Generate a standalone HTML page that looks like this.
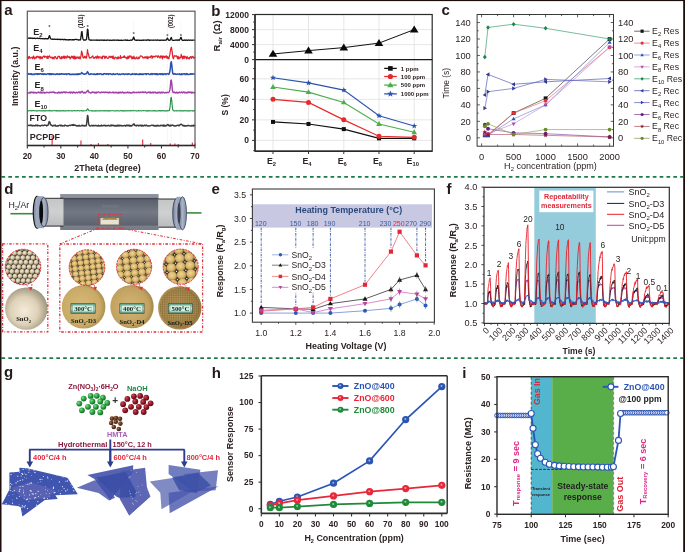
<!DOCTYPE html>
<html><head><meta charset="utf-8"><style>
html,body{margin:0;padding:0;background:#fff;}
svg{display:block;}
text{-webkit-font-smoothing:antialiased;}
</style></head><body>
<svg style="will-change:transform" width="685" height="552" viewBox="0 0 685 552" font-family="Liberation Sans, sans-serif">
<rect x="0" y="0" width="685" height="552" fill="#ffffff"/>
<line x1="49.44" y1="22" x2="49.44" y2="145.5" stroke="#f0d0da" stroke-width="0.5" stroke-dasharray="1.2,1.6"/>
<line x1="81.63" y1="22" x2="81.63" y2="145.5" stroke="#f0d0da" stroke-width="0.5" stroke-dasharray="1.2,1.6"/>
<line x1="87.67" y1="22" x2="87.67" y2="145.5" stroke="#f0d0da" stroke-width="0.5" stroke-dasharray="1.2,1.6"/>
<line x1="133.62" y1="22" x2="133.62" y2="145.5" stroke="#f0d0da" stroke-width="0.5" stroke-dasharray="1.2,1.6"/>
<line x1="167.5" y1="22" x2="167.5" y2="145.5" stroke="#f0d0da" stroke-width="0.5" stroke-dasharray="1.2,1.6"/>
<line x1="171.19" y1="22" x2="171.19" y2="145.5" stroke="#f0d0da" stroke-width="0.5" stroke-dasharray="1.2,1.6"/>
<line x1="180.91" y1="22" x2="180.91" y2="145.5" stroke="#f0d0da" stroke-width="0.5" stroke-dasharray="1.2,1.6"/>
<polyline points="27.3,38.07 27.79,38.22 28.29,38.14 28.78,38.26 29.27,38.27 29.77,37.99 30.26,37.97 30.75,38.39 31.25,38.11 31.74,38.1 32.23,38.49 32.73,38.24 33.22,38.43 33.71,38.26 34.21,38.35 34.7,38.12 35.19,38.38 35.69,38.51 36.18,38.35 36.67,38.47 37.16,38.45 37.66,38.16 38.15,38.53 38.64,38.46 39.14,38.33 39.63,38.22 40.12,38.65 40.62,38.48 41.11,38.62 41.6,38.72 42.1,38.66 42.59,38.79 43.08,38.54 43.58,38.77 44.07,38.61 44.56,38.88 45.06,38.88 45.55,38.51 46.04,38.55 46.54,38.62 47.03,39.02 47.52,38.77 48.02,38.82 48.51,38.08 49,36.55 49.5,35.57 49.99,36.98 50.48,38.56 50.98,38.98 51.47,39.21 51.96,39.13 52.45,39.27 52.95,39.26 53.44,39.36 53.93,39.22 54.43,38.99 54.92,39.37 55.41,39.44 55.91,39.44 56.4,39.29 56.89,39.39 57.39,39.16 57.88,39.49 58.37,39.39 58.87,39.27 59.36,39.18 59.85,39.6 60.35,39.69 60.84,39.26 61.33,39.64 61.83,39.46 62.32,39.35 62.81,39.45 63.31,39.7 63.8,39.77 64.29,39.38 64.79,39.68 65.28,39.42 65.77,39.77 66.27,39.6 66.76,39.89 67.25,39.96 67.75,39.74 68.24,40 68.73,39.67 69.22,39.57 69.72,39.85 70.21,39.58 70.7,39.67 71.2,39.79 71.69,39.9 72.18,39.68 72.68,39.61 73.17,39.98 73.66,39.64 74.16,39.87 74.65,39.73 75.14,39.36 75.64,39.34 76.13,39.38 76.62,39.51 77.12,39.6 77.61,39.72 78.1,39.87 78.6,40.12 79.09,39.97 79.58,39.97 80.08,40.09 80.57,39.32 81.06,36.47 81.56,31.8 82.05,31.58 82.54,36.62 83.04,39.25 83.53,40 84.02,40.12 84.52,39.85 85.01,40.15 85.5,40.17 86,39.82 86.49,39.26 86.98,35.1 87.47,29.04 87.97,29.83 88.46,36.41 88.95,39.67 89.45,39.86 89.94,39.92 90.43,40.23 90.93,40.38 91.42,40.02 91.91,40.13 92.41,40.2 92.9,40.07 93.39,40.09 93.89,40.07 94.38,40.1 94.87,40.21 95.37,40.07 95.86,40.11 96.35,40.31 96.85,39.94 97.34,40.21 97.83,40.29 98.33,40.08 98.82,40.04 99.31,40.33 99.81,40.05 100.3,40.03 100.79,40.15 101.29,40.28 101.78,39.99 102.27,40.1 102.76,40.1 103.26,40.35 103.75,40.16 104.24,40.37 104.74,40.02 105.23,40.11 105.72,40.27 106.22,40.38 106.71,40.17 107.2,40.06 107.7,40 108.19,40.21 108.68,40.04 109.18,40.35 109.67,40.36 110.16,40.04 110.66,40.09 111.15,40.35 111.64,40.27 112.14,40.35 112.63,40.12 113.12,40.01 113.62,40.09 114.11,40.34 114.6,40.08 115.1,40.12 115.59,40.16 116.08,40.16 116.58,40.15 117.07,40.41 117.56,40.03 118.06,39.95 118.55,40.42 119.04,40.39 119.53,40.44 120.03,40.17 120.52,40.42 121.01,40.41 121.51,40.06 122,40.32 122.49,40.37 122.99,40.28 123.48,40.21 123.97,40.09 124.47,40.12 124.96,40.06 125.45,39.98 125.95,40.24 126.44,40.09 126.93,40.35 127.43,39.97 127.92,40.4 128.41,40.3 128.91,40.41 129.4,40.4 129.89,40.4 130.39,40.24 130.88,39.96 131.37,40.32 131.87,40.02 132.36,39.93 132.85,39.2 133.35,37.43 133.84,37.22 134.33,39.15 134.83,40.03 135.32,40.1 135.81,40.08 136.31,40.38 136.8,40.19 137.29,40.34 137.78,40.13 138.28,40.05 138.77,40.22 139.26,40.36 139.76,40.04 140.25,40.35 140.74,40.41 141.24,40.35 141.73,40.36 142.22,39.95 142.72,40.26 143.21,40.38 143.7,39.97 144.2,40.09 144.69,40.08 145.18,40.21 145.68,40.16 146.17,40.19 146.66,40.34 147.16,39.95 147.65,39.98 148.14,40.01 148.64,40.01 149.13,39.98 149.62,40.44 150.12,40.38 150.61,39.99 151.1,40.2 151.6,40.11 152.09,40.11 152.58,40.13 153.08,40.27 153.57,40.24 154.06,40.13 154.55,40.05 155.05,40.11 155.54,40.01 156.03,40.23 156.53,40.31 157.02,40.14 157.51,39.99 158.01,40.04 158.5,40.14 158.99,40.25 159.49,40.34 159.98,40.14 160.47,40.35 160.97,40.26 161.46,40.17 161.95,40.14 162.45,40.2 162.94,40.3 163.43,40.16 163.93,40.3 164.42,40.18 164.91,40.07 165.41,40.22 165.9,40.29 166.39,39.84 166.89,39.2 167.38,38.03 167.87,38.78 168.37,40.01 168.86,40.1 169.35,40.4 169.84,40.3 170.34,39.56 170.83,38.22 171.32,37.52 171.82,39.28 172.31,40.12 172.8,40.39 173.3,40.35 173.79,40.28 174.28,40.32 174.78,40.23 175.27,40 175.76,40.24 176.26,39.95 176.75,40.02 177.24,40.34 177.74,39.97 178.23,40 178.72,40 179.22,40.38 179.71,39.83 180.2,38.77 180.7,37.62 181.19,37.4 181.68,39.36 182.18,40.13 182.67,40.36 183.16,40.43 183.66,40.24 184.15,40.35 184.64,39.97 185.14,40.33 185.63,40.21 186.12,40.31 186.61,40 187.11,40.32 187.6,40.42 188.09,39.98 188.59,40.11 189.08,40.23 189.57,40.36 190.07,40.07 190.56,40.04 191.05,40.07 191.55,40.26 192.04,40.33 192.53,40.15 193.03,40.13 193.52,40.15 194.01,40.13 194.51,40.16 195,39.99" stroke="#151515" stroke-width="1.3" fill="none" stroke-linejoin="round"/>
<polyline points="27.3,57.4 27.79,59.01 28.29,57.1 28.78,58.24 29.27,56.25 29.77,58.05 30.26,58.27 30.75,57.99 31.25,57.46 31.74,57.34 32.23,57.89 32.73,58.75 33.22,56.21 33.71,56.03 34.21,58.24 34.7,58.82 35.19,57.46 35.69,57.21 36.18,58.14 36.67,56.33 37.16,56.61 37.66,56.38 38.15,57.69 38.64,56.77 39.14,56.49 39.63,58.05 40.12,58.94 40.62,56.71 41.11,58.1 41.6,57.1 42.1,58.6 42.59,57.69 43.08,56.61 43.58,56.44 44.07,55.78 44.56,57.33 45.06,57 45.55,56.29 46.04,56.92 46.54,56.78 47.03,58.27 47.52,55.99 48.02,58.58 48.51,56.4 49,56.39 49.5,55.79 49.99,57.27 50.48,57.68 50.98,57.19 51.47,57.19 51.96,58.11 52.45,58.6 52.95,57.06 53.44,58.19 53.93,58.96 54.43,57.29 54.92,56.48 55.41,56.5 55.91,58.14 56.4,58 56.89,58.96 57.39,58.6 57.88,56.52 58.37,56.34 58.87,56.58 59.36,56.34 59.85,58.1 60.35,58.62 60.84,58.76 61.33,56.57 61.83,58.64 62.32,56.77 62.81,57.14 63.31,58.18 63.8,55.99 64.29,56.01 64.79,58.54 65.28,56.69 65.77,56.91 66.27,57.67 66.76,58 67.25,55.72 67.75,56.84 68.24,57.18 68.73,57.35 69.22,56.41 69.72,57.69 70.21,58.95 70.7,57.03 71.2,57.55 71.69,56.11 72.18,56.63 72.68,57.96 73.17,56.08 73.66,58.72 74.16,58.79 74.65,56.03 75.14,58.9 75.64,56.97 76.13,58.33 76.62,58.27 77.12,56.7 77.61,58 78.1,57.92 78.6,58.44 79.09,56.6 79.58,58.26 80.08,58.95 80.57,57.65 81.06,55.51 81.56,51.17 82.05,52.46 82.54,54.88 83.04,57.8 83.53,57.98 84.02,57.63 84.52,56.32 85.01,57.9 85.5,57.84 86,56.27 86.49,58.19 86.98,55.01 87.47,49.6 87.97,52.91 88.46,53.95 88.95,56.49 89.45,58.13 89.94,57.73 90.43,57.59 90.93,57.9 91.42,57.26 91.91,56.76 92.41,56.3 92.9,55.93 93.39,58.13 93.89,58.27 94.38,57.55 94.87,58.21 95.37,56.92 95.86,56.6 96.35,57 96.85,58.67 97.34,55.84 97.83,57.42 98.33,56.54 98.82,58.31 99.31,56.9 99.81,56.83 100.3,57.07 100.79,57.54 101.29,58.32 101.78,56.9 102.27,58.58 102.76,56.08 103.26,56.62 103.75,56.04 104.24,56.08 104.74,58.35 105.23,58.17 105.72,56.33 106.22,56.34 106.71,57.12 107.2,58.23 107.7,58.47 108.19,58.25 108.68,57.71 109.18,56.2 109.67,57.05 110.16,56.36 110.66,57.49 111.15,57.63 111.64,56.39 112.14,56.55 112.63,58.36 113.12,55.8 113.62,58.43 114.11,58.73 114.6,58.93 115.1,57 115.59,57.58 116.08,57.68 116.58,57.85 117.07,59.02 117.56,58.03 118.06,56.72 118.55,58.62 119.04,57.35 119.53,57.74 120.03,58.17 120.52,55.71 121.01,58.32 121.51,57.95 122,57.37 122.49,57.48 122.99,57.27 123.48,56.36 123.97,57.5 124.47,55.83 124.96,57.4 125.45,57.9 125.95,57.21 126.44,57.62 126.93,58.96 127.43,58.73 127.92,56.16 128.41,58.39 128.91,57.82 129.4,55.87 129.89,56.92 130.39,56.49 130.88,55.96 131.37,57.53 131.87,58.86 132.36,56.8 132.85,58.66 133.35,58.06 133.84,56.16 134.33,58.62 134.83,57.74 135.32,58.85 135.81,58.13 136.31,58.22 136.8,56.87 137.29,58.44 137.78,58.87 138.28,58.63 138.77,57.19 139.26,58.27 139.76,57.35 140.25,56.07 140.74,55.85 141.24,55.97 141.73,56.38 142.22,56.25 142.72,57.39 143.21,58.08 143.7,57.53 144.2,57.14 144.69,57.91 145.18,56.74 145.68,57.28 146.17,58.27 146.66,57.06 147.16,56.31 147.65,58.76 148.14,58.15 148.64,56.95 149.13,56.96 149.62,57.5 150.12,57.73 150.61,56.46 151.1,55.71 151.6,56.41 152.09,58.36 152.58,56.19 153.08,57.26 153.57,56.36 154.06,56.41 154.55,56.28 155.05,57.07 155.54,56.27 156.03,55.79 156.53,56.07 157.02,56.27 157.51,57.37 158.01,55.9 158.5,55.78 158.99,57.22 159.49,57.09 159.98,58.09 160.47,55.87 160.97,57.07 161.46,57.05 161.95,55.79 162.45,58.98 162.94,56.44 163.43,56.02 163.93,57.31 164.42,56.26 164.91,57.82 165.41,56.88 165.9,56.12 166.39,55.88 166.89,58.17 167.38,56.64 167.87,58.38 168.37,57.28 168.86,58.82 169.35,56.33 169.84,54.69 170.34,51.2 170.83,48.76 171.32,47.04 171.82,49.45 172.31,52.86 172.8,57.19 173.3,58.86 173.79,57.7 174.28,55.71 174.78,55.8 175.27,56.01 175.76,56.28 176.26,55.82 176.75,55.88 177.24,57.92 177.74,58.76 178.23,56.38 178.72,59 179.22,57.23 179.71,58.07 180.2,57.91 180.7,57.46 181.19,54.43 181.68,55.9 182.18,57.45 182.67,58.85 183.16,55.99 183.66,56.7 184.15,58.59 184.64,56.09 185.14,57.03 185.63,56.84 186.12,58.01 186.61,58.86 187.11,56.29 187.6,58.22 188.09,58.2 188.59,58.54 189.08,57.58 189.57,58.84 190.07,56.93 190.56,57.11 191.05,56.48 191.55,58.35 192.04,57.33 192.53,56.62 193.03,56.28 193.52,58.15 194.01,57.76 194.51,58.12 195,57.02" stroke="#e0202a" stroke-width="1.2" fill="none" stroke-linejoin="round"/>
<polyline points="27.3,74.09 27.79,73.75 28.29,74.31 28.78,73.62 29.27,74.07 29.77,74.36 30.26,74.28 30.75,73.7 31.25,73.84 31.74,74.44 32.23,74.24 32.73,74.48 33.22,74.47 33.71,74.05 34.21,74.5 34.7,74.33 35.19,73.93 35.69,73.97 36.18,73.67 36.67,74 37.16,74.56 37.66,73.7 38.15,74.17 38.64,73.71 39.14,73.68 39.63,74.25 40.12,73.84 40.62,73.65 41.11,73.75 41.6,74.24 42.1,74.19 42.59,73.61 43.08,73.83 43.58,74.57 44.07,73.82 44.56,74.16 45.06,74.02 45.55,74.38 46.04,74.2 46.54,74.39 47.03,74.14 47.52,73.79 48.02,73.78 48.51,73.68 49,74.43 49.5,73.71 49.99,73.62 50.48,74.57 50.98,73.8 51.47,74.49 51.96,73.69 52.45,74.07 52.95,73.82 53.44,74.43 53.93,74.22 54.43,74.24 54.92,74.36 55.41,74.47 55.91,73.95 56.4,74.2 56.89,74.05 57.39,73.71 57.88,74.44 58.37,74.19 58.87,74.41 59.36,73.81 59.85,74.14 60.35,74.06 60.84,74.33 61.33,73.68 61.83,73.95 62.32,74.08 62.81,73.67 63.31,74.15 63.8,74.34 64.29,74.02 64.79,74.25 65.28,74.21 65.77,73.81 66.27,73.95 66.76,74.6 67.25,73.94 67.75,74.03 68.24,73.68 68.73,73.82 69.22,73.77 69.72,74.53 70.21,74.33 70.7,74.47 71.2,74.59 71.69,74.21 72.18,74.53 72.68,74.14 73.17,74.02 73.66,74.55 74.16,74.5 74.65,74.55 75.14,74.08 75.64,74.37 76.13,74.01 76.62,74.6 77.12,74.52 77.61,73.89 78.1,74.53 78.6,73.78 79.09,73.7 79.58,74.32 80.08,73.88 80.57,73.97 81.06,73.64 81.56,72.45 82.05,73.15 82.54,73.28 83.04,73.88 83.53,73.93 84.02,74.34 84.52,74.35 85.01,73.89 85.5,73.7 86,73.86 86.49,73.71 86.98,72.56 87.47,71.67 87.97,72.42 88.46,73.39 88.95,74.36 89.45,74.55 89.94,74.47 90.43,73.97 90.93,73.76 91.42,73.91 91.91,74.06 92.41,74.13 92.9,74.14 93.39,73.96 93.89,74.45 94.38,73.89 94.87,74.06 95.37,74.49 95.86,74.41 96.35,73.9 96.85,73.84 97.34,74.41 97.83,73.61 98.33,73.73 98.82,74.13 99.31,74.14 99.81,73.77 100.3,73.65 100.79,73.8 101.29,74.37 101.78,74.07 102.27,74.58 102.76,74.39 103.26,74.58 103.75,73.64 104.24,73.79 104.74,73.61 105.23,74.03 105.72,73.94 106.22,73.65 106.71,74.15 107.2,73.69 107.7,73.91 108.19,73.85 108.68,74.4 109.18,74.02 109.67,73.86 110.16,73.64 110.66,74.03 111.15,74.23 111.64,74.28 112.14,74.51 112.63,74.41 113.12,73.85 113.62,73.74 114.11,74.36 114.6,74.39 115.1,74.11 115.59,74.43 116.08,74.15 116.58,73.88 117.07,73.77 117.56,73.62 118.06,74.24 118.55,74.5 119.04,74.51 119.53,74.07 120.03,74.27 120.52,74.53 121.01,74.41 121.51,74.2 122,74.01 122.49,74.12 122.99,73.77 123.48,73.78 123.97,74.28 124.47,74.59 124.96,74.15 125.45,74.01 125.95,73.95 126.44,74.05 126.93,74.4 127.43,74.05 127.92,74.56 128.41,73.76 128.91,73.91 129.4,74.12 129.89,74.01 130.39,74.45 130.88,74.43 131.37,74.53 131.87,74.21 132.36,73.63 132.85,74.17 133.35,74.15 133.84,74.09 134.33,73.88 134.83,74.31 135.32,74.51 135.81,73.7 136.31,74.27 136.8,73.97 137.29,74.11 137.78,74.5 138.28,74.56 138.77,74.24 139.26,73.8 139.76,74.52 140.25,73.78 140.74,73.98 141.24,74.43 141.73,73.92 142.22,73.87 142.72,74.55 143.21,74.54 143.7,73.92 144.2,73.99 144.69,73.88 145.18,73.73 145.68,73.85 146.17,74.58 146.66,73.68 147.16,73.83 147.65,73.8 148.14,73.68 148.64,74.13 149.13,74.34 149.62,74.44 150.12,74.23 150.61,74.42 151.1,73.61 151.6,73.88 152.09,74.56 152.58,73.67 153.08,73.87 153.57,74.08 154.06,73.87 154.55,74.15 155.05,73.65 155.54,73.84 156.03,74.56 156.53,73.74 157.02,74.51 157.51,73.78 158.01,74.59 158.5,74.27 158.99,74.25 159.49,73.74 159.98,73.65 160.47,74.36 160.97,73.78 161.46,73.79 161.95,74.42 162.45,74.47 162.94,73.65 163.43,74.56 163.93,74.13 164.42,73.98 164.91,73.71 165.41,73.99 165.9,74.59 166.39,73.88 166.89,73.73 167.38,73.75 167.87,73.73 168.37,73.95 168.86,74.45 169.35,73.21 169.84,71.59 170.34,68.15 170.83,63.12 171.32,61.82 171.82,65.08 172.31,70.23 172.8,73.57 173.3,73.93 173.79,74.29 174.28,73.91 174.78,73.62 175.27,73.95 175.76,74.35 176.26,74.38 176.75,74.17 177.24,74.06 177.74,74.14 178.23,74.04 178.72,74.13 179.22,74.43 179.71,73.8 180.2,74.19 180.7,74.53 181.19,74.45 181.68,73.78 182.18,74.56 182.67,74.44 183.16,73.77 183.66,73.87 184.15,73.8 184.64,73.65 185.14,74.58 185.63,74.01 186.12,74.47 186.61,73.71 187.11,73.61 187.6,74.47 188.09,74.39 188.59,74.59 189.08,74.29 189.57,74.13 190.07,74.37 190.56,73.69 191.05,74.14 191.55,74.04 192.04,73.75 192.53,74.2 193.03,73.92 193.52,74.11 194.01,73.97 194.51,73.92 195,73.96" stroke="#2a50b0" stroke-width="1.5" fill="none" stroke-linejoin="round"/>
<polyline points="27.3,92.62 27.79,93.08 28.29,93.02 28.78,92.93 29.27,92.9 29.77,92.24 30.26,93.07 30.75,92.22 31.25,92.05 31.74,92.5 32.23,92.78 32.73,92.31 33.22,92.67 33.71,92.24 34.21,93.06 34.7,92.44 35.19,92.47 35.69,92.54 36.18,92.95 36.67,93.08 37.16,92.53 37.66,92.43 38.15,92.64 38.64,91.98 39.14,92.41 39.63,92.92 40.12,92.83 40.62,91.97 41.11,92.93 41.6,92.36 42.1,93.08 42.59,92.34 43.08,92.16 43.58,92.56 44.07,92.96 44.56,92.42 45.06,92.94 45.55,92.75 46.04,92.33 46.54,92.26 47.03,92.51 47.52,92.38 48.02,92.35 48.51,92.68 49,92.95 49.5,92.6 49.99,92.08 50.48,92.16 50.98,92.35 51.47,92.64 51.96,92.07 52.45,92 52.95,92.28 53.44,92.24 53.93,91.94 54.43,92.55 54.92,93.01 55.41,92.54 55.91,92.78 56.4,92.89 56.89,92.91 57.39,93 57.88,92.43 58.37,92.72 58.87,92.04 59.36,92.96 59.85,92.35 60.35,92.47 60.84,92.97 61.33,92.24 61.83,92.13 62.32,92.89 62.81,92.62 63.31,92 63.8,91.93 64.29,92.32 64.79,91.91 65.28,92.9 65.77,92.12 66.27,92.23 66.76,92.37 67.25,92.51 67.75,92.42 68.24,92.65 68.73,92.69 69.22,92.42 69.72,92.02 70.21,93.07 70.7,92.73 71.2,92 71.69,92.43 72.18,92.8 72.68,93.09 73.17,91.98 73.66,91.91 74.16,92.48 74.65,92.41 75.14,92.97 75.64,92.89 76.13,92.3 76.62,92.4 77.12,92.6 77.61,92.96 78.1,92.14 78.6,92.37 79.09,92.01 79.58,92.67 80.08,91.92 80.57,92.93 81.06,92.16 81.56,91.85 82.05,91.27 82.54,91.81 83.04,92.37 83.53,92.92 84.02,92.55 84.52,92.24 85.01,93.08 85.5,92.69 86,92.5 86.49,91.87 86.98,91.24 87.47,91.09 87.97,90.29 88.46,91.71 88.95,92.45 89.45,92.3 89.94,92.82 90.43,92.99 90.93,92.93 91.42,92.79 91.91,92.14 92.41,91.97 92.9,92.42 93.39,92.27 93.89,92.13 94.38,92.95 94.87,92.16 95.37,92.89 95.86,93.03 96.35,92.04 96.85,93 97.34,92.38 97.83,92.15 98.33,92.12 98.82,91.95 99.31,92.5 99.81,92.36 100.3,92.92 100.79,92.9 101.29,91.97 101.78,92.38 102.27,92.37 102.76,92.11 103.26,92.2 103.75,92.22 104.24,92.73 104.74,92.31 105.23,92.03 105.72,92.16 106.22,92.43 106.71,92.58 107.2,92.19 107.7,92.74 108.19,92.16 108.68,92.7 109.18,92.63 109.67,92.11 110.16,92.8 110.66,92.37 111.15,92.55 111.64,92.62 112.14,92.65 112.63,92.43 113.12,91.97 113.62,92.84 114.11,92.93 114.6,92.49 115.1,92.59 115.59,92.22 116.08,92.98 116.58,92.72 117.07,92.17 117.56,92.88 118.06,93.08 118.55,92.32 119.04,93.09 119.53,92.48 120.03,92.11 120.52,92.76 121.01,92.31 121.51,92.78 122,92.6 122.49,92.03 122.99,92.53 123.48,92.92 123.97,92.47 124.47,92.55 124.96,92.94 125.45,92.44 125.95,92.49 126.44,92.6 126.93,92.89 127.43,92.14 127.92,92.01 128.41,92.81 128.91,92.56 129.4,92.26 129.89,92.97 130.39,92.96 130.88,92.55 131.37,93.09 131.87,92.9 132.36,92.8 132.85,92.25 133.35,91.91 133.84,92.71 134.33,92.78 134.83,92.32 135.32,92.47 135.81,92.58 136.31,92.2 136.8,92.74 137.29,92.58 137.78,92.36 138.28,92.03 138.77,92.56 139.26,92.28 139.76,92.77 140.25,92.11 140.74,92.37 141.24,92.14 141.73,92.39 142.22,92.59 142.72,92.03 143.21,91.97 143.7,92.48 144.2,92.14 144.69,92.51 145.18,92.1 145.68,92.02 146.17,92.55 146.66,93.01 147.16,92.94 147.65,92.52 148.14,92.38 148.64,91.98 149.13,92.23 149.62,92.28 150.12,93.03 150.61,92.04 151.1,93.04 151.6,92.47 152.09,92.42 152.58,92.21 153.08,93.06 153.57,92.12 154.06,92.59 154.55,92.51 155.05,92.14 155.54,92.17 156.03,93.08 156.53,92.85 157.02,92.78 157.51,92.98 158.01,92.02 158.5,92.74 158.99,92.8 159.49,92.17 159.98,92.45 160.47,93.07 160.97,92.29 161.46,92.81 161.95,92.1 162.45,92.7 162.94,92.22 163.43,92.51 163.93,92.35 164.42,92.94 164.91,92.79 165.41,92.5 165.9,92.72 166.39,92.41 166.89,92.87 167.38,92.21 167.87,92.55 168.37,92.6 168.86,92.3 169.35,91.49 169.84,89.91 170.34,86.28 170.83,80.68 171.32,80.05 171.82,83.74 172.31,89.32 172.8,91.94 173.3,92.61 173.79,92.33 174.28,91.95 174.78,92.57 175.27,92.79 175.76,93.01 176.26,92.14 176.75,92.09 177.24,93.08 177.74,92.79 178.23,92.48 178.72,92.79 179.22,92.08 179.71,92.55 180.2,92.7 180.7,92.62 181.19,92.09 181.68,92.06 182.18,92.65 182.67,92.96 183.16,92.07 183.66,91.91 184.15,92 184.64,92.84 185.14,92.37 185.63,92.45 186.12,93.09 186.61,92.63 187.11,92.22 187.6,92.74 188.09,91.9 188.59,92.24 189.08,92.74 189.57,92.1 190.07,91.94 190.56,92.52 191.05,92.29 191.55,93.07 192.04,92.02 192.53,92.86 193.03,92.37 193.52,92.87 194.01,92.43 194.51,92.7 195,92.29" stroke="#a040a8" stroke-width="1.4" fill="none" stroke-linejoin="round"/>
<polyline points="27.3,110.69 27.79,110.78 28.29,110.92 28.78,110.74 29.27,110.69 29.77,110.77 30.26,110.64 30.75,110.73 31.25,110.83 31.74,110.82 32.23,110.84 32.73,110.72 33.22,110.61 33.71,110.61 34.21,110.74 34.7,110.68 35.19,110.83 35.69,110.71 36.18,110.9 36.67,110.84 37.16,110.86 37.66,110.89 38.15,110.81 38.64,110.77 39.14,110.72 39.63,110.63 40.12,110.92 40.62,110.8 41.11,110.64 41.6,110.97 42.1,110.83 42.59,110.85 43.08,110.78 43.58,110.65 44.07,111 44.56,110.67 45.06,110.75 45.55,111 46.04,110.65 46.54,110.8 47.03,110.79 47.52,110.7 48.02,110.97 48.51,110.77 49,110.6 49.5,110.79 49.99,110.6 50.48,110.88 50.98,110.95 51.47,110.96 51.96,110.62 52.45,110.87 52.95,110.72 53.44,110.79 53.93,110.72 54.43,110.72 54.92,110.65 55.41,110.85 55.91,110.64 56.4,110.99 56.89,110.62 57.39,110.99 57.88,110.68 58.37,110.63 58.87,110.9 59.36,110.81 59.85,110.91 60.35,110.8 60.84,110.85 61.33,110.63 61.83,110.87 62.32,110.8 62.81,110.98 63.31,110.6 63.8,110.63 64.29,110.87 64.79,110.97 65.28,110.77 65.77,110.88 66.27,110.82 66.76,110.76 67.25,110.79 67.75,110.84 68.24,110.61 68.73,110.72 69.22,110.9 69.72,110.7 70.21,110.79 70.7,110.7 71.2,110.74 71.69,110.86 72.18,110.9 72.68,110.98 73.17,110.79 73.66,110.68 74.16,110.73 74.65,110.62 75.14,110.7 75.64,110.83 76.13,110.84 76.62,110.7 77.12,110.67 77.61,110.64 78.1,110.67 78.6,110.8 79.09,110.7 79.58,110.95 80.08,110.83 80.57,110.74 81.06,110.77 81.56,110.62 82.05,110.89 82.54,110.9 83.04,110.75 83.53,110.89 84.02,110.71 84.52,110.69 85.01,110.69 85.5,110.68 86,110.81 86.49,110.58 86.98,109.88 87.47,108.75 87.97,109.14 88.46,109.97 88.95,110.56 89.45,110.78 89.94,110.77 90.43,110.68 90.93,110.76 91.42,110.86 91.91,110.89 92.41,110.97 92.9,110.68 93.39,110.96 93.89,110.92 94.38,110.89 94.87,110.99 95.37,110.66 95.86,110.91 96.35,110.96 96.85,110.65 97.34,110.84 97.83,110.98 98.33,110.72 98.82,110.94 99.31,110.96 99.81,110.77 100.3,110.66 100.79,110.69 101.29,110.93 101.78,110.77 102.27,110.73 102.76,110.78 103.26,110.97 103.75,110.7 104.24,110.61 104.74,110.98 105.23,110.73 105.72,110.75 106.22,110.99 106.71,110.71 107.2,110.63 107.7,110.96 108.19,110.7 108.68,110.69 109.18,110.98 109.67,110.69 110.16,110.96 110.66,110.73 111.15,110.72 111.64,110.69 112.14,110.82 112.63,110.82 113.12,110.76 113.62,110.8 114.11,110.72 114.6,110.94 115.1,110.97 115.59,110.9 116.08,110.93 116.58,110.63 117.07,110.7 117.56,110.68 118.06,110.66 118.55,110.99 119.04,110.96 119.53,110.97 120.03,110.82 120.52,110.65 121.01,110.77 121.51,110.62 122,110.96 122.49,110.71 122.99,110.72 123.48,110.98 123.97,110.68 124.47,110.97 124.96,110.72 125.45,110.87 125.95,110.64 126.44,110.96 126.93,110.76 127.43,110.74 127.92,110.86 128.41,110.84 128.91,110.7 129.4,110.65 129.89,110.83 130.39,110.61 130.88,110.95 131.37,110.74 131.87,110.67 132.36,110.73 132.85,110.65 133.35,110.73 133.84,110.82 134.33,110.76 134.83,110.73 135.32,110.72 135.81,110.79 136.31,110.91 136.8,110.78 137.29,110.91 137.78,110.79 138.28,110.65 138.77,110.67 139.26,110.94 139.76,110.79 140.25,110.75 140.74,110.81 141.24,110.94 141.73,110.75 142.22,110.74 142.72,110.75 143.21,110.6 143.7,110.82 144.2,110.79 144.69,110.8 145.18,110.78 145.68,110.79 146.17,110.89 146.66,110.67 147.16,110.99 147.65,110.65 148.14,110.95 148.64,110.67 149.13,110.92 149.62,110.7 150.12,110.63 150.61,110.82 151.1,110.94 151.6,110.94 152.09,110.95 152.58,110.99 153.08,110.62 153.57,110.75 154.06,110.64 154.55,110.9 155.05,110.78 155.54,110.9 156.03,110.92 156.53,111 157.02,110.87 157.51,110.95 158.01,110.82 158.5,110.63 158.99,110.96 159.49,110.64 159.98,110.63 160.47,110.93 160.97,110.71 161.46,110.86 161.95,110.61 162.45,110.68 162.94,110.89 163.43,110.62 163.93,110.8 164.42,110.97 164.91,110.69 165.41,110.88 165.9,110.9 166.39,110.85 166.89,110.91 167.38,110.88 167.87,110.61 168.37,110.67 168.86,110.75 169.35,110.48 169.84,108.32 170.34,103.96 170.83,98.29 171.32,97.2 171.82,101.33 172.31,106.79 172.8,109.81 173.3,110.48 173.79,110.87 174.28,110.92 174.78,110.94 175.27,110.71 175.76,110.69 176.26,110.67 176.75,110.96 177.24,110.78 177.74,110.76 178.23,110.81 178.72,110.88 179.22,110.73 179.71,110.73 180.2,110.91 180.7,110.91 181.19,110.72 181.68,110.63 182.18,110.97 182.67,110.89 183.16,110.84 183.66,110.76 184.15,110.98 184.64,110.77 185.14,110.69 185.63,110.64 186.12,110.74 186.61,110.84 187.11,110.75 187.6,110.98 188.09,110.86 188.59,110.78 189.08,110.86 189.57,110.84 190.07,110.85 190.56,110.8 191.05,110.81 191.55,110.8 192.04,110.93 192.53,110.68 193.03,110.91 193.52,110.72 194.01,110.94 194.51,110.63 195,110.79" stroke="#1e9040" stroke-width="1.1" fill="none" stroke-linejoin="round"/>
<polyline points="27.3,125.54 27.79,125.83 28.29,125.27 28.78,125.34 29.27,125.2 29.77,125.67 30.26,125.68 30.75,125.05 31.25,125.25 31.74,125.27 32.23,126.1 32.73,125.55 33.22,125.67 33.71,125.37 34.21,125.78 34.7,125.94 35.19,125.79 35.69,125.05 36.18,125.53 36.67,125.59 37.16,125.1 37.66,125.92 38.15,125.4 38.64,125.37 39.14,125.74 39.63,125.69 40.12,125.6 40.62,126 41.11,125.62 41.6,125.43 42.1,125.12 42.59,125.66 43.08,125.45 43.58,125.64 44.07,125.43 44.56,125.06 45.06,125.09 45.55,125.22 46.04,125.15 46.54,125.99 47.03,125.68 47.52,125.2 48.02,125.29 48.51,124.04 49,121.8 49.5,121.89 49.99,122.34 50.48,124.79 50.98,124.82 51.47,125.3 51.96,125.32 52.45,126 52.95,125.95 53.44,125.69 53.93,125.21 54.43,125.52 54.92,125.82 55.41,125.11 55.91,126.06 56.4,125.98 56.89,126.07 57.39,125.82 57.88,125.73 58.37,126.12 58.87,125.34 59.36,125.39 59.85,125.19 60.35,125.25 60.84,125.93 61.33,125.15 61.83,125.87 62.32,125.49 62.81,126.02 63.31,125.89 63.8,125.8 64.29,125.98 64.79,125.09 65.28,125.34 65.77,125.45 66.27,125.51 66.76,125.76 67.25,125.98 67.75,125.8 68.24,125.98 68.73,125.68 69.22,125.26 69.72,125.37 70.21,125.57 70.7,125.58 71.2,125.03 71.69,124.97 72.18,125.23 72.68,124.8 73.17,125.54 73.66,124.6 74.16,125.36 74.65,125.24 75.14,124.99 75.64,125.46 76.13,125.41 76.62,125.99 77.12,125.94 77.61,125.64 78.1,125.98 78.6,126 79.09,125.22 79.58,125.95 80.08,125.96 80.57,126.14 81.06,125.88 81.56,125.48 82.05,125.28 82.54,125.77 83.04,125.28 83.53,125.88 84.02,125.68 84.52,125.96 85.01,125.44 85.5,125.38 86,125.98 86.49,124.94 86.98,120.88 87.47,115.43 87.97,116.16 88.46,122.25 88.95,125.08 89.45,125.33 89.94,126.13 90.43,126.02 90.93,125.88 91.42,125.36 91.91,125.26 92.41,125.85 92.9,125.95 93.39,125.77 93.89,125.28 94.38,125.84 94.87,125.63 95.37,125.46 95.86,125.7 96.35,125.54 96.85,125.76 97.34,125.88 97.83,126.13 98.33,125.17 98.82,125.68 99.31,126.09 99.81,125.77 100.3,125.69 100.79,125.99 101.29,125.08 101.78,125.92 102.27,125.74 102.76,125.69 103.26,125.39 103.75,125.73 104.24,125.19 104.74,125.63 105.23,125.33 105.72,126.07 106.22,125.94 106.71,125.57 107.2,125.88 107.7,125.47 108.19,125.63 108.68,125.23 109.18,125.99 109.67,125.89 110.16,125.89 110.66,125.14 111.15,125.95 111.64,125.06 112.14,125.67 112.63,125.59 113.12,125.12 113.62,125.51 114.11,126.03 114.6,125.74 115.1,125.4 115.59,125.95 116.08,125.44 116.58,126.04 117.07,125.49 117.56,125.14 118.06,126.12 118.55,125.13 119.04,125.33 119.53,125.9 120.03,125.18 120.52,125.65 121.01,125.99 121.51,125.7 122,125.43 122.49,125.88 122.99,125.96 123.48,125.69 123.97,125.74 124.47,125.4 124.96,125.5 125.45,126.14 125.95,126.12 126.44,125.05 126.93,125.27 127.43,125.3 127.92,125.92 128.41,125.27 128.91,125.24 129.4,125.89 129.89,125.24 130.39,126.13 130.88,125.55 131.37,126.03 131.87,125.88 132.36,124.97 132.85,125.08 133.35,124.12 133.84,123.86 134.33,124.19 134.83,125.46 135.32,125.58 135.81,125.37 136.31,125.96 136.8,125.27 137.29,125.54 137.78,125.15 138.28,125.44 138.77,126.02 139.26,125.6 139.76,125.22 140.25,125.31 140.74,125.76 141.24,125.36 141.73,126.03 142.22,125.12 142.72,126.01 143.21,125.73 143.7,125.95 144.2,125.44 144.69,125.13 145.18,125.24 145.68,125.74 146.17,125.08 146.66,125.17 147.16,125.91 147.65,126.02 148.14,125.99 148.64,125.97 149.13,125.66 149.62,126.01 150.12,125.82 150.61,125.66 151.1,125.52 151.6,125.08 152.09,125.15 152.58,125.32 153.08,125.56 153.57,125.18 154.06,126.12 154.55,125.68 155.05,125.86 155.54,126.03 156.03,125.3 156.53,126.02 157.02,126.1 157.51,125.34 158.01,125.19 158.5,125.93 158.99,126.03 159.49,125.93 159.98,125.5 160.47,125.71 160.97,125.18 161.46,125.31 161.95,125.51 162.45,125.87 162.94,125.15 163.43,126.07 163.93,125.08 164.42,126.12 164.91,125.31 165.41,125.94 165.9,125.87 166.39,125.8 166.89,124.88 167.38,124.83 167.87,124.5 168.37,125.49 168.86,125.01 169.35,125.99 169.84,125.7 170.34,125.12 170.83,126.09 171.32,125.4 171.82,125.12 172.31,125.33 172.8,125.08 173.3,125.36 173.79,125.83 174.28,126.14 174.78,125.74 175.27,125.99 175.76,125.95 176.26,125.84 176.75,125.47 177.24,125.33 177.74,125.22 178.23,125.65 178.72,125.26 179.22,125.77 179.71,125.02 180.2,124.72 180.7,124.12 181.19,124.26 181.68,124.33 182.18,125 182.67,125.73 183.16,125.27 183.66,125.79 184.15,126.11 184.64,125.48 185.14,126.11 185.63,125.73 186.12,126.09 186.61,125.63 187.11,125.88 187.6,125.8 188.09,125.26 188.59,125.62 189.08,125.69 189.57,125.56 190.07,125.78 190.56,126.05 191.05,125.92 191.55,125.94 192.04,125.21 192.53,125.82 193.03,125.74 193.52,126.08 194.01,125.05 194.51,125.24 195,126.12" stroke="#3a3a3a" stroke-width="1.4" fill="none" stroke-linejoin="round"/>
<line x1="52.12" y1="145.5" x2="52.12" y2="136" stroke="#e8283a" stroke-width="1.1" />
<line x1="80.96" y1="145.5" x2="80.96" y2="140.5" stroke="#e8283a" stroke-width="1.1" />
<line x1="91.03" y1="145.5" x2="91.03" y2="144" stroke="#e8283a" stroke-width="1.1" />
<line x1="98.4" y1="145.5" x2="98.4" y2="143" stroke="#e8283a" stroke-width="1.1" />
<line x1="107.8" y1="145.5" x2="107.8" y2="144" stroke="#e8283a" stroke-width="1.1" />
<line x1="142.68" y1="145.5" x2="142.68" y2="139.5" stroke="#e8283a" stroke-width="1.1" />
<line x1="150.73" y1="145.5" x2="150.73" y2="143" stroke="#e8283a" stroke-width="1.1" />
<line x1="170.18" y1="145.5" x2="170.18" y2="143.5" stroke="#e8283a" stroke-width="1.1" />
<line x1="174.88" y1="145.5" x2="174.88" y2="143.5" stroke="#e8283a" stroke-width="1.1" />
<line x1="178.23" y1="145.5" x2="178.23" y2="144" stroke="#e8283a" stroke-width="1.1" />
<line x1="192.32" y1="145.5" x2="192.32" y2="142.5" stroke="#e8283a" stroke-width="1.1" />
<line x1="195" y1="145.5" x2="195" y2="143.5" stroke="#e8283a" stroke-width="1.1" />
<text x="49.44" y="28.5" font-size="6" font-weight="bold" fill="#555" text-anchor="middle" font-family="Liberation Sans" >*</text>
<text x="87.67" y="28.5" font-size="6" font-weight="bold" fill="#555" text-anchor="middle" font-family="Liberation Sans" >*</text>
<text x="133.62" y="35.8" font-size="6" font-weight="bold" fill="#555" text-anchor="middle" font-family="Liberation Sans" >*</text>
<text x="167.5" y="37.8" font-size="6" font-weight="bold" fill="#555" text-anchor="middle" font-family="Liberation Sans" >*</text>
<text x="180.91" y="38.4" font-size="6" font-weight="bold" fill="#555" text-anchor="middle" font-family="Liberation Sans" >*</text>
<text x="0" y="0" font-size="6.4" font-weight="bold" fill="#2e2323" text-anchor="middle" dominant-baseline="central" font-family="Liberation Sans" transform="translate(80,21.3) rotate(-90)" textLength="13.6" lengthAdjust="spacingAndGlyphs">(101)</text>
<text x="0" y="0" font-size="6.4" font-weight="bold" fill="#2e2323" text-anchor="middle" dominant-baseline="central" font-family="Liberation Sans" transform="translate(170.89,21.3) rotate(-90)" textLength="13.6" lengthAdjust="spacingAndGlyphs">(002)</text>
<rect x="27.3" y="11.2" width="167.7" height="134.3" fill="none" stroke="#5a5a5a" stroke-width="1.2" />
<line x1="27.3" y1="145.5" x2="195" y2="145.5" stroke="#2a2a2a" stroke-width="1.3" />
<line x1="27.3" y1="145.5" x2="27.3" y2="148.5" stroke="#333" stroke-width="1.1" />
<line x1="44.07" y1="145.5" x2="44.07" y2="147.5" stroke="#333" stroke-width="1.1" />
<line x1="60.84" y1="145.5" x2="60.84" y2="148.5" stroke="#333" stroke-width="1.1" />
<line x1="77.61" y1="145.5" x2="77.61" y2="147.5" stroke="#333" stroke-width="1.1" />
<line x1="94.38" y1="145.5" x2="94.38" y2="148.5" stroke="#333" stroke-width="1.1" />
<line x1="111.15" y1="145.5" x2="111.15" y2="147.5" stroke="#333" stroke-width="1.1" />
<line x1="127.92" y1="145.5" x2="127.92" y2="148.5" stroke="#333" stroke-width="1.1" />
<line x1="144.69" y1="145.5" x2="144.69" y2="147.5" stroke="#333" stroke-width="1.1" />
<line x1="161.46" y1="145.5" x2="161.46" y2="148.5" stroke="#333" stroke-width="1.1" />
<line x1="178.23" y1="145.5" x2="178.23" y2="147.5" stroke="#333" stroke-width="1.1" />
<line x1="195" y1="145.5" x2="195" y2="148.5" stroke="#333" stroke-width="1.1" />
<text x="27.3" y="159.3" font-size="8.4" font-weight="bold" fill="#2e2323" text-anchor="middle" font-family="Liberation Sans" >20</text>
<text x="60.84" y="159.3" font-size="8.4" font-weight="bold" fill="#2e2323" text-anchor="middle" font-family="Liberation Sans" >30</text>
<text x="94.38" y="159.3" font-size="8.4" font-weight="bold" fill="#2e2323" text-anchor="middle" font-family="Liberation Sans" >40</text>
<text x="127.92" y="159.3" font-size="8.4" font-weight="bold" fill="#2e2323" text-anchor="middle" font-family="Liberation Sans" >50</text>
<text x="161.46" y="159.3" font-size="8.4" font-weight="bold" fill="#2e2323" text-anchor="middle" font-family="Liberation Sans" >60</text>
<text x="195" y="159.3" font-size="8.4" font-weight="bold" fill="#2e2323" text-anchor="middle" font-family="Liberation Sans" >70</text>
<text x="107.5" y="171" font-size="8.8" font-weight="bold" fill="#2e2323" text-anchor="middle" font-family="Liberation Sans"  textLength="66.5" lengthAdjust="spacingAndGlyphs">2Theta (degree)</text>
<text x="0" y="0" font-size="8.8" font-weight="bold" fill="#2e2323" text-anchor="middle" dominant-baseline="central" font-family="Liberation Sans" transform="translate(15.3,76.4) rotate(-90)" textLength="59.4" lengthAdjust="spacingAndGlyphs">Intensity (a.u.)</text>
<text x="33.2" y="34.8" font-size="9" font-weight="bold" fill="#2e2323" font-family="Liberation Sans">E<tspan dy="2.2" font-size="6">2</tspan></text>
<text x="33.2" y="50.6" font-size="9" font-weight="bold" fill="#2e2323" font-family="Liberation Sans">E<tspan dy="2.2" font-size="6">4</tspan></text>
<text x="34.5" y="70.0" font-size="9" font-weight="bold" fill="#2e2323" font-family="Liberation Sans">E<tspan dy="2.2" font-size="6">6</tspan></text>
<text x="34.5" y="88.3" font-size="9" font-weight="bold" fill="#2e2323" font-family="Liberation Sans">E<tspan dy="2.2" font-size="6">8</tspan></text>
<text x="34.5" y="106.7" font-size="9" font-weight="bold" fill="#2e2323" font-family="Liberation Sans">E<tspan dy="2.2" font-size="6">10</tspan></text>
<text x="29.6" y="120.9" font-size="9.3" font-weight="bold" fill="#2e2323" text-anchor="start" font-family="Liberation Sans"  textLength="17.4" lengthAdjust="spacingAndGlyphs">FTO</text>
<text x="29.7" y="139.9" font-size="9.3" font-weight="bold" fill="#2e2323" text-anchor="start" font-family="Liberation Sans"  textLength="30.4" lengthAdjust="spacingAndGlyphs">PCPDF</text>
<text x="4.3" y="14.9" font-size="15" font-weight="bold" fill="#231a1a" text-anchor="start" font-family="Liberation Sans" >a</text>
<line x1="273" y1="14.5" x2="273" y2="151.2" stroke="#e0e0e0" stroke-width="0.8" />
<line x1="308.5" y1="14.5" x2="308.5" y2="151.2" stroke="#e0e0e0" stroke-width="0.8" />
<line x1="343.8" y1="14.5" x2="343.8" y2="151.2" stroke="#e0e0e0" stroke-width="0.8" />
<line x1="379" y1="14.5" x2="379" y2="151.2" stroke="#e0e0e0" stroke-width="0.8" />
<line x1="414.2" y1="14.5" x2="414.2" y2="151.2" stroke="#e0e0e0" stroke-width="0.8" />
<line x1="255" y1="44.6" x2="432.2" y2="44.6" stroke="#e0e0e0" stroke-width="0.8" />
<line x1="255" y1="29.6" x2="432.2" y2="29.6" stroke="#e0e0e0" stroke-width="0.8" />
<line x1="255" y1="140.4" x2="432.2" y2="140.4" stroke="#e0e0e0" stroke-width="0.8" />
<line x1="255" y1="119.87" x2="432.2" y2="119.87" stroke="#e0e0e0" stroke-width="0.8" />
<line x1="255" y1="99.33" x2="432.2" y2="99.33" stroke="#e0e0e0" stroke-width="0.8" />
<line x1="255" y1="78.8" x2="432.2" y2="78.8" stroke="#e0e0e0" stroke-width="0.8" />
<polyline points="273,53.98 308.5,50.6 343.8,47.6 379,43.1 414.2,29.6" stroke="#111" stroke-width="1" fill="none" />
<polygon points="273,49.77 268.7,56.77 277.3,56.77" stroke="none" stroke-width="1" fill="#0a0a0a" />
<polygon points="308.5,46.4 304.2,53.4 312.8,53.4" stroke="none" stroke-width="1" fill="#0a0a0a" />
<polygon points="343.8,43.4 339.5,50.4 348.1,50.4" stroke="none" stroke-width="1" fill="#0a0a0a" />
<polygon points="379,38.9 374.7,45.9 383.3,45.9" stroke="none" stroke-width="1" fill="#0a0a0a" />
<polygon points="414.2,25.4 409.9,32.4 418.5,32.4" stroke="none" stroke-width="1" fill="#0a0a0a" />
<polyline points="273,121.92 308.5,123.97 343.8,129.11 379,138.35 414.2,138.35" stroke="#101010" stroke-width="1.15" fill="none" />
<polyline points="273,99.33 308.5,102.41 343.8,119.87 379,136.29 414.2,137.32" stroke="#e52a2a" stroke-width="1.15" fill="none" />
<polyline points="273,87.01 308.5,92.15 343.8,102.41 379,123.97 414.2,132.19" stroke="#4cae4c" stroke-width="1.15" fill="none" />
<polyline points="273,77.77 308.5,82.9 343.8,90.09 379,115.76 414.2,126.03" stroke="#2b54b0" stroke-width="1.15" fill="none" />
<rect x="271" y="119.92" width="4" height="4" fill="#101010" stroke="none" stroke-width="1" />
<rect x="306.5" y="121.97" width="4" height="4" fill="#101010" stroke="none" stroke-width="1" />
<rect x="341.8" y="127.11" width="4" height="4" fill="#101010" stroke="none" stroke-width="1" />
<rect x="377" y="136.35" width="4" height="4" fill="#101010" stroke="none" stroke-width="1" />
<rect x="412.2" y="136.35" width="4" height="4" fill="#101010" stroke="none" stroke-width="1" />
<circle cx="273" cy="99.33" r="2.5" fill="#e52a2a" stroke="none" stroke-width="1" />
<circle cx="308.5" cy="102.41" r="2.5" fill="#e52a2a" stroke="none" stroke-width="1" />
<circle cx="343.8" cy="119.87" r="2.5" fill="#e52a2a" stroke="none" stroke-width="1" />
<circle cx="379" cy="136.29" r="2.5" fill="#e52a2a" stroke="none" stroke-width="1" />
<circle cx="414.2" cy="137.32" r="2.5" fill="#e52a2a" stroke="none" stroke-width="1" />
<polygon points="273,84.02 270.14,88.96 275.86,88.96" stroke="none" stroke-width="1" fill="#4cae4c" />
<polygon points="308.5,89.16 305.64,94.1 311.36,94.1" stroke="none" stroke-width="1" fill="#4cae4c" />
<polygon points="343.8,99.42 340.94,104.36 346.66,104.36" stroke="none" stroke-width="1" fill="#4cae4c" />
<polygon points="379,120.98 376.14,125.92 381.86,125.92" stroke="none" stroke-width="1" fill="#4cae4c" />
<polygon points="414.2,129.2 411.34,134.14 417.06,134.14" stroke="none" stroke-width="1" fill="#4cae4c" />
<polygon points="273,74.65 273.78,76.7 275.97,76.81 274.26,78.18 274.83,80.3 273,79.09 271.17,80.3 271.74,78.18 270.03,76.81 272.22,76.7" stroke="none" stroke-width="1" fill="#2b54b0" />
<polygon points="308.5,79.78 309.28,81.84 311.47,81.94 309.76,83.31 310.33,85.43 308.5,84.22 306.67,85.43 307.24,83.31 305.53,81.94 307.72,81.84" stroke="none" stroke-width="1" fill="#2b54b0" />
<polygon points="343.8,86.97 344.58,89.02 346.77,89.13 345.06,90.5 345.63,92.62 343.8,91.41 341.97,92.62 342.54,90.5 340.83,89.13 343.02,89.02" stroke="none" stroke-width="1" fill="#2b54b0" />
<polygon points="379,112.64 379.78,114.69 381.97,114.8 380.26,116.17 380.83,118.28 379,117.08 377.17,118.28 377.74,116.17 376.03,114.8 378.22,114.69" stroke="none" stroke-width="1" fill="#2b54b0" />
<polygon points="414.2,122.91 414.98,124.96 417.17,125.06 415.46,126.43 416.03,128.55 414.2,127.35 412.37,128.55 412.94,126.43 411.23,125.06 413.42,124.96" stroke="none" stroke-width="1" fill="#2b54b0" />
<rect x="255" y="14.5" width="177.2" height="136.7" fill="none" stroke="#2a2a2a" stroke-width="1.2" />
<line x1="255" y1="59.6" x2="432.2" y2="59.6" stroke="#1a1a1a" stroke-width="1.3" />
<line x1="255" y1="151.2" x2="432.2" y2="151.2" stroke="#2a2a2a" stroke-width="1.4" />
<line x1="255" y1="14.5" x2="255" y2="151.2" stroke="#2a2a2a" stroke-width="1.4" />
<line x1="252" y1="59.6" x2="255" y2="59.6" stroke="#333" stroke-width="1" />
<text x="249" y="62.6" font-size="8.5" font-weight="bold" fill="#2e2323" text-anchor="end" font-family="Liberation Sans" >0</text>
<line x1="252" y1="44.6" x2="255" y2="44.6" stroke="#333" stroke-width="1" />
<text x="249" y="47.6" font-size="8.5" font-weight="bold" fill="#2e2323" text-anchor="end" font-family="Liberation Sans" >4000</text>
<line x1="252" y1="29.6" x2="255" y2="29.6" stroke="#333" stroke-width="1" />
<text x="249" y="32.6" font-size="8.5" font-weight="bold" fill="#2e2323" text-anchor="end" font-family="Liberation Sans" >8000</text>
<line x1="252" y1="14.6" x2="255" y2="14.6" stroke="#333" stroke-width="1" />
<text x="249" y="17.6" font-size="8.5" font-weight="bold" fill="#2e2323" text-anchor="end" font-family="Liberation Sans" >12000</text>
<line x1="253.2" y1="52.1" x2="255" y2="52.1" stroke="#333" stroke-width="1" />
<line x1="253.2" y1="37.1" x2="255" y2="37.1" stroke="#333" stroke-width="1" />
<line x1="253.2" y1="22.1" x2="255" y2="22.1" stroke="#333" stroke-width="1" />
<line x1="252" y1="140.4" x2="255" y2="140.4" stroke="#333" stroke-width="1" />
<text x="249" y="143.4" font-size="8.5" font-weight="bold" fill="#2e2323" text-anchor="end" font-family="Liberation Sans" >0</text>
<line x1="252" y1="119.87" x2="255" y2="119.87" stroke="#333" stroke-width="1" />
<text x="249" y="122.87" font-size="8.5" font-weight="bold" fill="#2e2323" text-anchor="end" font-family="Liberation Sans" >20</text>
<line x1="252" y1="99.33" x2="255" y2="99.33" stroke="#333" stroke-width="1" />
<text x="249" y="102.33" font-size="8.5" font-weight="bold" fill="#2e2323" text-anchor="end" font-family="Liberation Sans" >40</text>
<line x1="252" y1="78.8" x2="255" y2="78.8" stroke="#333" stroke-width="1" />
<text x="249" y="81.8" font-size="8.5" font-weight="bold" fill="#2e2323" text-anchor="end" font-family="Liberation Sans" >60</text>
<line x1="253.2" y1="150.67" x2="255" y2="150.67" stroke="#333" stroke-width="1" />
<line x1="253.2" y1="130.13" x2="255" y2="130.13" stroke="#333" stroke-width="1" />
<line x1="253.2" y1="109.6" x2="255" y2="109.6" stroke="#333" stroke-width="1" />
<line x1="253.2" y1="89.07" x2="255" y2="89.07" stroke="#333" stroke-width="1" />
<line x1="253.2" y1="68.53" x2="255" y2="68.53" stroke="#333" stroke-width="1" />
<line x1="273" y1="151.2" x2="273" y2="154" stroke="#333" stroke-width="1" />
<text x="271.5" y="164.0" font-size="8.8" font-weight="bold" fill="#2e2323" text-anchor="middle" font-family="Liberation Sans">E<tspan dy="2.3" font-size="5.8">2</tspan></text>
<line x1="308.5" y1="151.2" x2="308.5" y2="154" stroke="#333" stroke-width="1" />
<text x="307" y="164.0" font-size="8.8" font-weight="bold" fill="#2e2323" text-anchor="middle" font-family="Liberation Sans">E<tspan dy="2.3" font-size="5.8">4</tspan></text>
<line x1="343.8" y1="151.2" x2="343.8" y2="154" stroke="#333" stroke-width="1" />
<text x="342.3" y="164.0" font-size="8.8" font-weight="bold" fill="#2e2323" text-anchor="middle" font-family="Liberation Sans">E<tspan dy="2.3" font-size="5.8">6</tspan></text>
<line x1="379" y1="151.2" x2="379" y2="154" stroke="#333" stroke-width="1" />
<text x="377.5" y="164.0" font-size="8.8" font-weight="bold" fill="#2e2323" text-anchor="middle" font-family="Liberation Sans">E<tspan dy="2.3" font-size="5.8">8</tspan></text>
<line x1="414.2" y1="151.2" x2="414.2" y2="154" stroke="#333" stroke-width="1" />
<text x="412.7" y="164.0" font-size="8.8" font-weight="bold" fill="#2e2323" text-anchor="middle" font-family="Liberation Sans">E<tspan dy="2.3" font-size="5.8">10</tspan></text>
<text x="0" y="0" font-size="8.4" font-weight="bold" fill="#2e2323" text-anchor="middle" font-family="Liberation Sans" transform="translate(220.3,35.9) rotate(-90)" textLength="31" lengthAdjust="spacingAndGlyphs">R<tspan dy="2" font-size="5.5">air</tspan><tspan dy="-2"> (Ω)</tspan></text>
<text x="0" y="0" font-size="8.6" font-weight="bold" fill="#2e2323" text-anchor="middle" dominant-baseline="central" font-family="Liberation Sans" transform="translate(224.8,104.9) rotate(-90)" textLength="21.2" lengthAdjust="spacingAndGlyphs">S (%)</text>
<line x1="384.2" y1="68.4" x2="396.8" y2="68.4" stroke="#101010" stroke-width="1.3" />
<rect x="388.1" y="66.1" width="4.6" height="4.6" fill="#101010" stroke="none" stroke-width="1" />
<text x="400.8" y="70.5" font-size="6.0" font-weight="bold" fill="#2e2323" text-anchor="start" font-family="Liberation Sans" >1 ppm</text>
<line x1="384.2" y1="76.5" x2="396.8" y2="76.5" stroke="#e52a2a" stroke-width="1.3" />
<circle cx="390.4" cy="76.5" r="2.6" fill="#e52a2a" stroke="none" stroke-width="1" />
<text x="400.8" y="78.6" font-size="6.0" font-weight="bold" fill="#2e2323" text-anchor="start" font-family="Liberation Sans" >100 ppm</text>
<line x1="384.2" y1="85.1" x2="396.8" y2="85.1" stroke="#4cae4c" stroke-width="1.3" />
<polygon points="390.4,81.88 387.32,87.2 393.48,87.2" stroke="none" stroke-width="1" fill="#4cae4c" />
<text x="400.8" y="87.2" font-size="6.0" font-weight="bold" fill="#2e2323" text-anchor="start" font-family="Liberation Sans" >500 ppm</text>
<line x1="384.2" y1="93.9" x2="396.8" y2="93.9" stroke="#2b54b0" stroke-width="1.3" />
<polygon points="390.4,90.52 391.24,92.74 393.61,92.86 391.76,94.34 392.39,96.63 390.4,95.33 388.41,96.63 389.04,94.34 387.19,92.86 389.56,92.74" stroke="none" stroke-width="1" fill="#2b54b0" />
<text x="400.8" y="96" font-size="6.0" font-weight="bold" fill="#2e2323" text-anchor="start" font-family="Liberation Sans" >1000 ppm</text>
<text x="211.3" y="16" font-size="15" font-weight="bold" fill="#231a1a" text-anchor="start" font-family="Liberation Sans" >b</text>
<polyline points="484.8,135.33 488,135.33 513.6,113.1 545.6,98.28 609.6,39" stroke="#444" stroke-width="0.7" fill="none" />
<polyline points="484.8,134.51 488,134.51 513.6,113.1 545.6,100.75 609.6,47.24" stroke="#e87070" stroke-width="0.7" fill="none" />
<polyline points="484.8,135.33 488,135.33 513.6,118.86 545.6,104.87 609.6,42.3" stroke="#7090d8" stroke-width="0.7" fill="none" />
<polyline points="484.8,133.68 488,133.68 513.6,123.8 545.6,104.87 609.6,47.24" stroke="#d090d0" stroke-width="0.7" fill="none" />
<polyline points="484.8,57.12 488,27.48 513.6,24.18 545.6,28.3 609.6,39" stroke="#40a070" stroke-width="0.7" fill="none" />
<polyline points="484.8,94.99 488,74.41 513.6,84.29 545.6,81.82 609.6,78.52" stroke="#5060b0" stroke-width="0.7" fill="none" />
<polyline points="484.8,108.16 488,91.7 513.6,88.4 545.6,79.35 609.6,81.82" stroke="#6868c0" stroke-width="0.7" fill="none" />
<polyline points="484.8,124.63 488,128.74 513.6,132.86 545.6,133.68 609.6,136.98" stroke="#9050a0" stroke-width="0.7" fill="none" />
<polyline points="484.8,132.04 488,134.51 513.6,134.51 545.6,135.33 609.6,136.98" stroke="#b06070" stroke-width="0.7" fill="none" />
<polyline points="484.8,126.27 488,123.8 513.6,134.51 545.6,129.57 609.6,129.57" stroke="#90a860" stroke-width="0.7" fill="none" />
<rect x="482.9" y="133.43" width="3.8" height="3.8" fill="#151515" stroke="none" stroke-width="1" />
<rect x="486.1" y="133.43" width="3.8" height="3.8" fill="#151515" stroke="none" stroke-width="1" />
<rect x="511.7" y="111.2" width="3.8" height="3.8" fill="#151515" stroke="none" stroke-width="1" />
<rect x="543.7" y="96.38" width="3.8" height="3.8" fill="#151515" stroke="none" stroke-width="1" />
<rect x="607.7" y="37.1" width="3.8" height="3.8" fill="#151515" stroke="none" stroke-width="1" />
<circle cx="484.8" cy="134.51" r="1.9" fill="#e8303a" stroke="none" stroke-width="1" />
<circle cx="488" cy="134.51" r="1.9" fill="#e8303a" stroke="none" stroke-width="1" />
<circle cx="513.6" cy="113.1" r="1.9" fill="#e8303a" stroke="none" stroke-width="1" />
<circle cx="545.6" cy="100.75" r="1.9" fill="#e8303a" stroke="none" stroke-width="1" />
<circle cx="609.6" cy="47.24" r="1.9" fill="#e8303a" stroke="none" stroke-width="1" />
<polygon points="484.8,133.15 482.71,136.76 486.89,136.76" stroke="none" stroke-width="1" fill="#2a55c0" />
<polygon points="488,133.15 485.91,136.76 490.09,136.76" stroke="none" stroke-width="1" fill="#2a55c0" />
<polygon points="513.6,116.68 511.51,120.29 515.69,120.29" stroke="none" stroke-width="1" fill="#2a55c0" />
<polygon points="545.6,102.68 543.51,106.29 547.69,106.29" stroke="none" stroke-width="1" fill="#2a55c0" />
<polygon points="609.6,40.11 607.51,43.72 611.69,43.72" stroke="none" stroke-width="1" fill="#2a55c0" />
<polygon points="484.8,135.87 482.71,132.26 486.89,132.26" stroke="none" stroke-width="1" fill="#b050b0" />
<polygon points="488,135.87 485.91,132.26 490.09,132.26" stroke="none" stroke-width="1" fill="#b050b0" />
<polygon points="513.6,125.99 511.51,122.38 515.69,122.38" stroke="none" stroke-width="1" fill="#b050b0" />
<polygon points="545.6,107.05 543.51,103.44 547.69,103.44" stroke="none" stroke-width="1" fill="#b050b0" />
<polygon points="609.6,49.42 607.51,45.81 611.69,45.81" stroke="none" stroke-width="1" fill="#b050b0" />
<polygon points="484.8,54.84 486.7,57.12 484.8,59.4 482.9,57.12" stroke="none" stroke-width="1" fill="#17884a" />
<polygon points="488,25.2 489.9,27.48 488,29.76 486.1,27.48" stroke="none" stroke-width="1" fill="#17884a" />
<polygon points="513.6,21.9 515.5,24.18 513.6,26.46 511.7,24.18" stroke="none" stroke-width="1" fill="#17884a" />
<polygon points="545.6,26.02 547.5,28.3 545.6,30.58 543.7,28.3" stroke="none" stroke-width="1" fill="#17884a" />
<polygon points="609.6,36.72 611.5,39 609.6,41.28 607.7,39" stroke="none" stroke-width="1" fill="#17884a" />
<polygon points="482.62,94.99 486.23,92.9 486.23,97.08" stroke="none" stroke-width="1" fill="#2a3a90" />
<polygon points="485.81,74.41 489.43,72.32 489.43,76.5" stroke="none" stroke-width="1" fill="#2a3a90" />
<polygon points="511.42,84.29 515.02,82.2 515.02,86.38" stroke="none" stroke-width="1" fill="#2a3a90" />
<polygon points="543.42,81.82 547.02,79.73 547.02,83.91" stroke="none" stroke-width="1" fill="#2a3a90" />
<polygon points="607.42,78.52 611.02,76.43 611.02,80.61" stroke="none" stroke-width="1" fill="#2a3a90" />
<polygon points="486.99,108.16 483.38,106.07 483.38,110.25" stroke="none" stroke-width="1" fill="#3a3aa0" />
<polygon points="490.19,91.7 486.57,89.61 486.57,93.79" stroke="none" stroke-width="1" fill="#3a3aa0" />
<polygon points="515.78,88.4 512.18,86.31 512.18,90.49" stroke="none" stroke-width="1" fill="#3a3aa0" />
<polygon points="547.78,79.35 544.18,77.26 544.18,81.44" stroke="none" stroke-width="1" fill="#3a3aa0" />
<polygon points="611.78,81.82 608.18,79.73 608.18,83.91" stroke="none" stroke-width="1" fill="#3a3aa0" />
<circle cx="484.8" cy="124.63" r="1.9" fill="#6a1a80" stroke="none" stroke-width="1" />
<circle cx="488" cy="128.74" r="1.9" fill="#6a1a80" stroke="none" stroke-width="1" />
<circle cx="513.6" cy="132.86" r="1.9" fill="#6a1a80" stroke="none" stroke-width="1" />
<circle cx="545.6" cy="133.68" r="1.9" fill="#6a1a80" stroke="none" stroke-width="1" />
<circle cx="609.6" cy="136.98" r="1.9" fill="#6a1a80" stroke="none" stroke-width="1" />
<polygon points="484.8,129.57 485.41,131.19 487.15,131.27 485.79,132.36 486.25,134.04 484.8,133.08 483.35,134.04 483.81,132.36 482.45,131.27 484.19,131.19" stroke="none" stroke-width="1" fill="#8a1a2a" />
<polygon points="488,132.04 488.61,133.66 490.35,133.74 488.99,134.83 489.45,136.51 488,135.55 486.55,136.51 487.01,134.83 485.65,133.74 487.39,133.66" stroke="none" stroke-width="1" fill="#8a1a2a" />
<polygon points="513.6,132.04 514.21,133.66 515.95,133.74 514.59,134.83 515.05,136.51 513.6,135.55 512.15,136.51 512.61,134.83 511.25,133.74 512.99,133.66" stroke="none" stroke-width="1" fill="#8a1a2a" />
<polygon points="545.6,132.86 546.21,134.48 547.95,134.57 546.59,135.65 547.05,137.33 545.6,136.38 544.15,137.33 544.61,135.65 543.25,134.57 544.99,134.48" stroke="none" stroke-width="1" fill="#8a1a2a" />
<polygon points="609.6,134.51 610.21,136.13 611.95,136.21 610.59,137.3 611.05,138.97 609.6,138.02 608.15,138.97 608.61,137.3 607.25,136.21 608.99,136.13" stroke="none" stroke-width="1" fill="#8a1a2a" />
<circle cx="484.8" cy="126.27" r="1.9" fill="#6a8a2a" stroke="none" stroke-width="1" />
<circle cx="488" cy="123.8" r="1.9" fill="#6a8a2a" stroke="none" stroke-width="1" />
<circle cx="513.6" cy="134.51" r="1.9" fill="#6a8a2a" stroke="none" stroke-width="1" />
<circle cx="545.6" cy="129.57" r="1.9" fill="#6a8a2a" stroke="none" stroke-width="1" />
<circle cx="609.6" cy="129.57" r="1.9" fill="#6a8a2a" stroke="none" stroke-width="1" />
<rect x="477.1" y="14.5" width="136.4" height="131.7" fill="none" stroke="#3a3a3a" stroke-width="1" />
<line x1="481.6" y1="146.2" x2="481.6" y2="143.4" stroke="#333" stroke-width="0.8" />
<line x1="481.6" y1="14.5" x2="481.6" y2="17.3" stroke="#333" stroke-width="0.8" />
<line x1="497.6" y1="146.2" x2="497.6" y2="144.6" stroke="#333" stroke-width="0.8" />
<line x1="497.6" y1="14.5" x2="497.6" y2="16.1" stroke="#333" stroke-width="0.8" />
<line x1="513.6" y1="146.2" x2="513.6" y2="143.4" stroke="#333" stroke-width="0.8" />
<line x1="513.6" y1="14.5" x2="513.6" y2="17.3" stroke="#333" stroke-width="0.8" />
<line x1="529.6" y1="146.2" x2="529.6" y2="144.6" stroke="#333" stroke-width="0.8" />
<line x1="529.6" y1="14.5" x2="529.6" y2="16.1" stroke="#333" stroke-width="0.8" />
<line x1="545.6" y1="146.2" x2="545.6" y2="143.4" stroke="#333" stroke-width="0.8" />
<line x1="545.6" y1="14.5" x2="545.6" y2="17.3" stroke="#333" stroke-width="0.8" />
<line x1="561.6" y1="146.2" x2="561.6" y2="144.6" stroke="#333" stroke-width="0.8" />
<line x1="561.6" y1="14.5" x2="561.6" y2="16.1" stroke="#333" stroke-width="0.8" />
<line x1="577.6" y1="146.2" x2="577.6" y2="143.4" stroke="#333" stroke-width="0.8" />
<line x1="577.6" y1="14.5" x2="577.6" y2="17.3" stroke="#333" stroke-width="0.8" />
<line x1="593.6" y1="146.2" x2="593.6" y2="144.6" stroke="#333" stroke-width="0.8" />
<line x1="593.6" y1="14.5" x2="593.6" y2="16.1" stroke="#333" stroke-width="0.8" />
<line x1="609.6" y1="146.2" x2="609.6" y2="143.4" stroke="#333" stroke-width="0.8" />
<line x1="609.6" y1="14.5" x2="609.6" y2="17.3" stroke="#333" stroke-width="0.8" />
<text x="481.6" y="159.9" font-size="9.3" font-weight="normal" fill="#2e2323" text-anchor="middle" font-family="Liberation Sans" >0</text>
<text x="513.6" y="159.9" font-size="9.3" font-weight="normal" fill="#2e2323" text-anchor="middle" font-family="Liberation Sans" >500</text>
<text x="545.6" y="159.9" font-size="9.3" font-weight="normal" fill="#2e2323" text-anchor="middle" font-family="Liberation Sans" >1000</text>
<text x="577.6" y="159.9" font-size="9.3" font-weight="normal" fill="#2e2323" text-anchor="middle" font-family="Liberation Sans" >1500</text>
<text x="609.6" y="159.9" font-size="9.3" font-weight="normal" fill="#2e2323" text-anchor="middle" font-family="Liberation Sans" >2000</text>
<line x1="477.1" y1="137.8" x2="479.9" y2="137.8" stroke="#333" stroke-width="0.8" />
<line x1="613.5" y1="137.8" x2="610.7" y2="137.8" stroke="#333" stroke-width="0.8" />
<line x1="477.1" y1="129.57" x2="478.7" y2="129.57" stroke="#333" stroke-width="0.8" />
<line x1="613.5" y1="129.57" x2="611.9" y2="129.57" stroke="#333" stroke-width="0.8" />
<line x1="477.1" y1="121.33" x2="479.9" y2="121.33" stroke="#333" stroke-width="0.8" />
<line x1="613.5" y1="121.33" x2="610.7" y2="121.33" stroke="#333" stroke-width="0.8" />
<line x1="477.1" y1="113.1" x2="478.7" y2="113.1" stroke="#333" stroke-width="0.8" />
<line x1="613.5" y1="113.1" x2="611.9" y2="113.1" stroke="#333" stroke-width="0.8" />
<line x1="477.1" y1="104.87" x2="479.9" y2="104.87" stroke="#333" stroke-width="0.8" />
<line x1="613.5" y1="104.87" x2="610.7" y2="104.87" stroke="#333" stroke-width="0.8" />
<line x1="477.1" y1="96.64" x2="478.7" y2="96.64" stroke="#333" stroke-width="0.8" />
<line x1="613.5" y1="96.64" x2="611.9" y2="96.64" stroke="#333" stroke-width="0.8" />
<line x1="477.1" y1="88.4" x2="479.9" y2="88.4" stroke="#333" stroke-width="0.8" />
<line x1="613.5" y1="88.4" x2="610.7" y2="88.4" stroke="#333" stroke-width="0.8" />
<line x1="477.1" y1="80.17" x2="478.7" y2="80.17" stroke="#333" stroke-width="0.8" />
<line x1="613.5" y1="80.17" x2="611.9" y2="80.17" stroke="#333" stroke-width="0.8" />
<line x1="477.1" y1="71.94" x2="479.9" y2="71.94" stroke="#333" stroke-width="0.8" />
<line x1="613.5" y1="71.94" x2="610.7" y2="71.94" stroke="#333" stroke-width="0.8" />
<line x1="477.1" y1="63.7" x2="478.7" y2="63.7" stroke="#333" stroke-width="0.8" />
<line x1="613.5" y1="63.7" x2="611.9" y2="63.7" stroke="#333" stroke-width="0.8" />
<line x1="477.1" y1="55.47" x2="479.9" y2="55.47" stroke="#333" stroke-width="0.8" />
<line x1="613.5" y1="55.47" x2="610.7" y2="55.47" stroke="#333" stroke-width="0.8" />
<line x1="477.1" y1="47.24" x2="478.7" y2="47.24" stroke="#333" stroke-width="0.8" />
<line x1="613.5" y1="47.24" x2="611.9" y2="47.24" stroke="#333" stroke-width="0.8" />
<line x1="477.1" y1="39" x2="479.9" y2="39" stroke="#333" stroke-width="0.8" />
<line x1="613.5" y1="39" x2="610.7" y2="39" stroke="#333" stroke-width="0.8" />
<line x1="477.1" y1="30.77" x2="478.7" y2="30.77" stroke="#333" stroke-width="0.8" />
<line x1="613.5" y1="30.77" x2="611.9" y2="30.77" stroke="#333" stroke-width="0.8" />
<line x1="477.1" y1="22.54" x2="479.9" y2="22.54" stroke="#333" stroke-width="0.8" />
<line x1="613.5" y1="22.54" x2="610.7" y2="22.54" stroke="#333" stroke-width="0.8" />
<text x="470.8" y="141.1" font-size="9.3" font-weight="normal" fill="#2e2323" text-anchor="end" font-family="Liberation Sans" >0</text>
<text x="618" y="141.1" font-size="9.3" font-weight="normal" fill="#2e2323" text-anchor="start" font-family="Liberation Sans" >0</text>
<text x="470.8" y="124.63" font-size="9.3" font-weight="normal" fill="#2e2323" text-anchor="end" font-family="Liberation Sans" >20</text>
<text x="618" y="124.63" font-size="9.3" font-weight="normal" fill="#2e2323" text-anchor="start" font-family="Liberation Sans" >20</text>
<text x="470.8" y="108.17" font-size="9.3" font-weight="normal" fill="#2e2323" text-anchor="end" font-family="Liberation Sans" >40</text>
<text x="618" y="108.17" font-size="9.3" font-weight="normal" fill="#2e2323" text-anchor="start" font-family="Liberation Sans" >40</text>
<text x="470.8" y="91.7" font-size="9.3" font-weight="normal" fill="#2e2323" text-anchor="end" font-family="Liberation Sans" >60</text>
<text x="618" y="91.7" font-size="9.3" font-weight="normal" fill="#2e2323" text-anchor="start" font-family="Liberation Sans" >60</text>
<text x="470.8" y="75.24" font-size="9.3" font-weight="normal" fill="#2e2323" text-anchor="end" font-family="Liberation Sans" >80</text>
<text x="618" y="75.24" font-size="9.3" font-weight="normal" fill="#2e2323" text-anchor="start" font-family="Liberation Sans" >80</text>
<text x="470.8" y="58.77" font-size="9.3" font-weight="normal" fill="#2e2323" text-anchor="end" font-family="Liberation Sans" >100</text>
<text x="618" y="58.77" font-size="9.3" font-weight="normal" fill="#2e2323" text-anchor="start" font-family="Liberation Sans" >100</text>
<text x="470.8" y="42.3" font-size="9.3" font-weight="normal" fill="#2e2323" text-anchor="end" font-family="Liberation Sans" >120</text>
<text x="618" y="42.3" font-size="9.3" font-weight="normal" fill="#2e2323" text-anchor="start" font-family="Liberation Sans" >120</text>
<text x="470.8" y="25.84" font-size="9.3" font-weight="normal" fill="#2e2323" text-anchor="end" font-family="Liberation Sans" >140</text>
<text x="618" y="25.84" font-size="9.3" font-weight="normal" fill="#2e2323" text-anchor="start" font-family="Liberation Sans" >140</text>
<text x="550.5" y="169.4" textLength="92.8" lengthAdjust="spacingAndGlyphs" font-size="8.6" fill="#2e2323" text-anchor="middle" font-family="Liberation Sans">H<tspan dy="2" font-size="5.6">2</tspan><tspan dy="-2"> concentration (ppm)</tspan></text>
<text x="0" y="0" font-size="9.2" font-weight="normal" fill="#2e2323" text-anchor="middle" dominant-baseline="central" font-family="Liberation Sans" transform="translate(446.4,83.2) rotate(-90)" textLength="30.6" lengthAdjust="spacingAndGlyphs">Time (s)</text>
<line x1="634.2" y1="31.2" x2="649.6" y2="31.2" stroke="#444" stroke-width="0.8" />
<rect x="640.5" y="29.6" width="3.2" height="3.2" fill="#151515" stroke="none" stroke-width="1" />
<text x="652.1" y="34.2" font-size="8.7" fill="#2e2323" font-family="Liberation Sans">E<tspan dy="2.2" font-size="5.8">2</tspan><tspan dy="-2.2"> Res</tspan></text>
<line x1="634.2" y1="43.1" x2="649.6" y2="43.1" stroke="#e87070" stroke-width="0.8" />
<circle cx="642.1" cy="43.1" r="1.6" fill="#e8303a" stroke="none" stroke-width="1" />
<text x="652.1" y="46.1" font-size="8.7" fill="#2e2323" font-family="Liberation Sans">E<tspan dy="2.2" font-size="5.8">4</tspan><tspan dy="-2.2"> Res</tspan></text>
<line x1="634.2" y1="55" x2="649.6" y2="55" stroke="#7090d8" stroke-width="0.8" />
<polygon points="642.1,53.16 640.34,56.2 643.86,56.2" stroke="none" stroke-width="1" fill="#2a55c0" />
<text x="652.1" y="58" font-size="8.7" fill="#2e2323" font-family="Liberation Sans">E<tspan dy="2.2" font-size="5.8">6</tspan><tspan dy="-2.2"> Res</tspan></text>
<line x1="634.2" y1="66.9" x2="649.6" y2="66.9" stroke="#d090d0" stroke-width="0.8" />
<polygon points="642.1,68.74 640.34,65.7 643.86,65.7" stroke="none" stroke-width="1" fill="#b050b0" />
<text x="652.1" y="69.9" font-size="8.7" fill="#2e2323" font-family="Liberation Sans">E<tspan dy="2.2" font-size="5.8">8</tspan><tspan dy="-2.2"> Res</tspan></text>
<line x1="634.2" y1="78.8" x2="649.6" y2="78.8" stroke="#40a070" stroke-width="0.8" />
<polygon points="642.1,76.88 643.7,78.8 642.1,80.72 640.5,78.8" stroke="none" stroke-width="1" fill="#17884a" />
<text x="652.1" y="81.8" font-size="8.7" fill="#2e2323" font-family="Liberation Sans">E<tspan dy="2.2" font-size="5.8">10</tspan><tspan dy="-2.2"> Res</tspan></text>
<line x1="634.2" y1="90.7" x2="649.6" y2="90.7" stroke="#5060b0" stroke-width="0.8" />
<polygon points="640.26,90.7 643.3,88.94 643.3,92.46" stroke="none" stroke-width="1" fill="#2a3a90" />
<text x="652.1" y="93.7" font-size="8.7" fill="#2e2323" font-family="Liberation Sans">E<tspan dy="2.2" font-size="5.8">2</tspan><tspan dy="-2.2"> Rec</tspan></text>
<line x1="634.2" y1="102.6" x2="649.6" y2="102.6" stroke="#6868c0" stroke-width="0.8" />
<polygon points="643.94,102.6 640.9,100.84 640.9,104.36" stroke="none" stroke-width="1" fill="#3a3aa0" />
<text x="652.1" y="105.6" font-size="8.7" fill="#2e2323" font-family="Liberation Sans">E<tspan dy="2.2" font-size="5.8">4</tspan><tspan dy="-2.2"> Rec</tspan></text>
<line x1="634.2" y1="114.5" x2="649.6" y2="114.5" stroke="#9050a0" stroke-width="0.8" />
<circle cx="642.1" cy="114.5" r="1.6" fill="#6a1a80" stroke="none" stroke-width="1" />
<text x="652.1" y="117.5" font-size="8.7" fill="#2e2323" font-family="Liberation Sans">E<tspan dy="2.2" font-size="5.8">6</tspan><tspan dy="-2.2"> Rec</tspan></text>
<line x1="634.2" y1="126.4" x2="649.6" y2="126.4" stroke="#b06070" stroke-width="0.8" />
<polygon points="642.1,124.32 642.62,125.69 644.08,125.76 642.94,126.67 643.32,128.08 642.1,127.28 640.88,128.08 641.26,126.67 640.12,125.76 641.58,125.69" stroke="none" stroke-width="1" fill="#8a1a2a" />
<text x="652.1" y="129.4" font-size="8.7" fill="#2e2323" font-family="Liberation Sans">E<tspan dy="2.2" font-size="5.8">8</tspan><tspan dy="-2.2"> Rec</tspan></text>
<line x1="634.2" y1="138.3" x2="649.6" y2="138.3" stroke="#90a860" stroke-width="0.8" />
<circle cx="642.1" cy="138.3" r="1.6" fill="#6a8a2a" stroke="none" stroke-width="1" />
<text x="652.1" y="141.3" font-size="8.7" fill="#2e2323" font-family="Liberation Sans">E<tspan dy="2.2" font-size="5.8">10</tspan><tspan dy="-2.2"> Rec</tspan></text>
<text x="441.5" y="14.9" font-size="15" font-weight="bold" fill="#231a1a" text-anchor="start" font-family="Liberation Sans" >c</text>
<defs>
<linearGradient id="tubeBody" x1="0" y1="0" x2="0" y2="1">
<stop offset="0" stop-color="#9096a2"/><stop offset="0.1" stop-color="#868c98"/><stop offset="0.115" stop-color="#40444e"/>
<stop offset="0.17" stop-color="#5c616c"/><stop offset="0.5" stop-color="#737985"/><stop offset="0.86" stop-color="#5e636e"/><stop offset="0.9" stop-color="#7a808a"/><stop offset="1" stop-color="#767c87"/></linearGradient>
<linearGradient id="inner" x1="0" y1="0" x2="0" y2="1"><stop offset="0" stop-color="#c3c5c6"/><stop offset="0.5" stop-color="#cfd1d1"/><stop offset="1" stop-color="#b9bbbc"/></linearGradient>
<linearGradient id="flange" x1="0" y1="0" x2="1" y2="0"><stop offset="0" stop-color="#6f7b93"/><stop offset="0.5" stop-color="#aab4c8"/><stop offset="1" stop-color="#7d889e"/></linearGradient>
<radialGradient id="sp0" cx="0.4" cy="0.35" r="0.62"><stop offset="0" stop-color="#f2e8d2"/><stop offset="0.55" stop-color="#d6c8a6"/><stop offset="1" stop-color="#7a705a"/></radialGradient>
<radialGradient id="sp1" cx="0.45" cy="0.4" r="0.6"><stop offset="0" stop-color="#f2d690"/><stop offset="0.65" stop-color="#d4b26c"/><stop offset="1" stop-color="#8a6e36"/></radialGradient>
<radialGradient id="big0" cx="0.45" cy="0.55" r="0.6"><stop offset="0" stop-color="#f4ead8"/><stop offset="0.55" stop-color="#ddd2b8"/><stop offset="1" stop-color="#958b74"/></radialGradient>
<radialGradient id="big1" cx="0.45" cy="0.5" r="0.62"><stop offset="0" stop-color="#d8bc7c"/><stop offset="0.7" stop-color="#c9aa66"/><stop offset="1" stop-color="#9a7e46"/></radialGradient>
<radialGradient id="big2" cx="0.45" cy="0.5" r="0.62"><stop offset="0" stop-color="#d3b676"/><stop offset="0.7" stop-color="#c2a260"/><stop offset="1" stop-color="#927640"/></radialGradient>
<radialGradient id="big3" cx="0.45" cy="0.5" r="0.62"><stop offset="0" stop-color="#c8a868"/><stop offset="0.7" stop-color="#b09050"/><stop offset="1" stop-color="#82683a"/></radialGradient>
<linearGradient id="lab" x1="0" y1="0" x2="0" y2="1"><stop offset="0" stop-color="#5f9e84"/><stop offset="0.5" stop-color="#bfe4d2"/><stop offset="1" stop-color="#5a8e76"/></linearGradient>
<pattern id="grid5" x="0" y="0" width="1.8" height="1.8" patternUnits="userSpaceOnUse"><rect x="0" y="0" width="1.8" height="0.55" fill="#5a4420" fill-opacity="0.45"/><rect x="0" y="0" width="0.55" height="1.8" fill="#5a4420" fill-opacity="0.45"/></pattern>
</defs>
<line x1="10.4" y1="213.7" x2="34" y2="213.7" stroke="#3d8a3d" stroke-width="1.6" />
<line x1="185" y1="212.9" x2="201.5" y2="212.9" stroke="#3d8a3d" stroke-width="1.6" />
<rect x="60.2" y="194" width="98.4" height="36" fill="url(#tubeBody)" stroke="none" stroke-width="1" />
<rect x="102" y="204.8" width="16.5" height="3" fill="#747a86" stroke="none" stroke-width="1" fill-opacity="0.6"/>
<rect x="42" y="198.3" width="21.5" height="27.8" fill="url(#inner)" stroke="none" stroke-width="1" />
<line x1="42" y1="198.3" x2="63.5" y2="198.3" stroke="#1a1a1a" stroke-width="0.9" />
<line x1="42" y1="226.1" x2="63.5" y2="226.1" stroke="#1a1a1a" stroke-width="0.9" />
<rect x="158.4" y="199" width="17.5" height="28.2" fill="url(#inner)" stroke="none" stroke-width="1" />
<line x1="158.4" y1="199" x2="176" y2="199" stroke="#1a1a1a" stroke-width="0.9" />
<line x1="158.4" y1="227.2" x2="176" y2="227.2" stroke="#1a1a1a" stroke-width="0.9" />
<ellipse cx="37.2" cy="212.2" rx="4.0" ry="16.0" fill="url(#flange)" stroke="#111" stroke-width="1.1"/>
<rect x="37.2" y="196.2" width="6.6" height="32" fill="#9aa5bb"/>
<ellipse cx="43.8" cy="212.2" rx="4.3" ry="14.6" fill="url(#flange)" stroke="#333a48" stroke-width="0.8"/>
<ellipse cx="41.3" cy="212.2" rx="1.8" ry="11.5" fill="#0a0a0a"/>
<ellipse cx="176.5" cy="213.3" rx="3.8" ry="14.8" fill="url(#flange)" stroke="#333a48" stroke-width="0.8"/>
<rect x="176.5" y="196.8" width="6" height="33" fill="#9aa5bb"/>
<ellipse cx="182.5" cy="213.3" rx="4.0" ry="16.5" fill="url(#flange)" stroke="#4a5264" stroke-width="0.9"/>
<ellipse cx="179.0" cy="213.3" rx="1.6" ry="10.5" fill="#3a4050"/>
<rect x="100.3" y="218" width="18.7" height="6.8" fill="#e8e2d2" stroke="#8a8070" stroke-width="0.4" />
<polygon points="101.5,219.8 104,218.2 107,217 110,218.4 113,216.9 116,218 118,219.8" stroke="none" stroke-width="1" fill="#a8803a" />
<rect x="98" y="214.5" width="23.3" height="13.8" fill="none" stroke="#e0303a" stroke-width="0.9" stroke-dasharray="2.2,1.3,0.6,1.3"/>
<rect x="2.6" y="243.9" width="45.2" height="88" fill="none" stroke="#e0303a" stroke-width="1.3" stroke-dasharray="2.6,1.6,0.8,1.6"/>
<rect x="59.8" y="244" width="142.8" height="88" fill="none" stroke="#e0303a" stroke-width="1.3" stroke-dasharray="2.6,1.6,0.8,1.6"/>
<line x1="98" y1="228.3" x2="59.8" y2="244" stroke="#e0303a" stroke-width="1.1" stroke-dasharray="2.6,1.6,0.8,1.6"/>
<line x1="121.3" y1="228.3" x2="202.6" y2="244" stroke="#e0303a" stroke-width="1.1" stroke-dasharray="2.6,1.6,0.8,1.6"/>
<circle cx="26.3" cy="308.6" r="21.2" fill="url(#big0)"/>
<circle cx="83.6" cy="306.8" r="21.8" fill="url(#big1)"/>
<circle cx="132.0" cy="306.6" r="21.7" fill="url(#big2)"/>
<circle cx="179.8" cy="307.9" r="21.7" fill="url(#big3)"/>
<circle cx="179.8" cy="307.9" r="20" fill="url(#grid5)"/>
<clipPath id="cpa0"><circle cx="23" cy="267" r="17.8"/></clipPath>
<g clip-path="url(#cpa0)">
<circle cx="23" cy="267" r="17.8" fill="#262420" stroke="none" stroke-width="1" />
<circle cx="-15.28" cy="239.46" r="2.55" fill="url(#sp0)"/>
<circle cx="-12.73" cy="241.75" r="0.36" fill="#ffffff"/>
<circle cx="-10.18" cy="239.46" r="2.55" fill="url(#sp0)"/>
<circle cx="-7.63" cy="241.75" r="0.36" fill="#ffffff"/>
<circle cx="-5.08" cy="239.46" r="2.55" fill="url(#sp0)"/>
<circle cx="-2.53" cy="241.75" r="0.36" fill="#ffffff"/>
<circle cx="0.02" cy="239.46" r="2.55" fill="url(#sp0)"/>
<circle cx="2.57" cy="241.75" r="0.36" fill="#ffffff"/>
<circle cx="5.12" cy="239.46" r="2.55" fill="url(#sp0)"/>
<circle cx="7.67" cy="241.75" r="0.36" fill="#ffffff"/>
<circle cx="10.22" cy="239.46" r="2.55" fill="url(#sp0)"/>
<circle cx="12.77" cy="241.75" r="0.36" fill="#ffffff"/>
<circle cx="15.32" cy="239.46" r="2.55" fill="url(#sp0)"/>
<circle cx="17.87" cy="241.75" r="0.36" fill="#ffffff"/>
<circle cx="20.42" cy="239.46" r="2.55" fill="url(#sp0)"/>
<circle cx="22.97" cy="241.75" r="0.36" fill="#ffffff"/>
<circle cx="25.52" cy="239.46" r="2.55" fill="url(#sp0)"/>
<circle cx="28.07" cy="241.75" r="0.36" fill="#ffffff"/>
<circle cx="30.62" cy="239.46" r="2.55" fill="url(#sp0)"/>
<circle cx="33.17" cy="241.75" r="0.36" fill="#ffffff"/>
<circle cx="35.72" cy="239.46" r="2.55" fill="url(#sp0)"/>
<circle cx="38.27" cy="241.75" r="0.36" fill="#ffffff"/>
<circle cx="40.82" cy="239.46" r="2.55" fill="url(#sp0)"/>
<circle cx="43.37" cy="241.75" r="0.36" fill="#ffffff"/>
<circle cx="45.92" cy="239.46" r="2.55" fill="url(#sp0)"/>
<circle cx="48.47" cy="241.75" r="0.36" fill="#ffffff"/>
<circle cx="51.02" cy="239.46" r="2.55" fill="url(#sp0)"/>
<circle cx="53.57" cy="241.75" r="0.36" fill="#ffffff"/>
<circle cx="56.12" cy="239.46" r="2.55" fill="url(#sp0)"/>
<circle cx="58.67" cy="241.75" r="0.36" fill="#ffffff"/>
<circle cx="-12.13" cy="244.05" r="2.55" fill="url(#sp0)"/>
<circle cx="-9.58" cy="246.34" r="0.36" fill="#ffffff"/>
<circle cx="-7.03" cy="244.05" r="2.55" fill="url(#sp0)"/>
<circle cx="-4.48" cy="246.34" r="0.36" fill="#ffffff"/>
<circle cx="-1.93" cy="244.05" r="2.55" fill="url(#sp0)"/>
<circle cx="0.62" cy="246.34" r="0.36" fill="#ffffff"/>
<circle cx="3.17" cy="244.05" r="2.55" fill="url(#sp0)"/>
<circle cx="5.72" cy="246.34" r="0.36" fill="#ffffff"/>
<circle cx="8.27" cy="244.05" r="2.55" fill="url(#sp0)"/>
<circle cx="10.82" cy="246.34" r="0.36" fill="#ffffff"/>
<circle cx="13.37" cy="244.05" r="2.55" fill="url(#sp0)"/>
<circle cx="15.92" cy="246.34" r="0.36" fill="#ffffff"/>
<circle cx="18.47" cy="244.05" r="2.55" fill="url(#sp0)"/>
<circle cx="21.02" cy="246.34" r="0.36" fill="#ffffff"/>
<circle cx="23.57" cy="244.05" r="2.55" fill="url(#sp0)"/>
<circle cx="26.12" cy="246.34" r="0.36" fill="#ffffff"/>
<circle cx="28.67" cy="244.05" r="2.55" fill="url(#sp0)"/>
<circle cx="31.22" cy="246.34" r="0.36" fill="#ffffff"/>
<circle cx="33.77" cy="244.05" r="2.55" fill="url(#sp0)"/>
<circle cx="36.32" cy="246.34" r="0.36" fill="#ffffff"/>
<circle cx="38.87" cy="244.05" r="2.55" fill="url(#sp0)"/>
<circle cx="41.42" cy="246.34" r="0.36" fill="#ffffff"/>
<circle cx="43.97" cy="244.05" r="2.55" fill="url(#sp0)"/>
<circle cx="46.52" cy="246.34" r="0.36" fill="#ffffff"/>
<circle cx="49.07" cy="244.05" r="2.55" fill="url(#sp0)"/>
<circle cx="51.62" cy="246.34" r="0.36" fill="#ffffff"/>
<circle cx="54.17" cy="244.05" r="2.55" fill="url(#sp0)"/>
<circle cx="56.72" cy="246.34" r="0.36" fill="#ffffff"/>
<circle cx="59.27" cy="244.05" r="2.55" fill="url(#sp0)"/>
<circle cx="61.82" cy="246.34" r="0.36" fill="#ffffff"/>
<circle cx="-14.08" cy="248.64" r="2.55" fill="url(#sp0)"/>
<circle cx="-11.53" cy="250.93" r="0.36" fill="#ffffff"/>
<circle cx="-8.98" cy="248.64" r="2.55" fill="url(#sp0)"/>
<circle cx="-6.43" cy="250.93" r="0.36" fill="#ffffff"/>
<circle cx="-3.88" cy="248.64" r="2.55" fill="url(#sp0)"/>
<circle cx="-1.33" cy="250.93" r="0.36" fill="#ffffff"/>
<circle cx="1.22" cy="248.64" r="2.55" fill="url(#sp0)"/>
<circle cx="3.77" cy="250.93" r="0.36" fill="#ffffff"/>
<circle cx="6.32" cy="248.64" r="2.55" fill="url(#sp0)"/>
<circle cx="8.87" cy="250.93" r="0.36" fill="#ffffff"/>
<circle cx="11.42" cy="248.64" r="2.55" fill="url(#sp0)"/>
<circle cx="13.97" cy="250.93" r="0.36" fill="#ffffff"/>
<circle cx="16.52" cy="248.64" r="2.55" fill="url(#sp0)"/>
<circle cx="19.07" cy="250.93" r="0.36" fill="#ffffff"/>
<circle cx="21.62" cy="248.64" r="2.55" fill="url(#sp0)"/>
<circle cx="24.17" cy="250.93" r="0.36" fill="#ffffff"/>
<circle cx="26.72" cy="248.64" r="2.55" fill="url(#sp0)"/>
<circle cx="29.27" cy="250.93" r="0.36" fill="#ffffff"/>
<circle cx="31.82" cy="248.64" r="2.55" fill="url(#sp0)"/>
<circle cx="34.37" cy="250.93" r="0.36" fill="#ffffff"/>
<circle cx="36.92" cy="248.64" r="2.55" fill="url(#sp0)"/>
<circle cx="39.47" cy="250.93" r="0.36" fill="#ffffff"/>
<circle cx="42.02" cy="248.64" r="2.55" fill="url(#sp0)"/>
<circle cx="44.57" cy="250.93" r="0.36" fill="#ffffff"/>
<circle cx="47.12" cy="248.64" r="2.55" fill="url(#sp0)"/>
<circle cx="49.67" cy="250.93" r="0.36" fill="#ffffff"/>
<circle cx="52.22" cy="248.64" r="2.55" fill="url(#sp0)"/>
<circle cx="54.77" cy="250.93" r="0.36" fill="#ffffff"/>
<circle cx="57.32" cy="248.64" r="2.55" fill="url(#sp0)"/>
<circle cx="59.87" cy="250.93" r="0.36" fill="#ffffff"/>
<circle cx="-10.93" cy="253.23" r="2.55" fill="url(#sp0)"/>
<circle cx="-8.38" cy="255.52" r="0.36" fill="#ffffff"/>
<circle cx="-5.83" cy="253.23" r="2.55" fill="url(#sp0)"/>
<circle cx="-3.28" cy="255.52" r="0.36" fill="#ffffff"/>
<circle cx="-0.73" cy="253.23" r="2.55" fill="url(#sp0)"/>
<circle cx="1.82" cy="255.52" r="0.36" fill="#ffffff"/>
<circle cx="4.37" cy="253.23" r="2.55" fill="url(#sp0)"/>
<circle cx="6.92" cy="255.52" r="0.36" fill="#ffffff"/>
<circle cx="9.47" cy="253.23" r="2.55" fill="url(#sp0)"/>
<circle cx="12.02" cy="255.52" r="0.36" fill="#ffffff"/>
<circle cx="14.57" cy="253.23" r="2.55" fill="url(#sp0)"/>
<circle cx="17.12" cy="255.52" r="0.36" fill="#ffffff"/>
<circle cx="19.67" cy="253.23" r="2.55" fill="url(#sp0)"/>
<circle cx="22.22" cy="255.52" r="0.36" fill="#ffffff"/>
<circle cx="24.77" cy="253.23" r="2.55" fill="url(#sp0)"/>
<circle cx="27.32" cy="255.52" r="0.36" fill="#ffffff"/>
<circle cx="29.87" cy="253.23" r="2.55" fill="url(#sp0)"/>
<circle cx="32.42" cy="255.52" r="0.36" fill="#ffffff"/>
<circle cx="34.97" cy="253.23" r="2.55" fill="url(#sp0)"/>
<circle cx="37.52" cy="255.52" r="0.36" fill="#ffffff"/>
<circle cx="40.07" cy="253.23" r="2.55" fill="url(#sp0)"/>
<circle cx="42.62" cy="255.52" r="0.36" fill="#ffffff"/>
<circle cx="45.17" cy="253.23" r="2.55" fill="url(#sp0)"/>
<circle cx="47.72" cy="255.52" r="0.36" fill="#ffffff"/>
<circle cx="50.27" cy="253.23" r="2.55" fill="url(#sp0)"/>
<circle cx="52.82" cy="255.52" r="0.36" fill="#ffffff"/>
<circle cx="55.37" cy="253.23" r="2.55" fill="url(#sp0)"/>
<circle cx="57.92" cy="255.52" r="0.36" fill="#ffffff"/>
<circle cx="60.47" cy="253.23" r="2.55" fill="url(#sp0)"/>
<circle cx="63.02" cy="255.52" r="0.36" fill="#ffffff"/>
<circle cx="-12.88" cy="257.82" r="2.55" fill="url(#sp0)"/>
<circle cx="-10.33" cy="260.12" r="0.36" fill="#ffffff"/>
<circle cx="-7.78" cy="257.82" r="2.55" fill="url(#sp0)"/>
<circle cx="-5.23" cy="260.12" r="0.36" fill="#ffffff"/>
<circle cx="-2.68" cy="257.82" r="2.55" fill="url(#sp0)"/>
<circle cx="-0.13" cy="260.12" r="0.36" fill="#ffffff"/>
<circle cx="2.42" cy="257.82" r="2.55" fill="url(#sp0)"/>
<circle cx="4.97" cy="260.12" r="0.36" fill="#ffffff"/>
<circle cx="7.52" cy="257.82" r="2.55" fill="url(#sp0)"/>
<circle cx="10.07" cy="260.12" r="0.36" fill="#ffffff"/>
<circle cx="12.62" cy="257.82" r="2.55" fill="url(#sp0)"/>
<circle cx="15.17" cy="260.12" r="0.36" fill="#ffffff"/>
<circle cx="17.72" cy="257.82" r="2.55" fill="url(#sp0)"/>
<circle cx="20.27" cy="260.12" r="0.36" fill="#ffffff"/>
<circle cx="22.82" cy="257.82" r="2.55" fill="url(#sp0)"/>
<circle cx="25.37" cy="260.12" r="0.36" fill="#ffffff"/>
<circle cx="27.92" cy="257.82" r="2.55" fill="url(#sp0)"/>
<circle cx="30.47" cy="260.12" r="0.36" fill="#ffffff"/>
<circle cx="33.02" cy="257.82" r="2.55" fill="url(#sp0)"/>
<circle cx="35.57" cy="260.12" r="0.36" fill="#ffffff"/>
<circle cx="38.12" cy="257.82" r="2.55" fill="url(#sp0)"/>
<circle cx="40.67" cy="260.12" r="0.36" fill="#ffffff"/>
<circle cx="43.22" cy="257.82" r="2.55" fill="url(#sp0)"/>
<circle cx="45.77" cy="260.12" r="0.36" fill="#ffffff"/>
<circle cx="48.32" cy="257.82" r="2.55" fill="url(#sp0)"/>
<circle cx="50.87" cy="260.12" r="0.36" fill="#ffffff"/>
<circle cx="53.42" cy="257.82" r="2.55" fill="url(#sp0)"/>
<circle cx="55.97" cy="260.12" r="0.36" fill="#ffffff"/>
<circle cx="58.52" cy="257.82" r="2.55" fill="url(#sp0)"/>
<circle cx="61.07" cy="260.12" r="0.36" fill="#ffffff"/>
<circle cx="-9.73" cy="262.41" r="2.55" fill="url(#sp0)"/>
<circle cx="-7.18" cy="264.71" r="0.36" fill="#ffffff"/>
<circle cx="-4.63" cy="262.41" r="2.55" fill="url(#sp0)"/>
<circle cx="-2.08" cy="264.71" r="0.36" fill="#ffffff"/>
<circle cx="0.47" cy="262.41" r="2.55" fill="url(#sp0)"/>
<circle cx="3.02" cy="264.71" r="0.36" fill="#ffffff"/>
<circle cx="5.57" cy="262.41" r="2.55" fill="url(#sp0)"/>
<circle cx="8.12" cy="264.71" r="0.36" fill="#ffffff"/>
<circle cx="10.67" cy="262.41" r="2.55" fill="url(#sp0)"/>
<circle cx="13.22" cy="264.71" r="0.36" fill="#ffffff"/>
<circle cx="15.77" cy="262.41" r="2.55" fill="url(#sp0)"/>
<circle cx="18.32" cy="264.71" r="0.36" fill="#ffffff"/>
<circle cx="20.87" cy="262.41" r="2.55" fill="url(#sp0)"/>
<circle cx="23.42" cy="264.71" r="0.36" fill="#ffffff"/>
<circle cx="25.97" cy="262.41" r="2.55" fill="url(#sp0)"/>
<circle cx="28.52" cy="264.71" r="0.36" fill="#ffffff"/>
<circle cx="31.07" cy="262.41" r="2.55" fill="url(#sp0)"/>
<circle cx="33.62" cy="264.71" r="0.36" fill="#ffffff"/>
<circle cx="36.17" cy="262.41" r="2.55" fill="url(#sp0)"/>
<circle cx="38.72" cy="264.71" r="0.36" fill="#ffffff"/>
<circle cx="41.27" cy="262.41" r="2.55" fill="url(#sp0)"/>
<circle cx="43.82" cy="264.71" r="0.36" fill="#ffffff"/>
<circle cx="46.37" cy="262.41" r="2.55" fill="url(#sp0)"/>
<circle cx="48.92" cy="264.71" r="0.36" fill="#ffffff"/>
<circle cx="51.47" cy="262.41" r="2.55" fill="url(#sp0)"/>
<circle cx="54.02" cy="264.71" r="0.36" fill="#ffffff"/>
<circle cx="56.57" cy="262.41" r="2.55" fill="url(#sp0)"/>
<circle cx="59.12" cy="264.71" r="0.36" fill="#ffffff"/>
<circle cx="61.67" cy="262.41" r="2.55" fill="url(#sp0)"/>
<circle cx="64.22" cy="264.71" r="0.36" fill="#ffffff"/>
<circle cx="-11.68" cy="267" r="2.55" fill="url(#sp0)"/>
<circle cx="-9.13" cy="269.3" r="0.36" fill="#ffffff"/>
<circle cx="-6.58" cy="267" r="2.55" fill="url(#sp0)"/>
<circle cx="-4.03" cy="269.3" r="0.36" fill="#ffffff"/>
<circle cx="-1.48" cy="267" r="2.55" fill="url(#sp0)"/>
<circle cx="1.07" cy="269.3" r="0.36" fill="#ffffff"/>
<circle cx="3.62" cy="267" r="2.55" fill="url(#sp0)"/>
<circle cx="6.17" cy="269.3" r="0.36" fill="#ffffff"/>
<circle cx="8.72" cy="267" r="2.55" fill="url(#sp0)"/>
<circle cx="11.27" cy="269.3" r="0.36" fill="#ffffff"/>
<circle cx="13.82" cy="267" r="2.55" fill="url(#sp0)"/>
<circle cx="16.37" cy="269.3" r="0.36" fill="#ffffff"/>
<circle cx="18.92" cy="267" r="2.55" fill="url(#sp0)"/>
<circle cx="21.47" cy="269.3" r="0.36" fill="#ffffff"/>
<circle cx="24.02" cy="267" r="2.55" fill="url(#sp0)"/>
<circle cx="26.57" cy="269.3" r="0.36" fill="#ffffff"/>
<circle cx="29.12" cy="267" r="2.55" fill="url(#sp0)"/>
<circle cx="31.67" cy="269.3" r="0.36" fill="#ffffff"/>
<circle cx="34.22" cy="267" r="2.55" fill="url(#sp0)"/>
<circle cx="36.77" cy="269.3" r="0.36" fill="#ffffff"/>
<circle cx="39.32" cy="267" r="2.55" fill="url(#sp0)"/>
<circle cx="41.87" cy="269.3" r="0.36" fill="#ffffff"/>
<circle cx="44.42" cy="267" r="2.55" fill="url(#sp0)"/>
<circle cx="46.97" cy="269.3" r="0.36" fill="#ffffff"/>
<circle cx="49.52" cy="267" r="2.55" fill="url(#sp0)"/>
<circle cx="52.07" cy="269.3" r="0.36" fill="#ffffff"/>
<circle cx="54.62" cy="267" r="2.55" fill="url(#sp0)"/>
<circle cx="57.17" cy="269.3" r="0.36" fill="#ffffff"/>
<circle cx="59.72" cy="267" r="2.55" fill="url(#sp0)"/>
<circle cx="62.27" cy="269.3" r="0.36" fill="#ffffff"/>
<circle cx="-8.53" cy="271.59" r="2.55" fill="url(#sp0)"/>
<circle cx="-5.98" cy="273.88" r="0.36" fill="#ffffff"/>
<circle cx="-3.43" cy="271.59" r="2.55" fill="url(#sp0)"/>
<circle cx="-0.88" cy="273.88" r="0.36" fill="#ffffff"/>
<circle cx="1.67" cy="271.59" r="2.55" fill="url(#sp0)"/>
<circle cx="4.22" cy="273.88" r="0.36" fill="#ffffff"/>
<circle cx="6.77" cy="271.59" r="2.55" fill="url(#sp0)"/>
<circle cx="9.32" cy="273.88" r="0.36" fill="#ffffff"/>
<circle cx="11.87" cy="271.59" r="2.55" fill="url(#sp0)"/>
<circle cx="14.42" cy="273.88" r="0.36" fill="#ffffff"/>
<circle cx="16.97" cy="271.59" r="2.55" fill="url(#sp0)"/>
<circle cx="19.52" cy="273.88" r="0.36" fill="#ffffff"/>
<circle cx="22.07" cy="271.59" r="2.55" fill="url(#sp0)"/>
<circle cx="24.62" cy="273.88" r="0.36" fill="#ffffff"/>
<circle cx="27.17" cy="271.59" r="2.55" fill="url(#sp0)"/>
<circle cx="29.72" cy="273.88" r="0.36" fill="#ffffff"/>
<circle cx="32.27" cy="271.59" r="2.55" fill="url(#sp0)"/>
<circle cx="34.82" cy="273.88" r="0.36" fill="#ffffff"/>
<circle cx="37.37" cy="271.59" r="2.55" fill="url(#sp0)"/>
<circle cx="39.92" cy="273.88" r="0.36" fill="#ffffff"/>
<circle cx="42.47" cy="271.59" r="2.55" fill="url(#sp0)"/>
<circle cx="45.02" cy="273.88" r="0.36" fill="#ffffff"/>
<circle cx="47.57" cy="271.59" r="2.55" fill="url(#sp0)"/>
<circle cx="50.12" cy="273.88" r="0.36" fill="#ffffff"/>
<circle cx="52.67" cy="271.59" r="2.55" fill="url(#sp0)"/>
<circle cx="55.22" cy="273.88" r="0.36" fill="#ffffff"/>
<circle cx="57.77" cy="271.59" r="2.55" fill="url(#sp0)"/>
<circle cx="60.32" cy="273.88" r="0.36" fill="#ffffff"/>
<circle cx="62.87" cy="271.59" r="2.55" fill="url(#sp0)"/>
<circle cx="65.42" cy="273.88" r="0.36" fill="#ffffff"/>
<circle cx="-10.48" cy="276.18" r="2.55" fill="url(#sp0)"/>
<circle cx="-7.93" cy="278.48" r="0.36" fill="#ffffff"/>
<circle cx="-5.38" cy="276.18" r="2.55" fill="url(#sp0)"/>
<circle cx="-2.83" cy="278.48" r="0.36" fill="#ffffff"/>
<circle cx="-0.28" cy="276.18" r="2.55" fill="url(#sp0)"/>
<circle cx="2.27" cy="278.48" r="0.36" fill="#ffffff"/>
<circle cx="4.82" cy="276.18" r="2.55" fill="url(#sp0)"/>
<circle cx="7.37" cy="278.48" r="0.36" fill="#ffffff"/>
<circle cx="9.92" cy="276.18" r="2.55" fill="url(#sp0)"/>
<circle cx="12.47" cy="278.48" r="0.36" fill="#ffffff"/>
<circle cx="15.02" cy="276.18" r="2.55" fill="url(#sp0)"/>
<circle cx="17.57" cy="278.48" r="0.36" fill="#ffffff"/>
<circle cx="20.12" cy="276.18" r="2.55" fill="url(#sp0)"/>
<circle cx="22.67" cy="278.48" r="0.36" fill="#ffffff"/>
<circle cx="25.22" cy="276.18" r="2.55" fill="url(#sp0)"/>
<circle cx="27.77" cy="278.48" r="0.36" fill="#ffffff"/>
<circle cx="30.32" cy="276.18" r="2.55" fill="url(#sp0)"/>
<circle cx="32.87" cy="278.48" r="0.36" fill="#ffffff"/>
<circle cx="35.42" cy="276.18" r="2.55" fill="url(#sp0)"/>
<circle cx="37.97" cy="278.48" r="0.36" fill="#ffffff"/>
<circle cx="40.52" cy="276.18" r="2.55" fill="url(#sp0)"/>
<circle cx="43.07" cy="278.48" r="0.36" fill="#ffffff"/>
<circle cx="45.62" cy="276.18" r="2.55" fill="url(#sp0)"/>
<circle cx="48.17" cy="278.48" r="0.36" fill="#ffffff"/>
<circle cx="50.72" cy="276.18" r="2.55" fill="url(#sp0)"/>
<circle cx="53.27" cy="278.48" r="0.36" fill="#ffffff"/>
<circle cx="55.82" cy="276.18" r="2.55" fill="url(#sp0)"/>
<circle cx="58.37" cy="278.48" r="0.36" fill="#ffffff"/>
<circle cx="60.92" cy="276.18" r="2.55" fill="url(#sp0)"/>
<circle cx="63.47" cy="278.48" r="0.36" fill="#ffffff"/>
<circle cx="-7.33" cy="280.77" r="2.55" fill="url(#sp0)"/>
<circle cx="-4.78" cy="283.06" r="0.36" fill="#ffffff"/>
<circle cx="-2.23" cy="280.77" r="2.55" fill="url(#sp0)"/>
<circle cx="0.32" cy="283.06" r="0.36" fill="#ffffff"/>
<circle cx="2.87" cy="280.77" r="2.55" fill="url(#sp0)"/>
<circle cx="5.42" cy="283.06" r="0.36" fill="#ffffff"/>
<circle cx="7.97" cy="280.77" r="2.55" fill="url(#sp0)"/>
<circle cx="10.52" cy="283.06" r="0.36" fill="#ffffff"/>
<circle cx="13.07" cy="280.77" r="2.55" fill="url(#sp0)"/>
<circle cx="15.62" cy="283.06" r="0.36" fill="#ffffff"/>
<circle cx="18.17" cy="280.77" r="2.55" fill="url(#sp0)"/>
<circle cx="20.72" cy="283.06" r="0.36" fill="#ffffff"/>
<circle cx="23.27" cy="280.77" r="2.55" fill="url(#sp0)"/>
<circle cx="25.82" cy="283.06" r="0.36" fill="#ffffff"/>
<circle cx="28.37" cy="280.77" r="2.55" fill="url(#sp0)"/>
<circle cx="30.92" cy="283.06" r="0.36" fill="#ffffff"/>
<circle cx="33.47" cy="280.77" r="2.55" fill="url(#sp0)"/>
<circle cx="36.02" cy="283.06" r="0.36" fill="#ffffff"/>
<circle cx="38.57" cy="280.77" r="2.55" fill="url(#sp0)"/>
<circle cx="41.12" cy="283.06" r="0.36" fill="#ffffff"/>
<circle cx="43.67" cy="280.77" r="2.55" fill="url(#sp0)"/>
<circle cx="46.22" cy="283.06" r="0.36" fill="#ffffff"/>
<circle cx="48.77" cy="280.77" r="2.55" fill="url(#sp0)"/>
<circle cx="51.32" cy="283.06" r="0.36" fill="#ffffff"/>
<circle cx="53.87" cy="280.77" r="2.55" fill="url(#sp0)"/>
<circle cx="56.42" cy="283.06" r="0.36" fill="#ffffff"/>
<circle cx="58.97" cy="280.77" r="2.55" fill="url(#sp0)"/>
<circle cx="61.52" cy="283.06" r="0.36" fill="#ffffff"/>
<circle cx="64.07" cy="280.77" r="2.55" fill="url(#sp0)"/>
<circle cx="66.62" cy="283.06" r="0.36" fill="#ffffff"/>
<circle cx="-9.28" cy="285.36" r="2.55" fill="url(#sp0)"/>
<circle cx="-6.73" cy="287.66" r="0.36" fill="#ffffff"/>
<circle cx="-4.18" cy="285.36" r="2.55" fill="url(#sp0)"/>
<circle cx="-1.63" cy="287.66" r="0.36" fill="#ffffff"/>
<circle cx="0.92" cy="285.36" r="2.55" fill="url(#sp0)"/>
<circle cx="3.47" cy="287.66" r="0.36" fill="#ffffff"/>
<circle cx="6.02" cy="285.36" r="2.55" fill="url(#sp0)"/>
<circle cx="8.57" cy="287.66" r="0.36" fill="#ffffff"/>
<circle cx="11.12" cy="285.36" r="2.55" fill="url(#sp0)"/>
<circle cx="13.67" cy="287.66" r="0.36" fill="#ffffff"/>
<circle cx="16.22" cy="285.36" r="2.55" fill="url(#sp0)"/>
<circle cx="18.77" cy="287.66" r="0.36" fill="#ffffff"/>
<circle cx="21.32" cy="285.36" r="2.55" fill="url(#sp0)"/>
<circle cx="23.87" cy="287.66" r="0.36" fill="#ffffff"/>
<circle cx="26.42" cy="285.36" r="2.55" fill="url(#sp0)"/>
<circle cx="28.97" cy="287.66" r="0.36" fill="#ffffff"/>
<circle cx="31.52" cy="285.36" r="2.55" fill="url(#sp0)"/>
<circle cx="34.07" cy="287.66" r="0.36" fill="#ffffff"/>
<circle cx="36.62" cy="285.36" r="2.55" fill="url(#sp0)"/>
<circle cx="39.17" cy="287.66" r="0.36" fill="#ffffff"/>
<circle cx="41.72" cy="285.36" r="2.55" fill="url(#sp0)"/>
<circle cx="44.27" cy="287.66" r="0.36" fill="#ffffff"/>
<circle cx="46.82" cy="285.36" r="2.55" fill="url(#sp0)"/>
<circle cx="49.37" cy="287.66" r="0.36" fill="#ffffff"/>
<circle cx="51.92" cy="285.36" r="2.55" fill="url(#sp0)"/>
<circle cx="54.47" cy="287.66" r="0.36" fill="#ffffff"/>
<circle cx="57.02" cy="285.36" r="2.55" fill="url(#sp0)"/>
<circle cx="59.57" cy="287.66" r="0.36" fill="#ffffff"/>
<circle cx="62.12" cy="285.36" r="2.55" fill="url(#sp0)"/>
<circle cx="64.67" cy="287.66" r="0.36" fill="#ffffff"/>
<circle cx="-6.13" cy="289.95" r="2.55" fill="url(#sp0)"/>
<circle cx="-3.58" cy="292.25" r="0.36" fill="#ffffff"/>
<circle cx="-1.03" cy="289.95" r="2.55" fill="url(#sp0)"/>
<circle cx="1.52" cy="292.25" r="0.36" fill="#ffffff"/>
<circle cx="4.07" cy="289.95" r="2.55" fill="url(#sp0)"/>
<circle cx="6.62" cy="292.25" r="0.36" fill="#ffffff"/>
<circle cx="9.17" cy="289.95" r="2.55" fill="url(#sp0)"/>
<circle cx="11.72" cy="292.25" r="0.36" fill="#ffffff"/>
<circle cx="14.27" cy="289.95" r="2.55" fill="url(#sp0)"/>
<circle cx="16.82" cy="292.25" r="0.36" fill="#ffffff"/>
<circle cx="19.37" cy="289.95" r="2.55" fill="url(#sp0)"/>
<circle cx="21.92" cy="292.25" r="0.36" fill="#ffffff"/>
<circle cx="24.47" cy="289.95" r="2.55" fill="url(#sp0)"/>
<circle cx="27.02" cy="292.25" r="0.36" fill="#ffffff"/>
<circle cx="29.57" cy="289.95" r="2.55" fill="url(#sp0)"/>
<circle cx="32.12" cy="292.25" r="0.36" fill="#ffffff"/>
<circle cx="34.67" cy="289.95" r="2.55" fill="url(#sp0)"/>
<circle cx="37.22" cy="292.25" r="0.36" fill="#ffffff"/>
<circle cx="39.77" cy="289.95" r="2.55" fill="url(#sp0)"/>
<circle cx="42.32" cy="292.25" r="0.36" fill="#ffffff"/>
<circle cx="44.87" cy="289.95" r="2.55" fill="url(#sp0)"/>
<circle cx="47.42" cy="292.25" r="0.36" fill="#ffffff"/>
<circle cx="49.97" cy="289.95" r="2.55" fill="url(#sp0)"/>
<circle cx="52.52" cy="292.25" r="0.36" fill="#ffffff"/>
<circle cx="55.07" cy="289.95" r="2.55" fill="url(#sp0)"/>
<circle cx="57.62" cy="292.25" r="0.36" fill="#ffffff"/>
<circle cx="60.17" cy="289.95" r="2.55" fill="url(#sp0)"/>
<circle cx="62.72" cy="292.25" r="0.36" fill="#ffffff"/>
<circle cx="65.27" cy="289.95" r="2.55" fill="url(#sp0)"/>
<circle cx="67.82" cy="292.25" r="0.36" fill="#ffffff"/>
<circle cx="-8.08" cy="294.54" r="2.55" fill="url(#sp0)"/>
<circle cx="-5.53" cy="296.84" r="0.36" fill="#ffffff"/>
<circle cx="-2.98" cy="294.54" r="2.55" fill="url(#sp0)"/>
<circle cx="-0.43" cy="296.84" r="0.36" fill="#ffffff"/>
<circle cx="2.12" cy="294.54" r="2.55" fill="url(#sp0)"/>
<circle cx="4.67" cy="296.84" r="0.36" fill="#ffffff"/>
<circle cx="7.22" cy="294.54" r="2.55" fill="url(#sp0)"/>
<circle cx="9.77" cy="296.84" r="0.36" fill="#ffffff"/>
<circle cx="12.32" cy="294.54" r="2.55" fill="url(#sp0)"/>
<circle cx="14.87" cy="296.84" r="0.36" fill="#ffffff"/>
<circle cx="17.42" cy="294.54" r="2.55" fill="url(#sp0)"/>
<circle cx="19.97" cy="296.84" r="0.36" fill="#ffffff"/>
<circle cx="22.52" cy="294.54" r="2.55" fill="url(#sp0)"/>
<circle cx="25.07" cy="296.84" r="0.36" fill="#ffffff"/>
<circle cx="27.62" cy="294.54" r="2.55" fill="url(#sp0)"/>
<circle cx="30.17" cy="296.84" r="0.36" fill="#ffffff"/>
<circle cx="32.72" cy="294.54" r="2.55" fill="url(#sp0)"/>
<circle cx="35.27" cy="296.84" r="0.36" fill="#ffffff"/>
<circle cx="37.82" cy="294.54" r="2.55" fill="url(#sp0)"/>
<circle cx="40.37" cy="296.84" r="0.36" fill="#ffffff"/>
<circle cx="42.92" cy="294.54" r="2.55" fill="url(#sp0)"/>
<circle cx="45.47" cy="296.84" r="0.36" fill="#ffffff"/>
<circle cx="48.02" cy="294.54" r="2.55" fill="url(#sp0)"/>
<circle cx="50.57" cy="296.84" r="0.36" fill="#ffffff"/>
<circle cx="53.12" cy="294.54" r="2.55" fill="url(#sp0)"/>
<circle cx="55.67" cy="296.84" r="0.36" fill="#ffffff"/>
<circle cx="58.22" cy="294.54" r="2.55" fill="url(#sp0)"/>
<circle cx="60.77" cy="296.84" r="0.36" fill="#ffffff"/>
<circle cx="63.32" cy="294.54" r="2.55" fill="url(#sp0)"/>
<circle cx="65.87" cy="296.84" r="0.36" fill="#ffffff"/>
</g>
<circle cx="23" cy="267" r="17.8" fill="none" stroke="#e0303a" stroke-width="0.9" stroke-dasharray="2,1"/>
<clipPath id="cpa1"><circle cx="87" cy="267.6" r="17.9"/></clipPath>
<g clip-path="url(#cpa1)">
<circle cx="87" cy="267.6" r="17.9" fill="#3a3020" stroke="none" stroke-width="1" />
<ellipse cx="47.47" cy="235.5" rx="3.05" ry="2.9" fill="url(#sp1)"/>
<ellipse cx="53.37" cy="234.8" rx="3.05" ry="2.9" fill="url(#sp1)"/>
<ellipse cx="59.27" cy="234.09" rx="3.05" ry="2.9" fill="url(#sp1)"/>
<ellipse cx="65.17" cy="233.38" rx="3.05" ry="2.9" fill="url(#sp1)"/>
<ellipse cx="71.07" cy="232.67" rx="3.05" ry="2.9" fill="url(#sp1)"/>
<ellipse cx="76.97" cy="231.96" rx="3.05" ry="2.9" fill="url(#sp1)"/>
<ellipse cx="82.87" cy="231.26" rx="3.05" ry="2.9" fill="url(#sp1)"/>
<ellipse cx="88.77" cy="230.55" rx="3.05" ry="2.9" fill="url(#sp1)"/>
<ellipse cx="94.67" cy="229.84" rx="3.05" ry="2.9" fill="url(#sp1)"/>
<ellipse cx="100.57" cy="229.13" rx="3.05" ry="2.9" fill="url(#sp1)"/>
<ellipse cx="106.47" cy="228.42" rx="3.05" ry="2.9" fill="url(#sp1)"/>
<ellipse cx="112.37" cy="227.72" rx="3.05" ry="2.9" fill="url(#sp1)"/>
<ellipse cx="118.27" cy="227.01" rx="3.05" ry="2.9" fill="url(#sp1)"/>
<ellipse cx="48.06" cy="240.7" rx="3.05" ry="2.9" fill="url(#sp1)"/>
<ellipse cx="53.96" cy="239.99" rx="3.05" ry="2.9" fill="url(#sp1)"/>
<ellipse cx="59.86" cy="239.28" rx="3.05" ry="2.9" fill="url(#sp1)"/>
<ellipse cx="65.76" cy="238.57" rx="3.05" ry="2.9" fill="url(#sp1)"/>
<ellipse cx="71.66" cy="237.86" rx="3.05" ry="2.9" fill="url(#sp1)"/>
<ellipse cx="77.56" cy="237.16" rx="3.05" ry="2.9" fill="url(#sp1)"/>
<ellipse cx="83.46" cy="236.45" rx="3.05" ry="2.9" fill="url(#sp1)"/>
<ellipse cx="89.36" cy="235.74" rx="3.05" ry="2.9" fill="url(#sp1)"/>
<ellipse cx="95.26" cy="235.03" rx="3.05" ry="2.9" fill="url(#sp1)"/>
<ellipse cx="101.16" cy="234.32" rx="3.05" ry="2.9" fill="url(#sp1)"/>
<ellipse cx="107.06" cy="233.62" rx="3.05" ry="2.9" fill="url(#sp1)"/>
<ellipse cx="112.96" cy="232.91" rx="3.05" ry="2.9" fill="url(#sp1)"/>
<ellipse cx="118.86" cy="232.2" rx="3.05" ry="2.9" fill="url(#sp1)"/>
<ellipse cx="48.65" cy="245.89" rx="3.05" ry="2.9" fill="url(#sp1)"/>
<ellipse cx="54.55" cy="245.18" rx="3.05" ry="2.9" fill="url(#sp1)"/>
<ellipse cx="60.45" cy="244.47" rx="3.05" ry="2.9" fill="url(#sp1)"/>
<ellipse cx="66.35" cy="243.76" rx="3.05" ry="2.9" fill="url(#sp1)"/>
<ellipse cx="72.25" cy="243.06" rx="3.05" ry="2.9" fill="url(#sp1)"/>
<ellipse cx="78.15" cy="242.35" rx="3.05" ry="2.9" fill="url(#sp1)"/>
<ellipse cx="84.05" cy="241.64" rx="3.05" ry="2.9" fill="url(#sp1)"/>
<ellipse cx="89.95" cy="240.93" rx="3.05" ry="2.9" fill="url(#sp1)"/>
<ellipse cx="95.85" cy="240.22" rx="3.05" ry="2.9" fill="url(#sp1)"/>
<ellipse cx="101.75" cy="239.52" rx="3.05" ry="2.9" fill="url(#sp1)"/>
<ellipse cx="107.65" cy="238.81" rx="3.05" ry="2.9" fill="url(#sp1)"/>
<ellipse cx="113.55" cy="238.1" rx="3.05" ry="2.9" fill="url(#sp1)"/>
<ellipse cx="119.45" cy="237.39" rx="3.05" ry="2.9" fill="url(#sp1)"/>
<ellipse cx="49.24" cy="251.08" rx="3.05" ry="2.9" fill="url(#sp1)"/>
<ellipse cx="55.14" cy="250.37" rx="3.05" ry="2.9" fill="url(#sp1)"/>
<ellipse cx="61.04" cy="249.66" rx="3.05" ry="2.9" fill="url(#sp1)"/>
<ellipse cx="66.94" cy="248.96" rx="3.05" ry="2.9" fill="url(#sp1)"/>
<ellipse cx="72.84" cy="248.25" rx="3.05" ry="2.9" fill="url(#sp1)"/>
<ellipse cx="78.74" cy="247.54" rx="3.05" ry="2.9" fill="url(#sp1)"/>
<ellipse cx="84.64" cy="246.83" rx="3.05" ry="2.9" fill="url(#sp1)"/>
<ellipse cx="90.54" cy="246.12" rx="3.05" ry="2.9" fill="url(#sp1)"/>
<ellipse cx="96.44" cy="245.42" rx="3.05" ry="2.9" fill="url(#sp1)"/>
<ellipse cx="102.34" cy="244.71" rx="3.05" ry="2.9" fill="url(#sp1)"/>
<ellipse cx="108.24" cy="244" rx="3.05" ry="2.9" fill="url(#sp1)"/>
<ellipse cx="114.14" cy="243.29" rx="3.05" ry="2.9" fill="url(#sp1)"/>
<ellipse cx="120.04" cy="242.58" rx="3.05" ry="2.9" fill="url(#sp1)"/>
<ellipse cx="49.83" cy="256.27" rx="3.05" ry="2.9" fill="url(#sp1)"/>
<ellipse cx="55.73" cy="255.56" rx="3.05" ry="2.9" fill="url(#sp1)"/>
<ellipse cx="61.63" cy="254.86" rx="3.05" ry="2.9" fill="url(#sp1)"/>
<ellipse cx="67.53" cy="254.15" rx="3.05" ry="2.9" fill="url(#sp1)"/>
<ellipse cx="73.43" cy="253.44" rx="3.05" ry="2.9" fill="url(#sp1)"/>
<ellipse cx="79.33" cy="252.73" rx="3.05" ry="2.9" fill="url(#sp1)"/>
<ellipse cx="85.23" cy="252.02" rx="3.05" ry="2.9" fill="url(#sp1)"/>
<ellipse cx="91.13" cy="251.32" rx="3.05" ry="2.9" fill="url(#sp1)"/>
<ellipse cx="97.03" cy="250.61" rx="3.05" ry="2.9" fill="url(#sp1)"/>
<ellipse cx="102.93" cy="249.9" rx="3.05" ry="2.9" fill="url(#sp1)"/>
<ellipse cx="108.83" cy="249.19" rx="3.05" ry="2.9" fill="url(#sp1)"/>
<ellipse cx="114.73" cy="248.48" rx="3.05" ry="2.9" fill="url(#sp1)"/>
<ellipse cx="120.63" cy="247.78" rx="3.05" ry="2.9" fill="url(#sp1)"/>
<ellipse cx="50.42" cy="261.46" rx="3.05" ry="2.9" fill="url(#sp1)"/>
<ellipse cx="56.32" cy="260.76" rx="3.05" ry="2.9" fill="url(#sp1)"/>
<ellipse cx="62.22" cy="260.05" rx="3.05" ry="2.9" fill="url(#sp1)"/>
<ellipse cx="68.12" cy="259.34" rx="3.05" ry="2.9" fill="url(#sp1)"/>
<ellipse cx="74.02" cy="258.63" rx="3.05" ry="2.9" fill="url(#sp1)"/>
<ellipse cx="79.92" cy="257.92" rx="3.05" ry="2.9" fill="url(#sp1)"/>
<ellipse cx="85.82" cy="257.22" rx="3.05" ry="2.9" fill="url(#sp1)"/>
<ellipse cx="91.72" cy="256.51" rx="3.05" ry="2.9" fill="url(#sp1)"/>
<ellipse cx="97.62" cy="255.8" rx="3.05" ry="2.9" fill="url(#sp1)"/>
<ellipse cx="103.52" cy="255.09" rx="3.05" ry="2.9" fill="url(#sp1)"/>
<ellipse cx="109.42" cy="254.38" rx="3.05" ry="2.9" fill="url(#sp1)"/>
<ellipse cx="115.32" cy="253.68" rx="3.05" ry="2.9" fill="url(#sp1)"/>
<ellipse cx="121.22" cy="252.97" rx="3.05" ry="2.9" fill="url(#sp1)"/>
<ellipse cx="51.01" cy="266.66" rx="3.05" ry="2.9" fill="url(#sp1)"/>
<ellipse cx="56.91" cy="265.95" rx="3.05" ry="2.9" fill="url(#sp1)"/>
<ellipse cx="62.81" cy="265.24" rx="3.05" ry="2.9" fill="url(#sp1)"/>
<ellipse cx="68.71" cy="264.53" rx="3.05" ry="2.9" fill="url(#sp1)"/>
<ellipse cx="74.61" cy="263.82" rx="3.05" ry="2.9" fill="url(#sp1)"/>
<ellipse cx="80.51" cy="263.12" rx="3.05" ry="2.9" fill="url(#sp1)"/>
<ellipse cx="86.41" cy="262.41" rx="3.05" ry="2.9" fill="url(#sp1)"/>
<ellipse cx="92.31" cy="261.7" rx="3.05" ry="2.9" fill="url(#sp1)"/>
<ellipse cx="98.21" cy="260.99" rx="3.05" ry="2.9" fill="url(#sp1)"/>
<ellipse cx="104.11" cy="260.28" rx="3.05" ry="2.9" fill="url(#sp1)"/>
<ellipse cx="110.01" cy="259.58" rx="3.05" ry="2.9" fill="url(#sp1)"/>
<ellipse cx="115.91" cy="258.87" rx="3.05" ry="2.9" fill="url(#sp1)"/>
<ellipse cx="121.81" cy="258.16" rx="3.05" ry="2.9" fill="url(#sp1)"/>
<ellipse cx="51.6" cy="271.85" rx="3.05" ry="2.9" fill="url(#sp1)"/>
<ellipse cx="57.5" cy="271.14" rx="3.05" ry="2.9" fill="url(#sp1)"/>
<ellipse cx="63.4" cy="270.43" rx="3.05" ry="2.9" fill="url(#sp1)"/>
<ellipse cx="69.3" cy="269.72" rx="3.05" ry="2.9" fill="url(#sp1)"/>
<ellipse cx="75.2" cy="269.02" rx="3.05" ry="2.9" fill="url(#sp1)"/>
<ellipse cx="81.1" cy="268.31" rx="3.05" ry="2.9" fill="url(#sp1)"/>
<ellipse cx="87" cy="267.6" rx="3.05" ry="2.9" fill="url(#sp1)"/>
<ellipse cx="92.9" cy="266.89" rx="3.05" ry="2.9" fill="url(#sp1)"/>
<ellipse cx="98.8" cy="266.18" rx="3.05" ry="2.9" fill="url(#sp1)"/>
<ellipse cx="104.7" cy="265.48" rx="3.05" ry="2.9" fill="url(#sp1)"/>
<ellipse cx="110.6" cy="264.77" rx="3.05" ry="2.9" fill="url(#sp1)"/>
<ellipse cx="116.5" cy="264.06" rx="3.05" ry="2.9" fill="url(#sp1)"/>
<ellipse cx="122.4" cy="263.35" rx="3.05" ry="2.9" fill="url(#sp1)"/>
<ellipse cx="52.19" cy="277.04" rx="3.05" ry="2.9" fill="url(#sp1)"/>
<ellipse cx="58.09" cy="276.33" rx="3.05" ry="2.9" fill="url(#sp1)"/>
<ellipse cx="63.99" cy="275.62" rx="3.05" ry="2.9" fill="url(#sp1)"/>
<ellipse cx="69.89" cy="274.92" rx="3.05" ry="2.9" fill="url(#sp1)"/>
<ellipse cx="75.79" cy="274.21" rx="3.05" ry="2.9" fill="url(#sp1)"/>
<ellipse cx="81.69" cy="273.5" rx="3.05" ry="2.9" fill="url(#sp1)"/>
<ellipse cx="87.59" cy="272.79" rx="3.05" ry="2.9" fill="url(#sp1)"/>
<ellipse cx="93.49" cy="272.08" rx="3.05" ry="2.9" fill="url(#sp1)"/>
<ellipse cx="99.39" cy="271.38" rx="3.05" ry="2.9" fill="url(#sp1)"/>
<ellipse cx="105.29" cy="270.67" rx="3.05" ry="2.9" fill="url(#sp1)"/>
<ellipse cx="111.19" cy="269.96" rx="3.05" ry="2.9" fill="url(#sp1)"/>
<ellipse cx="117.09" cy="269.25" rx="3.05" ry="2.9" fill="url(#sp1)"/>
<ellipse cx="122.99" cy="268.54" rx="3.05" ry="2.9" fill="url(#sp1)"/>
<ellipse cx="52.78" cy="282.23" rx="3.05" ry="2.9" fill="url(#sp1)"/>
<ellipse cx="58.68" cy="281.52" rx="3.05" ry="2.9" fill="url(#sp1)"/>
<ellipse cx="64.58" cy="280.82" rx="3.05" ry="2.9" fill="url(#sp1)"/>
<ellipse cx="70.48" cy="280.11" rx="3.05" ry="2.9" fill="url(#sp1)"/>
<ellipse cx="76.38" cy="279.4" rx="3.05" ry="2.9" fill="url(#sp1)"/>
<ellipse cx="82.28" cy="278.69" rx="3.05" ry="2.9" fill="url(#sp1)"/>
<ellipse cx="88.18" cy="277.98" rx="3.05" ry="2.9" fill="url(#sp1)"/>
<ellipse cx="94.08" cy="277.28" rx="3.05" ry="2.9" fill="url(#sp1)"/>
<ellipse cx="99.98" cy="276.57" rx="3.05" ry="2.9" fill="url(#sp1)"/>
<ellipse cx="105.88" cy="275.86" rx="3.05" ry="2.9" fill="url(#sp1)"/>
<ellipse cx="111.78" cy="275.15" rx="3.05" ry="2.9" fill="url(#sp1)"/>
<ellipse cx="117.68" cy="274.44" rx="3.05" ry="2.9" fill="url(#sp1)"/>
<ellipse cx="123.58" cy="273.74" rx="3.05" ry="2.9" fill="url(#sp1)"/>
<ellipse cx="53.37" cy="287.42" rx="3.05" ry="2.9" fill="url(#sp1)"/>
<ellipse cx="59.27" cy="286.72" rx="3.05" ry="2.9" fill="url(#sp1)"/>
<ellipse cx="65.17" cy="286.01" rx="3.05" ry="2.9" fill="url(#sp1)"/>
<ellipse cx="71.07" cy="285.3" rx="3.05" ry="2.9" fill="url(#sp1)"/>
<ellipse cx="76.97" cy="284.59" rx="3.05" ry="2.9" fill="url(#sp1)"/>
<ellipse cx="82.87" cy="283.88" rx="3.05" ry="2.9" fill="url(#sp1)"/>
<ellipse cx="88.77" cy="283.18" rx="3.05" ry="2.9" fill="url(#sp1)"/>
<ellipse cx="94.67" cy="282.47" rx="3.05" ry="2.9" fill="url(#sp1)"/>
<ellipse cx="100.57" cy="281.76" rx="3.05" ry="2.9" fill="url(#sp1)"/>
<ellipse cx="106.47" cy="281.05" rx="3.05" ry="2.9" fill="url(#sp1)"/>
<ellipse cx="112.37" cy="280.34" rx="3.05" ry="2.9" fill="url(#sp1)"/>
<ellipse cx="118.27" cy="279.64" rx="3.05" ry="2.9" fill="url(#sp1)"/>
<ellipse cx="124.17" cy="278.93" rx="3.05" ry="2.9" fill="url(#sp1)"/>
<ellipse cx="53.96" cy="292.62" rx="3.05" ry="2.9" fill="url(#sp1)"/>
<ellipse cx="59.86" cy="291.91" rx="3.05" ry="2.9" fill="url(#sp1)"/>
<ellipse cx="65.76" cy="291.2" rx="3.05" ry="2.9" fill="url(#sp1)"/>
<ellipse cx="71.66" cy="290.49" rx="3.05" ry="2.9" fill="url(#sp1)"/>
<ellipse cx="77.56" cy="289.78" rx="3.05" ry="2.9" fill="url(#sp1)"/>
<ellipse cx="83.46" cy="289.08" rx="3.05" ry="2.9" fill="url(#sp1)"/>
<ellipse cx="89.36" cy="288.37" rx="3.05" ry="2.9" fill="url(#sp1)"/>
<ellipse cx="95.26" cy="287.66" rx="3.05" ry="2.9" fill="url(#sp1)"/>
<ellipse cx="101.16" cy="286.95" rx="3.05" ry="2.9" fill="url(#sp1)"/>
<ellipse cx="107.06" cy="286.24" rx="3.05" ry="2.9" fill="url(#sp1)"/>
<ellipse cx="112.96" cy="285.54" rx="3.05" ry="2.9" fill="url(#sp1)"/>
<ellipse cx="118.86" cy="284.83" rx="3.05" ry="2.9" fill="url(#sp1)"/>
<ellipse cx="124.76" cy="284.12" rx="3.05" ry="2.9" fill="url(#sp1)"/>
<ellipse cx="54.55" cy="297.81" rx="3.05" ry="2.9" fill="url(#sp1)"/>
<ellipse cx="60.45" cy="297.1" rx="3.05" ry="2.9" fill="url(#sp1)"/>
<ellipse cx="66.35" cy="296.39" rx="3.05" ry="2.9" fill="url(#sp1)"/>
<ellipse cx="72.25" cy="295.68" rx="3.05" ry="2.9" fill="url(#sp1)"/>
<ellipse cx="78.15" cy="294.98" rx="3.05" ry="2.9" fill="url(#sp1)"/>
<ellipse cx="84.05" cy="294.27" rx="3.05" ry="2.9" fill="url(#sp1)"/>
<ellipse cx="89.95" cy="293.56" rx="3.05" ry="2.9" fill="url(#sp1)"/>
<ellipse cx="95.85" cy="292.85" rx="3.05" ry="2.9" fill="url(#sp1)"/>
<ellipse cx="101.75" cy="292.14" rx="3.05" ry="2.9" fill="url(#sp1)"/>
<ellipse cx="107.65" cy="291.44" rx="3.05" ry="2.9" fill="url(#sp1)"/>
<ellipse cx="113.55" cy="290.73" rx="3.05" ry="2.9" fill="url(#sp1)"/>
<ellipse cx="119.45" cy="290.02" rx="3.05" ry="2.9" fill="url(#sp1)"/>
<ellipse cx="125.35" cy="289.31" rx="3.05" ry="2.9" fill="url(#sp1)"/>
<ellipse cx="55.14" cy="303" rx="3.05" ry="2.9" fill="url(#sp1)"/>
<ellipse cx="61.04" cy="302.29" rx="3.05" ry="2.9" fill="url(#sp1)"/>
<ellipse cx="66.94" cy="301.58" rx="3.05" ry="2.9" fill="url(#sp1)"/>
<ellipse cx="72.84" cy="300.88" rx="3.05" ry="2.9" fill="url(#sp1)"/>
<ellipse cx="78.74" cy="300.17" rx="3.05" ry="2.9" fill="url(#sp1)"/>
<ellipse cx="84.64" cy="299.46" rx="3.05" ry="2.9" fill="url(#sp1)"/>
<ellipse cx="90.54" cy="298.75" rx="3.05" ry="2.9" fill="url(#sp1)"/>
<ellipse cx="96.44" cy="298.04" rx="3.05" ry="2.9" fill="url(#sp1)"/>
<ellipse cx="102.34" cy="297.34" rx="3.05" ry="2.9" fill="url(#sp1)"/>
<ellipse cx="108.24" cy="296.63" rx="3.05" ry="2.9" fill="url(#sp1)"/>
<ellipse cx="114.14" cy="295.92" rx="3.05" ry="2.9" fill="url(#sp1)"/>
<ellipse cx="120.04" cy="295.21" rx="3.05" ry="2.9" fill="url(#sp1)"/>
<ellipse cx="125.94" cy="294.5" rx="3.05" ry="2.9" fill="url(#sp1)"/>
<ellipse cx="55.73" cy="308.19" rx="3.05" ry="2.9" fill="url(#sp1)"/>
<ellipse cx="61.63" cy="307.48" rx="3.05" ry="2.9" fill="url(#sp1)"/>
<ellipse cx="67.53" cy="306.78" rx="3.05" ry="2.9" fill="url(#sp1)"/>
<ellipse cx="73.43" cy="306.07" rx="3.05" ry="2.9" fill="url(#sp1)"/>
<ellipse cx="79.33" cy="305.36" rx="3.05" ry="2.9" fill="url(#sp1)"/>
<ellipse cx="85.23" cy="304.65" rx="3.05" ry="2.9" fill="url(#sp1)"/>
<ellipse cx="91.13" cy="303.94" rx="3.05" ry="2.9" fill="url(#sp1)"/>
<ellipse cx="97.03" cy="303.24" rx="3.05" ry="2.9" fill="url(#sp1)"/>
<ellipse cx="102.93" cy="302.53" rx="3.05" ry="2.9" fill="url(#sp1)"/>
<ellipse cx="108.83" cy="301.82" rx="3.05" ry="2.9" fill="url(#sp1)"/>
<ellipse cx="114.73" cy="301.11" rx="3.05" ry="2.9" fill="url(#sp1)"/>
<ellipse cx="120.63" cy="300.4" rx="3.05" ry="2.9" fill="url(#sp1)"/>
<ellipse cx="126.53" cy="299.7" rx="3.05" ry="2.9" fill="url(#sp1)"/>
<circle cx="50.71" cy="237.75" r="0.45" fill="#ffffff"/>
<circle cx="56.62" cy="237.04" r="0.45" fill="#ffffff"/>
<circle cx="62.51" cy="236.33" r="0.45" fill="#ffffff"/>
<circle cx="68.42" cy="235.62" r="0.45" fill="#ffffff"/>
<circle cx="74.32" cy="234.91" r="0.45" fill="#ffffff"/>
<circle cx="80.22" cy="234.21" r="0.45" fill="#ffffff"/>
<circle cx="86.12" cy="233.5" r="0.45" fill="#ffffff"/>
<circle cx="92.02" cy="232.79" r="0.45" fill="#ffffff"/>
<circle cx="97.92" cy="232.08" r="0.45" fill="#ffffff"/>
<circle cx="103.82" cy="231.37" r="0.45" fill="#ffffff"/>
<circle cx="109.72" cy="230.67" r="0.45" fill="#ffffff"/>
<circle cx="115.62" cy="229.96" r="0.45" fill="#ffffff"/>
<circle cx="121.52" cy="229.25" r="0.45" fill="#ffffff"/>
<circle cx="51.3" cy="242.94" r="0.45" fill="#ffffff"/>
<circle cx="57.21" cy="242.23" r="0.45" fill="#ffffff"/>
<circle cx="63.1" cy="241.52" r="0.45" fill="#ffffff"/>
<circle cx="69" cy="240.81" r="0.45" fill="#ffffff"/>
<circle cx="74.91" cy="240.11" r="0.45" fill="#ffffff"/>
<circle cx="80.8" cy="239.4" r="0.45" fill="#ffffff"/>
<circle cx="86.7" cy="238.69" r="0.45" fill="#ffffff"/>
<circle cx="92.6" cy="237.98" r="0.45" fill="#ffffff"/>
<circle cx="98.5" cy="237.27" r="0.45" fill="#ffffff"/>
<circle cx="104.41" cy="236.57" r="0.45" fill="#ffffff"/>
<circle cx="110.3" cy="235.86" r="0.45" fill="#ffffff"/>
<circle cx="116.2" cy="235.15" r="0.45" fill="#ffffff"/>
<circle cx="122.1" cy="234.44" r="0.45" fill="#ffffff"/>
<circle cx="51.89" cy="248.13" r="0.45" fill="#ffffff"/>
<circle cx="57.8" cy="247.42" r="0.45" fill="#ffffff"/>
<circle cx="63.69" cy="246.71" r="0.45" fill="#ffffff"/>
<circle cx="69.59" cy="246.01" r="0.45" fill="#ffffff"/>
<circle cx="75.5" cy="245.3" r="0.45" fill="#ffffff"/>
<circle cx="81.39" cy="244.59" r="0.45" fill="#ffffff"/>
<circle cx="87.3" cy="243.88" r="0.45" fill="#ffffff"/>
<circle cx="93.19" cy="243.17" r="0.45" fill="#ffffff"/>
<circle cx="99.09" cy="242.47" r="0.45" fill="#ffffff"/>
<circle cx="105" cy="241.76" r="0.45" fill="#ffffff"/>
<circle cx="110.89" cy="241.05" r="0.45" fill="#ffffff"/>
<circle cx="116.8" cy="240.34" r="0.45" fill="#ffffff"/>
<circle cx="122.69" cy="239.63" r="0.45" fill="#ffffff"/>
<circle cx="52.48" cy="253.32" r="0.45" fill="#ffffff"/>
<circle cx="58.39" cy="252.61" r="0.45" fill="#ffffff"/>
<circle cx="64.28" cy="251.91" r="0.45" fill="#ffffff"/>
<circle cx="70.19" cy="251.2" r="0.45" fill="#ffffff"/>
<circle cx="76.09" cy="250.49" r="0.45" fill="#ffffff"/>
<circle cx="81.98" cy="249.78" r="0.45" fill="#ffffff"/>
<circle cx="87.89" cy="249.07" r="0.45" fill="#ffffff"/>
<circle cx="93.78" cy="248.37" r="0.45" fill="#ffffff"/>
<circle cx="99.69" cy="247.66" r="0.45" fill="#ffffff"/>
<circle cx="105.59" cy="246.95" r="0.45" fill="#ffffff"/>
<circle cx="111.48" cy="246.24" r="0.45" fill="#ffffff"/>
<circle cx="117.39" cy="245.53" r="0.45" fill="#ffffff"/>
<circle cx="123.28" cy="244.83" r="0.45" fill="#ffffff"/>
<circle cx="53.07" cy="258.51" r="0.45" fill="#ffffff"/>
<circle cx="58.98" cy="257.81" r="0.45" fill="#ffffff"/>
<circle cx="64.88" cy="257.1" r="0.45" fill="#ffffff"/>
<circle cx="70.78" cy="256.39" r="0.45" fill="#ffffff"/>
<circle cx="76.68" cy="255.68" r="0.45" fill="#ffffff"/>
<circle cx="82.58" cy="254.97" r="0.45" fill="#ffffff"/>
<circle cx="88.48" cy="254.27" r="0.45" fill="#ffffff"/>
<circle cx="94.38" cy="253.56" r="0.45" fill="#ffffff"/>
<circle cx="100.28" cy="252.85" r="0.45" fill="#ffffff"/>
<circle cx="106.18" cy="252.14" r="0.45" fill="#ffffff"/>
<circle cx="112.08" cy="251.43" r="0.45" fill="#ffffff"/>
<circle cx="117.98" cy="250.73" r="0.45" fill="#ffffff"/>
<circle cx="123.88" cy="250.02" r="0.45" fill="#ffffff"/>
<circle cx="53.66" cy="263.71" r="0.45" fill="#ffffff"/>
<circle cx="59.57" cy="263" r="0.45" fill="#ffffff"/>
<circle cx="65.46" cy="262.29" r="0.45" fill="#ffffff"/>
<circle cx="71.36" cy="261.58" r="0.45" fill="#ffffff"/>
<circle cx="77.27" cy="260.87" r="0.45" fill="#ffffff"/>
<circle cx="83.16" cy="260.17" r="0.45" fill="#ffffff"/>
<circle cx="89.06" cy="259.46" r="0.45" fill="#ffffff"/>
<circle cx="94.96" cy="258.75" r="0.45" fill="#ffffff"/>
<circle cx="100.86" cy="258.04" r="0.45" fill="#ffffff"/>
<circle cx="106.77" cy="257.33" r="0.45" fill="#ffffff"/>
<circle cx="112.66" cy="256.63" r="0.45" fill="#ffffff"/>
<circle cx="118.56" cy="255.92" r="0.45" fill="#ffffff"/>
<circle cx="124.46" cy="255.21" r="0.45" fill="#ffffff"/>
<circle cx="54.25" cy="268.9" r="0.45" fill="#ffffff"/>
<circle cx="60.16" cy="268.19" r="0.45" fill="#ffffff"/>
<circle cx="66.05" cy="267.48" r="0.45" fill="#ffffff"/>
<circle cx="71.95" cy="266.77" r="0.45" fill="#ffffff"/>
<circle cx="77.86" cy="266.07" r="0.45" fill="#ffffff"/>
<circle cx="83.75" cy="265.36" r="0.45" fill="#ffffff"/>
<circle cx="89.66" cy="264.65" r="0.45" fill="#ffffff"/>
<circle cx="95.55" cy="263.94" r="0.45" fill="#ffffff"/>
<circle cx="101.45" cy="263.23" r="0.45" fill="#ffffff"/>
<circle cx="107.36" cy="262.53" r="0.45" fill="#ffffff"/>
<circle cx="113.25" cy="261.82" r="0.45" fill="#ffffff"/>
<circle cx="119.16" cy="261.11" r="0.45" fill="#ffffff"/>
<circle cx="125.05" cy="260.4" r="0.45" fill="#ffffff"/>
<circle cx="54.84" cy="274.09" r="0.45" fill="#ffffff"/>
<circle cx="60.75" cy="273.38" r="0.45" fill="#ffffff"/>
<circle cx="66.64" cy="272.67" r="0.45" fill="#ffffff"/>
<circle cx="72.55" cy="271.97" r="0.45" fill="#ffffff"/>
<circle cx="78.45" cy="271.26" r="0.45" fill="#ffffff"/>
<circle cx="84.34" cy="270.55" r="0.45" fill="#ffffff"/>
<circle cx="90.25" cy="269.84" r="0.45" fill="#ffffff"/>
<circle cx="96.14" cy="269.13" r="0.45" fill="#ffffff"/>
<circle cx="102.05" cy="268.43" r="0.45" fill="#ffffff"/>
<circle cx="107.95" cy="267.72" r="0.45" fill="#ffffff"/>
<circle cx="113.84" cy="267.01" r="0.45" fill="#ffffff"/>
<circle cx="119.75" cy="266.3" r="0.45" fill="#ffffff"/>
<circle cx="125.64" cy="265.59" r="0.45" fill="#ffffff"/>
<circle cx="55.43" cy="279.28" r="0.45" fill="#ffffff"/>
<circle cx="61.34" cy="278.57" r="0.45" fill="#ffffff"/>
<circle cx="67.23" cy="277.87" r="0.45" fill="#ffffff"/>
<circle cx="73.14" cy="277.16" r="0.45" fill="#ffffff"/>
<circle cx="79.04" cy="276.45" r="0.45" fill="#ffffff"/>
<circle cx="84.94" cy="275.74" r="0.45" fill="#ffffff"/>
<circle cx="90.84" cy="275.03" r="0.45" fill="#ffffff"/>
<circle cx="96.73" cy="274.33" r="0.45" fill="#ffffff"/>
<circle cx="102.64" cy="273.62" r="0.45" fill="#ffffff"/>
<circle cx="108.54" cy="272.91" r="0.45" fill="#ffffff"/>
<circle cx="114.44" cy="272.2" r="0.45" fill="#ffffff"/>
<circle cx="120.34" cy="271.49" r="0.45" fill="#ffffff"/>
<circle cx="126.23" cy="270.79" r="0.45" fill="#ffffff"/>
<circle cx="56.02" cy="284.47" r="0.45" fill="#ffffff"/>
<circle cx="61.93" cy="283.77" r="0.45" fill="#ffffff"/>
<circle cx="67.82" cy="283.06" r="0.45" fill="#ffffff"/>
<circle cx="73.72" cy="282.35" r="0.45" fill="#ffffff"/>
<circle cx="79.62" cy="281.64" r="0.45" fill="#ffffff"/>
<circle cx="85.52" cy="280.93" r="0.45" fill="#ffffff"/>
<circle cx="91.42" cy="280.23" r="0.45" fill="#ffffff"/>
<circle cx="97.32" cy="279.52" r="0.45" fill="#ffffff"/>
<circle cx="103.22" cy="278.81" r="0.45" fill="#ffffff"/>
<circle cx="109.12" cy="278.1" r="0.45" fill="#ffffff"/>
<circle cx="115.02" cy="277.39" r="0.45" fill="#ffffff"/>
<circle cx="120.92" cy="276.69" r="0.45" fill="#ffffff"/>
<circle cx="126.82" cy="275.98" r="0.45" fill="#ffffff"/>
<circle cx="56.61" cy="289.67" r="0.45" fill="#ffffff"/>
<circle cx="62.52" cy="288.96" r="0.45" fill="#ffffff"/>
<circle cx="68.41" cy="288.25" r="0.45" fill="#ffffff"/>
<circle cx="74.31" cy="287.54" r="0.45" fill="#ffffff"/>
<circle cx="80.22" cy="286.83" r="0.45" fill="#ffffff"/>
<circle cx="86.11" cy="286.13" r="0.45" fill="#ffffff"/>
<circle cx="92.02" cy="285.42" r="0.45" fill="#ffffff"/>
<circle cx="97.91" cy="284.71" r="0.45" fill="#ffffff"/>
<circle cx="103.81" cy="284" r="0.45" fill="#ffffff"/>
<circle cx="109.72" cy="283.29" r="0.45" fill="#ffffff"/>
<circle cx="115.61" cy="282.59" r="0.45" fill="#ffffff"/>
<circle cx="121.52" cy="281.88" r="0.45" fill="#ffffff"/>
<circle cx="127.41" cy="281.17" r="0.45" fill="#ffffff"/>
<circle cx="57.2" cy="294.86" r="0.45" fill="#ffffff"/>
<circle cx="63.11" cy="294.15" r="0.45" fill="#ffffff"/>
<circle cx="69" cy="293.44" r="0.45" fill="#ffffff"/>
<circle cx="74.91" cy="292.73" r="0.45" fill="#ffffff"/>
<circle cx="80.81" cy="292.03" r="0.45" fill="#ffffff"/>
<circle cx="86.7" cy="291.32" r="0.45" fill="#ffffff"/>
<circle cx="92.61" cy="290.61" r="0.45" fill="#ffffff"/>
<circle cx="98.5" cy="289.9" r="0.45" fill="#ffffff"/>
<circle cx="104.41" cy="289.19" r="0.45" fill="#ffffff"/>
<circle cx="110.31" cy="288.49" r="0.45" fill="#ffffff"/>
<circle cx="116.2" cy="287.78" r="0.45" fill="#ffffff"/>
<circle cx="122.11" cy="287.07" r="0.45" fill="#ffffff"/>
<circle cx="128" cy="286.36" r="0.45" fill="#ffffff"/>
<circle cx="57.79" cy="300.05" r="0.45" fill="#ffffff"/>
<circle cx="63.7" cy="299.34" r="0.45" fill="#ffffff"/>
<circle cx="69.59" cy="298.63" r="0.45" fill="#ffffff"/>
<circle cx="75.5" cy="297.93" r="0.45" fill="#ffffff"/>
<circle cx="81.4" cy="297.22" r="0.45" fill="#ffffff"/>
<circle cx="87.3" cy="296.51" r="0.45" fill="#ffffff"/>
<circle cx="93.2" cy="295.8" r="0.45" fill="#ffffff"/>
<circle cx="99.09" cy="295.09" r="0.45" fill="#ffffff"/>
<circle cx="105" cy="294.39" r="0.45" fill="#ffffff"/>
<circle cx="110.9" cy="293.68" r="0.45" fill="#ffffff"/>
<circle cx="116.8" cy="292.97" r="0.45" fill="#ffffff"/>
<circle cx="122.7" cy="292.26" r="0.45" fill="#ffffff"/>
<circle cx="128.59" cy="291.55" r="0.45" fill="#ffffff"/>
<circle cx="58.38" cy="305.24" r="0.45" fill="#ffffff"/>
<circle cx="64.28" cy="304.53" r="0.45" fill="#ffffff"/>
<circle cx="70.18" cy="303.83" r="0.45" fill="#ffffff"/>
<circle cx="76.08" cy="303.12" r="0.45" fill="#ffffff"/>
<circle cx="81.98" cy="302.41" r="0.45" fill="#ffffff"/>
<circle cx="87.88" cy="301.7" r="0.45" fill="#ffffff"/>
<circle cx="93.78" cy="300.99" r="0.45" fill="#ffffff"/>
<circle cx="99.68" cy="300.29" r="0.45" fill="#ffffff"/>
<circle cx="105.58" cy="299.58" r="0.45" fill="#ffffff"/>
<circle cx="111.48" cy="298.87" r="0.45" fill="#ffffff"/>
<circle cx="117.38" cy="298.16" r="0.45" fill="#ffffff"/>
<circle cx="123.28" cy="297.45" r="0.45" fill="#ffffff"/>
<circle cx="129.19" cy="296.75" r="0.45" fill="#ffffff"/>
<circle cx="58.97" cy="310.43" r="0.45" fill="#ffffff"/>
<circle cx="64.88" cy="309.73" r="0.45" fill="#ffffff"/>
<circle cx="70.77" cy="309.02" r="0.45" fill="#ffffff"/>
<circle cx="76.67" cy="308.31" r="0.45" fill="#ffffff"/>
<circle cx="82.58" cy="307.6" r="0.45" fill="#ffffff"/>
<circle cx="88.47" cy="306.89" r="0.45" fill="#ffffff"/>
<circle cx="94.38" cy="306.19" r="0.45" fill="#ffffff"/>
<circle cx="100.27" cy="305.48" r="0.45" fill="#ffffff"/>
<circle cx="106.17" cy="304.77" r="0.45" fill="#ffffff"/>
<circle cx="112.08" cy="304.06" r="0.45" fill="#ffffff"/>
<circle cx="117.97" cy="303.35" r="0.45" fill="#ffffff"/>
<circle cx="123.88" cy="302.65" r="0.45" fill="#ffffff"/>
<circle cx="129.78" cy="301.94" r="0.45" fill="#ffffff"/>
</g>
<circle cx="87" cy="267.6" r="17.9" fill="none" stroke="#e0303a" stroke-width="0.9" stroke-dasharray="2,1"/>
<clipPath id="cpa2"><circle cx="134.1" cy="266.8" r="17.6"/></clipPath>
<g clip-path="url(#cpa2)">
<circle cx="134.1" cy="266.8" r="17.6" fill="#3a3020" stroke="none" stroke-width="1" />
<ellipse cx="93.78" cy="233.1" rx="3.75" ry="3.56" fill="url(#sp1)"/>
<ellipse cx="100.98" cy="232.24" rx="3.75" ry="3.56" fill="url(#sp1)"/>
<ellipse cx="108.18" cy="231.38" rx="3.75" ry="3.56" fill="url(#sp1)"/>
<ellipse cx="115.38" cy="230.51" rx="3.75" ry="3.56" fill="url(#sp1)"/>
<ellipse cx="122.58" cy="229.65" rx="3.75" ry="3.56" fill="url(#sp1)"/>
<ellipse cx="129.78" cy="228.78" rx="3.75" ry="3.56" fill="url(#sp1)"/>
<ellipse cx="136.98" cy="227.92" rx="3.75" ry="3.56" fill="url(#sp1)"/>
<ellipse cx="144.18" cy="227.06" rx="3.75" ry="3.56" fill="url(#sp1)"/>
<ellipse cx="151.38" cy="226.19" rx="3.75" ry="3.56" fill="url(#sp1)"/>
<ellipse cx="158.58" cy="225.33" rx="3.75" ry="3.56" fill="url(#sp1)"/>
<ellipse cx="165.78" cy="224.46" rx="3.75" ry="3.56" fill="url(#sp1)"/>
<ellipse cx="94.5" cy="239.44" rx="3.75" ry="3.56" fill="url(#sp1)"/>
<ellipse cx="101.7" cy="238.58" rx="3.75" ry="3.56" fill="url(#sp1)"/>
<ellipse cx="108.9" cy="237.71" rx="3.75" ry="3.56" fill="url(#sp1)"/>
<ellipse cx="116.1" cy="236.85" rx="3.75" ry="3.56" fill="url(#sp1)"/>
<ellipse cx="123.3" cy="235.98" rx="3.75" ry="3.56" fill="url(#sp1)"/>
<ellipse cx="130.5" cy="235.12" rx="3.75" ry="3.56" fill="url(#sp1)"/>
<ellipse cx="137.7" cy="234.26" rx="3.75" ry="3.56" fill="url(#sp1)"/>
<ellipse cx="144.9" cy="233.39" rx="3.75" ry="3.56" fill="url(#sp1)"/>
<ellipse cx="152.1" cy="232.53" rx="3.75" ry="3.56" fill="url(#sp1)"/>
<ellipse cx="159.3" cy="231.66" rx="3.75" ry="3.56" fill="url(#sp1)"/>
<ellipse cx="166.5" cy="230.8" rx="3.75" ry="3.56" fill="url(#sp1)"/>
<ellipse cx="95.22" cy="245.78" rx="3.75" ry="3.56" fill="url(#sp1)"/>
<ellipse cx="102.42" cy="244.91" rx="3.75" ry="3.56" fill="url(#sp1)"/>
<ellipse cx="109.62" cy="244.05" rx="3.75" ry="3.56" fill="url(#sp1)"/>
<ellipse cx="116.82" cy="243.18" rx="3.75" ry="3.56" fill="url(#sp1)"/>
<ellipse cx="124.02" cy="242.32" rx="3.75" ry="3.56" fill="url(#sp1)"/>
<ellipse cx="131.22" cy="241.46" rx="3.75" ry="3.56" fill="url(#sp1)"/>
<ellipse cx="138.42" cy="240.59" rx="3.75" ry="3.56" fill="url(#sp1)"/>
<ellipse cx="145.62" cy="239.73" rx="3.75" ry="3.56" fill="url(#sp1)"/>
<ellipse cx="152.82" cy="238.86" rx="3.75" ry="3.56" fill="url(#sp1)"/>
<ellipse cx="160.02" cy="238" rx="3.75" ry="3.56" fill="url(#sp1)"/>
<ellipse cx="167.22" cy="237.14" rx="3.75" ry="3.56" fill="url(#sp1)"/>
<ellipse cx="95.94" cy="252.11" rx="3.75" ry="3.56" fill="url(#sp1)"/>
<ellipse cx="103.14" cy="251.25" rx="3.75" ry="3.56" fill="url(#sp1)"/>
<ellipse cx="110.34" cy="250.38" rx="3.75" ry="3.56" fill="url(#sp1)"/>
<ellipse cx="117.54" cy="249.52" rx="3.75" ry="3.56" fill="url(#sp1)"/>
<ellipse cx="124.74" cy="248.66" rx="3.75" ry="3.56" fill="url(#sp1)"/>
<ellipse cx="131.94" cy="247.79" rx="3.75" ry="3.56" fill="url(#sp1)"/>
<ellipse cx="139.14" cy="246.93" rx="3.75" ry="3.56" fill="url(#sp1)"/>
<ellipse cx="146.34" cy="246.06" rx="3.75" ry="3.56" fill="url(#sp1)"/>
<ellipse cx="153.54" cy="245.2" rx="3.75" ry="3.56" fill="url(#sp1)"/>
<ellipse cx="160.74" cy="244.34" rx="3.75" ry="3.56" fill="url(#sp1)"/>
<ellipse cx="167.94" cy="243.47" rx="3.75" ry="3.56" fill="url(#sp1)"/>
<ellipse cx="96.66" cy="258.45" rx="3.75" ry="3.56" fill="url(#sp1)"/>
<ellipse cx="103.86" cy="257.58" rx="3.75" ry="3.56" fill="url(#sp1)"/>
<ellipse cx="111.06" cy="256.72" rx="3.75" ry="3.56" fill="url(#sp1)"/>
<ellipse cx="118.26" cy="255.86" rx="3.75" ry="3.56" fill="url(#sp1)"/>
<ellipse cx="125.46" cy="254.99" rx="3.75" ry="3.56" fill="url(#sp1)"/>
<ellipse cx="132.66" cy="254.13" rx="3.75" ry="3.56" fill="url(#sp1)"/>
<ellipse cx="139.86" cy="253.26" rx="3.75" ry="3.56" fill="url(#sp1)"/>
<ellipse cx="147.06" cy="252.4" rx="3.75" ry="3.56" fill="url(#sp1)"/>
<ellipse cx="154.26" cy="251.54" rx="3.75" ry="3.56" fill="url(#sp1)"/>
<ellipse cx="161.46" cy="250.67" rx="3.75" ry="3.56" fill="url(#sp1)"/>
<ellipse cx="168.66" cy="249.81" rx="3.75" ry="3.56" fill="url(#sp1)"/>
<ellipse cx="97.38" cy="264.78" rx="3.75" ry="3.56" fill="url(#sp1)"/>
<ellipse cx="104.58" cy="263.92" rx="3.75" ry="3.56" fill="url(#sp1)"/>
<ellipse cx="111.78" cy="263.06" rx="3.75" ry="3.56" fill="url(#sp1)"/>
<ellipse cx="118.98" cy="262.19" rx="3.75" ry="3.56" fill="url(#sp1)"/>
<ellipse cx="126.18" cy="261.33" rx="3.75" ry="3.56" fill="url(#sp1)"/>
<ellipse cx="133.38" cy="260.46" rx="3.75" ry="3.56" fill="url(#sp1)"/>
<ellipse cx="140.58" cy="259.6" rx="3.75" ry="3.56" fill="url(#sp1)"/>
<ellipse cx="147.78" cy="258.74" rx="3.75" ry="3.56" fill="url(#sp1)"/>
<ellipse cx="154.98" cy="257.87" rx="3.75" ry="3.56" fill="url(#sp1)"/>
<ellipse cx="162.18" cy="257.01" rx="3.75" ry="3.56" fill="url(#sp1)"/>
<ellipse cx="169.38" cy="256.14" rx="3.75" ry="3.56" fill="url(#sp1)"/>
<ellipse cx="98.1" cy="271.12" rx="3.75" ry="3.56" fill="url(#sp1)"/>
<ellipse cx="105.3" cy="270.26" rx="3.75" ry="3.56" fill="url(#sp1)"/>
<ellipse cx="112.5" cy="269.39" rx="3.75" ry="3.56" fill="url(#sp1)"/>
<ellipse cx="119.7" cy="268.53" rx="3.75" ry="3.56" fill="url(#sp1)"/>
<ellipse cx="126.9" cy="267.66" rx="3.75" ry="3.56" fill="url(#sp1)"/>
<ellipse cx="134.1" cy="266.8" rx="3.75" ry="3.56" fill="url(#sp1)"/>
<ellipse cx="141.3" cy="265.94" rx="3.75" ry="3.56" fill="url(#sp1)"/>
<ellipse cx="148.5" cy="265.07" rx="3.75" ry="3.56" fill="url(#sp1)"/>
<ellipse cx="155.7" cy="264.21" rx="3.75" ry="3.56" fill="url(#sp1)"/>
<ellipse cx="162.9" cy="263.34" rx="3.75" ry="3.56" fill="url(#sp1)"/>
<ellipse cx="170.1" cy="262.48" rx="3.75" ry="3.56" fill="url(#sp1)"/>
<ellipse cx="98.82" cy="277.46" rx="3.75" ry="3.56" fill="url(#sp1)"/>
<ellipse cx="106.02" cy="276.59" rx="3.75" ry="3.56" fill="url(#sp1)"/>
<ellipse cx="113.22" cy="275.73" rx="3.75" ry="3.56" fill="url(#sp1)"/>
<ellipse cx="120.42" cy="274.86" rx="3.75" ry="3.56" fill="url(#sp1)"/>
<ellipse cx="127.62" cy="274" rx="3.75" ry="3.56" fill="url(#sp1)"/>
<ellipse cx="134.82" cy="273.14" rx="3.75" ry="3.56" fill="url(#sp1)"/>
<ellipse cx="142.02" cy="272.27" rx="3.75" ry="3.56" fill="url(#sp1)"/>
<ellipse cx="149.22" cy="271.41" rx="3.75" ry="3.56" fill="url(#sp1)"/>
<ellipse cx="156.42" cy="270.54" rx="3.75" ry="3.56" fill="url(#sp1)"/>
<ellipse cx="163.62" cy="269.68" rx="3.75" ry="3.56" fill="url(#sp1)"/>
<ellipse cx="170.82" cy="268.82" rx="3.75" ry="3.56" fill="url(#sp1)"/>
<ellipse cx="99.54" cy="283.79" rx="3.75" ry="3.56" fill="url(#sp1)"/>
<ellipse cx="106.74" cy="282.93" rx="3.75" ry="3.56" fill="url(#sp1)"/>
<ellipse cx="113.94" cy="282.06" rx="3.75" ry="3.56" fill="url(#sp1)"/>
<ellipse cx="121.14" cy="281.2" rx="3.75" ry="3.56" fill="url(#sp1)"/>
<ellipse cx="128.34" cy="280.34" rx="3.75" ry="3.56" fill="url(#sp1)"/>
<ellipse cx="135.54" cy="279.47" rx="3.75" ry="3.56" fill="url(#sp1)"/>
<ellipse cx="142.74" cy="278.61" rx="3.75" ry="3.56" fill="url(#sp1)"/>
<ellipse cx="149.94" cy="277.74" rx="3.75" ry="3.56" fill="url(#sp1)"/>
<ellipse cx="157.14" cy="276.88" rx="3.75" ry="3.56" fill="url(#sp1)"/>
<ellipse cx="164.34" cy="276.02" rx="3.75" ry="3.56" fill="url(#sp1)"/>
<ellipse cx="171.54" cy="275.15" rx="3.75" ry="3.56" fill="url(#sp1)"/>
<ellipse cx="100.26" cy="290.13" rx="3.75" ry="3.56" fill="url(#sp1)"/>
<ellipse cx="107.46" cy="289.26" rx="3.75" ry="3.56" fill="url(#sp1)"/>
<ellipse cx="114.66" cy="288.4" rx="3.75" ry="3.56" fill="url(#sp1)"/>
<ellipse cx="121.86" cy="287.54" rx="3.75" ry="3.56" fill="url(#sp1)"/>
<ellipse cx="129.06" cy="286.67" rx="3.75" ry="3.56" fill="url(#sp1)"/>
<ellipse cx="136.26" cy="285.81" rx="3.75" ry="3.56" fill="url(#sp1)"/>
<ellipse cx="143.46" cy="284.94" rx="3.75" ry="3.56" fill="url(#sp1)"/>
<ellipse cx="150.66" cy="284.08" rx="3.75" ry="3.56" fill="url(#sp1)"/>
<ellipse cx="157.86" cy="283.22" rx="3.75" ry="3.56" fill="url(#sp1)"/>
<ellipse cx="165.06" cy="282.35" rx="3.75" ry="3.56" fill="url(#sp1)"/>
<ellipse cx="172.26" cy="281.49" rx="3.75" ry="3.56" fill="url(#sp1)"/>
<ellipse cx="100.98" cy="296.46" rx="3.75" ry="3.56" fill="url(#sp1)"/>
<ellipse cx="108.18" cy="295.6" rx="3.75" ry="3.56" fill="url(#sp1)"/>
<ellipse cx="115.38" cy="294.74" rx="3.75" ry="3.56" fill="url(#sp1)"/>
<ellipse cx="122.58" cy="293.87" rx="3.75" ry="3.56" fill="url(#sp1)"/>
<ellipse cx="129.78" cy="293.01" rx="3.75" ry="3.56" fill="url(#sp1)"/>
<ellipse cx="136.98" cy="292.14" rx="3.75" ry="3.56" fill="url(#sp1)"/>
<ellipse cx="144.18" cy="291.28" rx="3.75" ry="3.56" fill="url(#sp1)"/>
<ellipse cx="151.38" cy="290.42" rx="3.75" ry="3.56" fill="url(#sp1)"/>
<ellipse cx="158.58" cy="289.55" rx="3.75" ry="3.56" fill="url(#sp1)"/>
<ellipse cx="165.78" cy="288.69" rx="3.75" ry="3.56" fill="url(#sp1)"/>
<ellipse cx="172.98" cy="287.82" rx="3.75" ry="3.56" fill="url(#sp1)"/>
<ellipse cx="101.7" cy="302.8" rx="3.75" ry="3.56" fill="url(#sp1)"/>
<ellipse cx="108.9" cy="301.94" rx="3.75" ry="3.56" fill="url(#sp1)"/>
<ellipse cx="116.1" cy="301.07" rx="3.75" ry="3.56" fill="url(#sp1)"/>
<ellipse cx="123.3" cy="300.21" rx="3.75" ry="3.56" fill="url(#sp1)"/>
<ellipse cx="130.5" cy="299.34" rx="3.75" ry="3.56" fill="url(#sp1)"/>
<ellipse cx="137.7" cy="298.48" rx="3.75" ry="3.56" fill="url(#sp1)"/>
<ellipse cx="144.9" cy="297.62" rx="3.75" ry="3.56" fill="url(#sp1)"/>
<ellipse cx="152.1" cy="296.75" rx="3.75" ry="3.56" fill="url(#sp1)"/>
<ellipse cx="159.3" cy="295.89" rx="3.75" ry="3.56" fill="url(#sp1)"/>
<ellipse cx="166.5" cy="295.02" rx="3.75" ry="3.56" fill="url(#sp1)"/>
<ellipse cx="173.7" cy="294.16" rx="3.75" ry="3.56" fill="url(#sp1)"/>
<ellipse cx="102.42" cy="309.14" rx="3.75" ry="3.56" fill="url(#sp1)"/>
<ellipse cx="109.62" cy="308.27" rx="3.75" ry="3.56" fill="url(#sp1)"/>
<ellipse cx="116.82" cy="307.41" rx="3.75" ry="3.56" fill="url(#sp1)"/>
<ellipse cx="124.02" cy="306.54" rx="3.75" ry="3.56" fill="url(#sp1)"/>
<ellipse cx="131.22" cy="305.68" rx="3.75" ry="3.56" fill="url(#sp1)"/>
<ellipse cx="138.42" cy="304.82" rx="3.75" ry="3.56" fill="url(#sp1)"/>
<ellipse cx="145.62" cy="303.95" rx="3.75" ry="3.56" fill="url(#sp1)"/>
<ellipse cx="152.82" cy="303.09" rx="3.75" ry="3.56" fill="url(#sp1)"/>
<ellipse cx="160.02" cy="302.22" rx="3.75" ry="3.56" fill="url(#sp1)"/>
<ellipse cx="167.22" cy="301.36" rx="3.75" ry="3.56" fill="url(#sp1)"/>
<ellipse cx="174.42" cy="300.5" rx="3.75" ry="3.56" fill="url(#sp1)"/>
<circle cx="97.74" cy="235.84" r="0.5" fill="#ffffff"/>
<circle cx="104.94" cy="234.98" r="0.5" fill="#ffffff"/>
<circle cx="112.14" cy="234.11" r="0.5" fill="#ffffff"/>
<circle cx="119.34" cy="233.25" r="0.5" fill="#ffffff"/>
<circle cx="126.54" cy="232.38" r="0.5" fill="#ffffff"/>
<circle cx="133.74" cy="231.52" r="0.5" fill="#ffffff"/>
<circle cx="140.94" cy="230.66" r="0.5" fill="#ffffff"/>
<circle cx="148.14" cy="229.79" r="0.5" fill="#ffffff"/>
<circle cx="155.34" cy="228.93" r="0.5" fill="#ffffff"/>
<circle cx="162.54" cy="228.06" r="0.5" fill="#ffffff"/>
<circle cx="169.74" cy="227.2" r="0.5" fill="#ffffff"/>
<circle cx="98.46" cy="242.18" r="0.5" fill="#ffffff"/>
<circle cx="105.66" cy="241.31" r="0.5" fill="#ffffff"/>
<circle cx="112.86" cy="240.45" r="0.5" fill="#ffffff"/>
<circle cx="120.06" cy="239.58" r="0.5" fill="#ffffff"/>
<circle cx="127.26" cy="238.72" r="0.5" fill="#ffffff"/>
<circle cx="134.46" cy="237.86" r="0.5" fill="#ffffff"/>
<circle cx="141.66" cy="236.99" r="0.5" fill="#ffffff"/>
<circle cx="148.86" cy="236.13" r="0.5" fill="#ffffff"/>
<circle cx="156.06" cy="235.26" r="0.5" fill="#ffffff"/>
<circle cx="163.26" cy="234.4" r="0.5" fill="#ffffff"/>
<circle cx="170.46" cy="233.54" r="0.5" fill="#ffffff"/>
<circle cx="99.18" cy="248.51" r="0.5" fill="#ffffff"/>
<circle cx="106.38" cy="247.65" r="0.5" fill="#ffffff"/>
<circle cx="113.58" cy="246.78" r="0.5" fill="#ffffff"/>
<circle cx="120.78" cy="245.92" r="0.5" fill="#ffffff"/>
<circle cx="127.98" cy="245.06" r="0.5" fill="#ffffff"/>
<circle cx="135.18" cy="244.19" r="0.5" fill="#ffffff"/>
<circle cx="142.38" cy="243.33" r="0.5" fill="#ffffff"/>
<circle cx="149.58" cy="242.46" r="0.5" fill="#ffffff"/>
<circle cx="156.78" cy="241.6" r="0.5" fill="#ffffff"/>
<circle cx="163.98" cy="240.74" r="0.5" fill="#ffffff"/>
<circle cx="171.18" cy="239.87" r="0.5" fill="#ffffff"/>
<circle cx="99.9" cy="254.85" r="0.5" fill="#ffffff"/>
<circle cx="107.1" cy="253.98" r="0.5" fill="#ffffff"/>
<circle cx="114.3" cy="253.12" r="0.5" fill="#ffffff"/>
<circle cx="121.5" cy="252.26" r="0.5" fill="#ffffff"/>
<circle cx="128.7" cy="251.39" r="0.5" fill="#ffffff"/>
<circle cx="135.9" cy="250.53" r="0.5" fill="#ffffff"/>
<circle cx="143.1" cy="249.66" r="0.5" fill="#ffffff"/>
<circle cx="150.3" cy="248.8" r="0.5" fill="#ffffff"/>
<circle cx="157.5" cy="247.94" r="0.5" fill="#ffffff"/>
<circle cx="164.7" cy="247.07" r="0.5" fill="#ffffff"/>
<circle cx="171.9" cy="246.21" r="0.5" fill="#ffffff"/>
<circle cx="100.62" cy="261.18" r="0.5" fill="#ffffff"/>
<circle cx="107.82" cy="260.32" r="0.5" fill="#ffffff"/>
<circle cx="115.02" cy="259.46" r="0.5" fill="#ffffff"/>
<circle cx="122.22" cy="258.59" r="0.5" fill="#ffffff"/>
<circle cx="129.42" cy="257.73" r="0.5" fill="#ffffff"/>
<circle cx="136.62" cy="256.86" r="0.5" fill="#ffffff"/>
<circle cx="143.82" cy="256" r="0.5" fill="#ffffff"/>
<circle cx="151.02" cy="255.14" r="0.5" fill="#ffffff"/>
<circle cx="158.22" cy="254.27" r="0.5" fill="#ffffff"/>
<circle cx="165.42" cy="253.41" r="0.5" fill="#ffffff"/>
<circle cx="172.62" cy="252.54" r="0.5" fill="#ffffff"/>
<circle cx="101.34" cy="267.52" r="0.5" fill="#ffffff"/>
<circle cx="108.54" cy="266.66" r="0.5" fill="#ffffff"/>
<circle cx="115.74" cy="265.79" r="0.5" fill="#ffffff"/>
<circle cx="122.94" cy="264.93" r="0.5" fill="#ffffff"/>
<circle cx="130.14" cy="264.06" r="0.5" fill="#ffffff"/>
<circle cx="137.34" cy="263.2" r="0.5" fill="#ffffff"/>
<circle cx="144.54" cy="262.34" r="0.5" fill="#ffffff"/>
<circle cx="151.74" cy="261.47" r="0.5" fill="#ffffff"/>
<circle cx="158.94" cy="260.61" r="0.5" fill="#ffffff"/>
<circle cx="166.14" cy="259.74" r="0.5" fill="#ffffff"/>
<circle cx="173.34" cy="258.88" r="0.5" fill="#ffffff"/>
<circle cx="102.06" cy="273.86" r="0.5" fill="#ffffff"/>
<circle cx="109.26" cy="272.99" r="0.5" fill="#ffffff"/>
<circle cx="116.46" cy="272.13" r="0.5" fill="#ffffff"/>
<circle cx="123.66" cy="271.26" r="0.5" fill="#ffffff"/>
<circle cx="130.86" cy="270.4" r="0.5" fill="#ffffff"/>
<circle cx="138.06" cy="269.54" r="0.5" fill="#ffffff"/>
<circle cx="145.26" cy="268.67" r="0.5" fill="#ffffff"/>
<circle cx="152.46" cy="267.81" r="0.5" fill="#ffffff"/>
<circle cx="159.66" cy="266.94" r="0.5" fill="#ffffff"/>
<circle cx="166.86" cy="266.08" r="0.5" fill="#ffffff"/>
<circle cx="174.06" cy="265.22" r="0.5" fill="#ffffff"/>
<circle cx="102.78" cy="280.19" r="0.5" fill="#ffffff"/>
<circle cx="109.98" cy="279.33" r="0.5" fill="#ffffff"/>
<circle cx="117.18" cy="278.46" r="0.5" fill="#ffffff"/>
<circle cx="124.38" cy="277.6" r="0.5" fill="#ffffff"/>
<circle cx="131.58" cy="276.74" r="0.5" fill="#ffffff"/>
<circle cx="138.78" cy="275.87" r="0.5" fill="#ffffff"/>
<circle cx="145.98" cy="275.01" r="0.5" fill="#ffffff"/>
<circle cx="153.18" cy="274.14" r="0.5" fill="#ffffff"/>
<circle cx="160.38" cy="273.28" r="0.5" fill="#ffffff"/>
<circle cx="167.58" cy="272.42" r="0.5" fill="#ffffff"/>
<circle cx="174.78" cy="271.55" r="0.5" fill="#ffffff"/>
<circle cx="103.5" cy="286.53" r="0.5" fill="#ffffff"/>
<circle cx="110.7" cy="285.66" r="0.5" fill="#ffffff"/>
<circle cx="117.9" cy="284.8" r="0.5" fill="#ffffff"/>
<circle cx="125.1" cy="283.94" r="0.5" fill="#ffffff"/>
<circle cx="132.3" cy="283.07" r="0.5" fill="#ffffff"/>
<circle cx="139.5" cy="282.21" r="0.5" fill="#ffffff"/>
<circle cx="146.7" cy="281.34" r="0.5" fill="#ffffff"/>
<circle cx="153.9" cy="280.48" r="0.5" fill="#ffffff"/>
<circle cx="161.1" cy="279.62" r="0.5" fill="#ffffff"/>
<circle cx="168.3" cy="278.75" r="0.5" fill="#ffffff"/>
<circle cx="175.5" cy="277.89" r="0.5" fill="#ffffff"/>
<circle cx="104.22" cy="292.86" r="0.5" fill="#ffffff"/>
<circle cx="111.42" cy="292" r="0.5" fill="#ffffff"/>
<circle cx="118.62" cy="291.14" r="0.5" fill="#ffffff"/>
<circle cx="125.82" cy="290.27" r="0.5" fill="#ffffff"/>
<circle cx="133.02" cy="289.41" r="0.5" fill="#ffffff"/>
<circle cx="140.22" cy="288.54" r="0.5" fill="#ffffff"/>
<circle cx="147.42" cy="287.68" r="0.5" fill="#ffffff"/>
<circle cx="154.62" cy="286.82" r="0.5" fill="#ffffff"/>
<circle cx="161.82" cy="285.95" r="0.5" fill="#ffffff"/>
<circle cx="169.02" cy="285.09" r="0.5" fill="#ffffff"/>
<circle cx="176.22" cy="284.22" r="0.5" fill="#ffffff"/>
<circle cx="104.94" cy="299.2" r="0.5" fill="#ffffff"/>
<circle cx="112.14" cy="298.34" r="0.5" fill="#ffffff"/>
<circle cx="119.34" cy="297.47" r="0.5" fill="#ffffff"/>
<circle cx="126.54" cy="296.61" r="0.5" fill="#ffffff"/>
<circle cx="133.74" cy="295.74" r="0.5" fill="#ffffff"/>
<circle cx="140.94" cy="294.88" r="0.5" fill="#ffffff"/>
<circle cx="148.14" cy="294.02" r="0.5" fill="#ffffff"/>
<circle cx="155.34" cy="293.15" r="0.5" fill="#ffffff"/>
<circle cx="162.54" cy="292.29" r="0.5" fill="#ffffff"/>
<circle cx="169.74" cy="291.42" r="0.5" fill="#ffffff"/>
<circle cx="176.94" cy="290.56" r="0.5" fill="#ffffff"/>
<circle cx="105.66" cy="305.54" r="0.5" fill="#ffffff"/>
<circle cx="112.86" cy="304.67" r="0.5" fill="#ffffff"/>
<circle cx="120.06" cy="303.81" r="0.5" fill="#ffffff"/>
<circle cx="127.26" cy="302.94" r="0.5" fill="#ffffff"/>
<circle cx="134.46" cy="302.08" r="0.5" fill="#ffffff"/>
<circle cx="141.66" cy="301.22" r="0.5" fill="#ffffff"/>
<circle cx="148.86" cy="300.35" r="0.5" fill="#ffffff"/>
<circle cx="156.06" cy="299.49" r="0.5" fill="#ffffff"/>
<circle cx="163.26" cy="298.62" r="0.5" fill="#ffffff"/>
<circle cx="170.46" cy="297.76" r="0.5" fill="#ffffff"/>
<circle cx="177.66" cy="296.9" r="0.5" fill="#ffffff"/>
<circle cx="106.38" cy="311.87" r="0.5" fill="#ffffff"/>
<circle cx="113.58" cy="311.01" r="0.5" fill="#ffffff"/>
<circle cx="120.78" cy="310.14" r="0.5" fill="#ffffff"/>
<circle cx="127.98" cy="309.28" r="0.5" fill="#ffffff"/>
<circle cx="135.18" cy="308.42" r="0.5" fill="#ffffff"/>
<circle cx="142.38" cy="307.55" r="0.5" fill="#ffffff"/>
<circle cx="149.58" cy="306.69" r="0.5" fill="#ffffff"/>
<circle cx="156.78" cy="305.82" r="0.5" fill="#ffffff"/>
<circle cx="163.98" cy="304.96" r="0.5" fill="#ffffff"/>
<circle cx="171.18" cy="304.1" r="0.5" fill="#ffffff"/>
<circle cx="178.38" cy="303.23" r="0.5" fill="#ffffff"/>
</g>
<circle cx="134.1" cy="266.8" r="17.6" fill="none" stroke="#e0303a" stroke-width="0.9" stroke-dasharray="2,1"/>
<clipPath id="cpa3"><circle cx="180.7" cy="266.7" r="17.6"/></clipPath>
<g clip-path="url(#cpa3)">
<circle cx="180.7" cy="266.7" r="17.6" fill="#3a3020" stroke="none" stroke-width="1" />
<ellipse cx="138.4" cy="229.85" rx="4.9" ry="4.66" fill="url(#sp1)"/>
<ellipse cx="147.8" cy="228.72" rx="4.9" ry="4.66" fill="url(#sp1)"/>
<ellipse cx="157.2" cy="227.6" rx="4.9" ry="4.66" fill="url(#sp1)"/>
<ellipse cx="166.6" cy="226.47" rx="4.9" ry="4.66" fill="url(#sp1)"/>
<ellipse cx="176" cy="225.34" rx="4.9" ry="4.66" fill="url(#sp1)"/>
<ellipse cx="185.4" cy="224.21" rx="4.9" ry="4.66" fill="url(#sp1)"/>
<ellipse cx="194.8" cy="223.08" rx="4.9" ry="4.66" fill="url(#sp1)"/>
<ellipse cx="204.2" cy="221.96" rx="4.9" ry="4.66" fill="url(#sp1)"/>
<ellipse cx="213.6" cy="220.83" rx="4.9" ry="4.66" fill="url(#sp1)"/>
<ellipse cx="139.34" cy="238.12" rx="4.9" ry="4.66" fill="url(#sp1)"/>
<ellipse cx="148.74" cy="237" rx="4.9" ry="4.66" fill="url(#sp1)"/>
<ellipse cx="158.14" cy="235.87" rx="4.9" ry="4.66" fill="url(#sp1)"/>
<ellipse cx="167.54" cy="234.74" rx="4.9" ry="4.66" fill="url(#sp1)"/>
<ellipse cx="176.94" cy="233.61" rx="4.9" ry="4.66" fill="url(#sp1)"/>
<ellipse cx="186.34" cy="232.48" rx="4.9" ry="4.66" fill="url(#sp1)"/>
<ellipse cx="195.74" cy="231.36" rx="4.9" ry="4.66" fill="url(#sp1)"/>
<ellipse cx="205.14" cy="230.23" rx="4.9" ry="4.66" fill="url(#sp1)"/>
<ellipse cx="214.54" cy="229.1" rx="4.9" ry="4.66" fill="url(#sp1)"/>
<ellipse cx="140.28" cy="246.4" rx="4.9" ry="4.66" fill="url(#sp1)"/>
<ellipse cx="149.68" cy="245.27" rx="4.9" ry="4.66" fill="url(#sp1)"/>
<ellipse cx="159.08" cy="244.14" rx="4.9" ry="4.66" fill="url(#sp1)"/>
<ellipse cx="168.48" cy="243.01" rx="4.9" ry="4.66" fill="url(#sp1)"/>
<ellipse cx="177.88" cy="241.88" rx="4.9" ry="4.66" fill="url(#sp1)"/>
<ellipse cx="187.28" cy="240.76" rx="4.9" ry="4.66" fill="url(#sp1)"/>
<ellipse cx="196.68" cy="239.63" rx="4.9" ry="4.66" fill="url(#sp1)"/>
<ellipse cx="206.08" cy="238.5" rx="4.9" ry="4.66" fill="url(#sp1)"/>
<ellipse cx="215.48" cy="237.37" rx="4.9" ry="4.66" fill="url(#sp1)"/>
<ellipse cx="141.22" cy="254.67" rx="4.9" ry="4.66" fill="url(#sp1)"/>
<ellipse cx="150.62" cy="253.54" rx="4.9" ry="4.66" fill="url(#sp1)"/>
<ellipse cx="160.02" cy="252.41" rx="4.9" ry="4.66" fill="url(#sp1)"/>
<ellipse cx="169.42" cy="251.28" rx="4.9" ry="4.66" fill="url(#sp1)"/>
<ellipse cx="178.82" cy="250.16" rx="4.9" ry="4.66" fill="url(#sp1)"/>
<ellipse cx="188.22" cy="249.03" rx="4.9" ry="4.66" fill="url(#sp1)"/>
<ellipse cx="197.62" cy="247.9" rx="4.9" ry="4.66" fill="url(#sp1)"/>
<ellipse cx="207.02" cy="246.77" rx="4.9" ry="4.66" fill="url(#sp1)"/>
<ellipse cx="216.42" cy="245.64" rx="4.9" ry="4.66" fill="url(#sp1)"/>
<ellipse cx="142.16" cy="262.94" rx="4.9" ry="4.66" fill="url(#sp1)"/>
<ellipse cx="151.56" cy="261.81" rx="4.9" ry="4.66" fill="url(#sp1)"/>
<ellipse cx="160.96" cy="260.68" rx="4.9" ry="4.66" fill="url(#sp1)"/>
<ellipse cx="170.36" cy="259.56" rx="4.9" ry="4.66" fill="url(#sp1)"/>
<ellipse cx="179.76" cy="258.43" rx="4.9" ry="4.66" fill="url(#sp1)"/>
<ellipse cx="189.16" cy="257.3" rx="4.9" ry="4.66" fill="url(#sp1)"/>
<ellipse cx="198.56" cy="256.17" rx="4.9" ry="4.66" fill="url(#sp1)"/>
<ellipse cx="207.96" cy="255.04" rx="4.9" ry="4.66" fill="url(#sp1)"/>
<ellipse cx="217.36" cy="253.92" rx="4.9" ry="4.66" fill="url(#sp1)"/>
<ellipse cx="143.1" cy="271.21" rx="4.9" ry="4.66" fill="url(#sp1)"/>
<ellipse cx="152.5" cy="270.08" rx="4.9" ry="4.66" fill="url(#sp1)"/>
<ellipse cx="161.9" cy="268.96" rx="4.9" ry="4.66" fill="url(#sp1)"/>
<ellipse cx="171.3" cy="267.83" rx="4.9" ry="4.66" fill="url(#sp1)"/>
<ellipse cx="180.7" cy="266.7" rx="4.9" ry="4.66" fill="url(#sp1)"/>
<ellipse cx="190.1" cy="265.57" rx="4.9" ry="4.66" fill="url(#sp1)"/>
<ellipse cx="199.5" cy="264.44" rx="4.9" ry="4.66" fill="url(#sp1)"/>
<ellipse cx="208.9" cy="263.32" rx="4.9" ry="4.66" fill="url(#sp1)"/>
<ellipse cx="218.3" cy="262.19" rx="4.9" ry="4.66" fill="url(#sp1)"/>
<ellipse cx="144.04" cy="279.48" rx="4.9" ry="4.66" fill="url(#sp1)"/>
<ellipse cx="153.44" cy="278.36" rx="4.9" ry="4.66" fill="url(#sp1)"/>
<ellipse cx="162.84" cy="277.23" rx="4.9" ry="4.66" fill="url(#sp1)"/>
<ellipse cx="172.24" cy="276.1" rx="4.9" ry="4.66" fill="url(#sp1)"/>
<ellipse cx="181.64" cy="274.97" rx="4.9" ry="4.66" fill="url(#sp1)"/>
<ellipse cx="191.04" cy="273.84" rx="4.9" ry="4.66" fill="url(#sp1)"/>
<ellipse cx="200.44" cy="272.72" rx="4.9" ry="4.66" fill="url(#sp1)"/>
<ellipse cx="209.84" cy="271.59" rx="4.9" ry="4.66" fill="url(#sp1)"/>
<ellipse cx="219.24" cy="270.46" rx="4.9" ry="4.66" fill="url(#sp1)"/>
<ellipse cx="144.98" cy="287.76" rx="4.9" ry="4.66" fill="url(#sp1)"/>
<ellipse cx="154.38" cy="286.63" rx="4.9" ry="4.66" fill="url(#sp1)"/>
<ellipse cx="163.78" cy="285.5" rx="4.9" ry="4.66" fill="url(#sp1)"/>
<ellipse cx="173.18" cy="284.37" rx="4.9" ry="4.66" fill="url(#sp1)"/>
<ellipse cx="182.58" cy="283.24" rx="4.9" ry="4.66" fill="url(#sp1)"/>
<ellipse cx="191.98" cy="282.12" rx="4.9" ry="4.66" fill="url(#sp1)"/>
<ellipse cx="201.38" cy="280.99" rx="4.9" ry="4.66" fill="url(#sp1)"/>
<ellipse cx="210.78" cy="279.86" rx="4.9" ry="4.66" fill="url(#sp1)"/>
<ellipse cx="220.18" cy="278.73" rx="4.9" ry="4.66" fill="url(#sp1)"/>
<ellipse cx="145.92" cy="296.03" rx="4.9" ry="4.66" fill="url(#sp1)"/>
<ellipse cx="155.32" cy="294.9" rx="4.9" ry="4.66" fill="url(#sp1)"/>
<ellipse cx="164.72" cy="293.77" rx="4.9" ry="4.66" fill="url(#sp1)"/>
<ellipse cx="174.12" cy="292.64" rx="4.9" ry="4.66" fill="url(#sp1)"/>
<ellipse cx="183.52" cy="291.52" rx="4.9" ry="4.66" fill="url(#sp1)"/>
<ellipse cx="192.92" cy="290.39" rx="4.9" ry="4.66" fill="url(#sp1)"/>
<ellipse cx="202.32" cy="289.26" rx="4.9" ry="4.66" fill="url(#sp1)"/>
<ellipse cx="211.72" cy="288.13" rx="4.9" ry="4.66" fill="url(#sp1)"/>
<ellipse cx="221.12" cy="287" rx="4.9" ry="4.66" fill="url(#sp1)"/>
<ellipse cx="146.86" cy="304.3" rx="4.9" ry="4.66" fill="url(#sp1)"/>
<ellipse cx="156.26" cy="303.17" rx="4.9" ry="4.66" fill="url(#sp1)"/>
<ellipse cx="165.66" cy="302.04" rx="4.9" ry="4.66" fill="url(#sp1)"/>
<ellipse cx="175.06" cy="300.92" rx="4.9" ry="4.66" fill="url(#sp1)"/>
<ellipse cx="184.46" cy="299.79" rx="4.9" ry="4.66" fill="url(#sp1)"/>
<ellipse cx="193.86" cy="298.66" rx="4.9" ry="4.66" fill="url(#sp1)"/>
<ellipse cx="203.26" cy="297.53" rx="4.9" ry="4.66" fill="url(#sp1)"/>
<ellipse cx="212.66" cy="296.4" rx="4.9" ry="4.66" fill="url(#sp1)"/>
<ellipse cx="222.06" cy="295.28" rx="4.9" ry="4.66" fill="url(#sp1)"/>
<ellipse cx="147.8" cy="312.57" rx="4.9" ry="4.66" fill="url(#sp1)"/>
<ellipse cx="157.2" cy="311.44" rx="4.9" ry="4.66" fill="url(#sp1)"/>
<ellipse cx="166.6" cy="310.32" rx="4.9" ry="4.66" fill="url(#sp1)"/>
<ellipse cx="176" cy="309.19" rx="4.9" ry="4.66" fill="url(#sp1)"/>
<ellipse cx="185.4" cy="308.06" rx="4.9" ry="4.66" fill="url(#sp1)"/>
<ellipse cx="194.8" cy="306.93" rx="4.9" ry="4.66" fill="url(#sp1)"/>
<ellipse cx="204.2" cy="305.8" rx="4.9" ry="4.66" fill="url(#sp1)"/>
<ellipse cx="213.6" cy="304.68" rx="4.9" ry="4.66" fill="url(#sp1)"/>
<ellipse cx="223" cy="303.55" rx="4.9" ry="4.66" fill="url(#sp1)"/>
<circle cx="143.57" cy="233.42" r="0.66" fill="#ffffff"/>
<circle cx="152.97" cy="232.3" r="0.66" fill="#ffffff"/>
<circle cx="162.37" cy="231.17" r="0.66" fill="#ffffff"/>
<circle cx="171.77" cy="230.04" r="0.66" fill="#ffffff"/>
<circle cx="181.17" cy="228.91" r="0.66" fill="#ffffff"/>
<circle cx="190.57" cy="227.78" r="0.66" fill="#ffffff"/>
<circle cx="199.97" cy="226.66" r="0.66" fill="#ffffff"/>
<circle cx="209.37" cy="225.53" r="0.66" fill="#ffffff"/>
<circle cx="218.77" cy="224.4" r="0.66" fill="#ffffff"/>
<circle cx="144.51" cy="241.7" r="0.66" fill="#ffffff"/>
<circle cx="153.91" cy="240.57" r="0.66" fill="#ffffff"/>
<circle cx="163.31" cy="239.44" r="0.66" fill="#ffffff"/>
<circle cx="172.71" cy="238.31" r="0.66" fill="#ffffff"/>
<circle cx="182.11" cy="237.18" r="0.66" fill="#ffffff"/>
<circle cx="191.51" cy="236.06" r="0.66" fill="#ffffff"/>
<circle cx="200.91" cy="234.93" r="0.66" fill="#ffffff"/>
<circle cx="210.31" cy="233.8" r="0.66" fill="#ffffff"/>
<circle cx="219.71" cy="232.67" r="0.66" fill="#ffffff"/>
<circle cx="145.45" cy="249.97" r="0.66" fill="#ffffff"/>
<circle cx="154.85" cy="248.84" r="0.66" fill="#ffffff"/>
<circle cx="164.25" cy="247.71" r="0.66" fill="#ffffff"/>
<circle cx="173.65" cy="246.58" r="0.66" fill="#ffffff"/>
<circle cx="183.05" cy="245.46" r="0.66" fill="#ffffff"/>
<circle cx="192.45" cy="244.33" r="0.66" fill="#ffffff"/>
<circle cx="201.85" cy="243.2" r="0.66" fill="#ffffff"/>
<circle cx="211.25" cy="242.07" r="0.66" fill="#ffffff"/>
<circle cx="220.65" cy="240.94" r="0.66" fill="#ffffff"/>
<circle cx="146.39" cy="258.24" r="0.66" fill="#ffffff"/>
<circle cx="155.79" cy="257.11" r="0.66" fill="#ffffff"/>
<circle cx="165.19" cy="255.98" r="0.66" fill="#ffffff"/>
<circle cx="174.59" cy="254.86" r="0.66" fill="#ffffff"/>
<circle cx="183.99" cy="253.73" r="0.66" fill="#ffffff"/>
<circle cx="193.39" cy="252.6" r="0.66" fill="#ffffff"/>
<circle cx="202.79" cy="251.47" r="0.66" fill="#ffffff"/>
<circle cx="212.19" cy="250.34" r="0.66" fill="#ffffff"/>
<circle cx="221.59" cy="249.22" r="0.66" fill="#ffffff"/>
<circle cx="147.33" cy="266.51" r="0.66" fill="#ffffff"/>
<circle cx="156.73" cy="265.38" r="0.66" fill="#ffffff"/>
<circle cx="166.13" cy="264.26" r="0.66" fill="#ffffff"/>
<circle cx="175.53" cy="263.13" r="0.66" fill="#ffffff"/>
<circle cx="184.93" cy="262" r="0.66" fill="#ffffff"/>
<circle cx="194.33" cy="260.87" r="0.66" fill="#ffffff"/>
<circle cx="203.73" cy="259.74" r="0.66" fill="#ffffff"/>
<circle cx="213.13" cy="258.62" r="0.66" fill="#ffffff"/>
<circle cx="222.53" cy="257.49" r="0.66" fill="#ffffff"/>
<circle cx="148.27" cy="274.78" r="0.66" fill="#ffffff"/>
<circle cx="157.67" cy="273.66" r="0.66" fill="#ffffff"/>
<circle cx="167.07" cy="272.53" r="0.66" fill="#ffffff"/>
<circle cx="176.47" cy="271.4" r="0.66" fill="#ffffff"/>
<circle cx="185.87" cy="270.27" r="0.66" fill="#ffffff"/>
<circle cx="195.27" cy="269.14" r="0.66" fill="#ffffff"/>
<circle cx="204.67" cy="268.02" r="0.66" fill="#ffffff"/>
<circle cx="214.07" cy="266.89" r="0.66" fill="#ffffff"/>
<circle cx="223.47" cy="265.76" r="0.66" fill="#ffffff"/>
<circle cx="149.21" cy="283.06" r="0.66" fill="#ffffff"/>
<circle cx="158.61" cy="281.93" r="0.66" fill="#ffffff"/>
<circle cx="168.01" cy="280.8" r="0.66" fill="#ffffff"/>
<circle cx="177.41" cy="279.67" r="0.66" fill="#ffffff"/>
<circle cx="186.81" cy="278.54" r="0.66" fill="#ffffff"/>
<circle cx="196.21" cy="277.42" r="0.66" fill="#ffffff"/>
<circle cx="205.61" cy="276.29" r="0.66" fill="#ffffff"/>
<circle cx="215.01" cy="275.16" r="0.66" fill="#ffffff"/>
<circle cx="224.41" cy="274.03" r="0.66" fill="#ffffff"/>
<circle cx="150.15" cy="291.33" r="0.66" fill="#ffffff"/>
<circle cx="159.55" cy="290.2" r="0.66" fill="#ffffff"/>
<circle cx="168.95" cy="289.07" r="0.66" fill="#ffffff"/>
<circle cx="178.35" cy="287.94" r="0.66" fill="#ffffff"/>
<circle cx="187.75" cy="286.82" r="0.66" fill="#ffffff"/>
<circle cx="197.15" cy="285.69" r="0.66" fill="#ffffff"/>
<circle cx="206.55" cy="284.56" r="0.66" fill="#ffffff"/>
<circle cx="215.95" cy="283.43" r="0.66" fill="#ffffff"/>
<circle cx="225.35" cy="282.3" r="0.66" fill="#ffffff"/>
<circle cx="151.09" cy="299.6" r="0.66" fill="#ffffff"/>
<circle cx="160.49" cy="298.47" r="0.66" fill="#ffffff"/>
<circle cx="169.89" cy="297.34" r="0.66" fill="#ffffff"/>
<circle cx="179.29" cy="296.22" r="0.66" fill="#ffffff"/>
<circle cx="188.69" cy="295.09" r="0.66" fill="#ffffff"/>
<circle cx="198.09" cy="293.96" r="0.66" fill="#ffffff"/>
<circle cx="207.49" cy="292.83" r="0.66" fill="#ffffff"/>
<circle cx="216.89" cy="291.7" r="0.66" fill="#ffffff"/>
<circle cx="226.29" cy="290.58" r="0.66" fill="#ffffff"/>
<circle cx="152.03" cy="307.87" r="0.66" fill="#ffffff"/>
<circle cx="161.43" cy="306.74" r="0.66" fill="#ffffff"/>
<circle cx="170.83" cy="305.62" r="0.66" fill="#ffffff"/>
<circle cx="180.23" cy="304.49" r="0.66" fill="#ffffff"/>
<circle cx="189.63" cy="303.36" r="0.66" fill="#ffffff"/>
<circle cx="199.03" cy="302.23" r="0.66" fill="#ffffff"/>
<circle cx="208.43" cy="301.1" r="0.66" fill="#ffffff"/>
<circle cx="217.83" cy="299.98" r="0.66" fill="#ffffff"/>
<circle cx="227.23" cy="298.85" r="0.66" fill="#ffffff"/>
<circle cx="152.97" cy="316.14" r="0.66" fill="#ffffff"/>
<circle cx="162.37" cy="315.02" r="0.66" fill="#ffffff"/>
<circle cx="171.77" cy="313.89" r="0.66" fill="#ffffff"/>
<circle cx="181.17" cy="312.76" r="0.66" fill="#ffffff"/>
<circle cx="190.57" cy="311.63" r="0.66" fill="#ffffff"/>
<circle cx="199.97" cy="310.5" r="0.66" fill="#ffffff"/>
<circle cx="209.37" cy="309.38" r="0.66" fill="#ffffff"/>
<circle cx="218.77" cy="308.25" r="0.66" fill="#ffffff"/>
<circle cx="228.17" cy="307.12" r="0.66" fill="#ffffff"/>
</g>
<circle cx="180.7" cy="266.7" r="17.6" fill="none" stroke="#e0303a" stroke-width="0.9" stroke-dasharray="2,1"/>
<line x1="26" y1="284.5" x2="31" y2="289.8" stroke="#e0303a" stroke-width="0.8" stroke-dasharray="2,1"/>
<line x1="32" y1="284" x2="31" y2="289.8" stroke="#e0303a" stroke-width="0.8" stroke-dasharray="2,1"/>
<polygon points="31,290.8 28.8,287.3 32.5,287" stroke="none" stroke-width="1" fill="#e0303a" />
<line x1="88" y1="285.4" x2="95.5" y2="289.5" stroke="#e0303a" stroke-width="0.8" stroke-dasharray="2,1"/>
<line x1="94" y1="284.8" x2="95.5" y2="289.5" stroke="#e0303a" stroke-width="0.8" stroke-dasharray="2,1"/>
<polygon points="95.5,290.5 93.3,287 97,286.7" stroke="none" stroke-width="1" fill="#e0303a" />
<line x1="133" y1="284.4" x2="141.5" y2="289.6" stroke="#e0303a" stroke-width="0.8" stroke-dasharray="2,1"/>
<line x1="139" y1="284" x2="141.5" y2="289.6" stroke="#e0303a" stroke-width="0.8" stroke-dasharray="2,1"/>
<polygon points="141.5,290.6 139.3,287.1 143,286.8" stroke="none" stroke-width="1" fill="#e0303a" />
<line x1="177" y1="284.3" x2="188.5" y2="290" stroke="#e0303a" stroke-width="0.8" stroke-dasharray="2,1"/>
<line x1="184" y1="284" x2="188.5" y2="290" stroke="#e0303a" stroke-width="0.8" stroke-dasharray="2,1"/>
<polygon points="188.5,291 186.3,287.5 190,287.2" stroke="none" stroke-width="1" fill="#e0303a" />
<rect x="70.9" y="303.7" width="24.3" height="9.6" fill="url(#lab)" stroke="#3a4a40" stroke-width="0.6" />
<rect x="72.5" y="305.1" width="21.1" height="6.8" fill="#d2f0e2" stroke="#5a8a74" stroke-width="0.4" />
<text x="83.05" y="311.2" font-size="6.8" font-weight="bold" fill="#10201a" text-anchor="middle" font-family="Liberation Serif" >300°C</text>
<rect x="119.8" y="303.7" width="24.3" height="9.6" fill="url(#lab)" stroke="#3a4a40" stroke-width="0.6" />
<rect x="121.4" y="305.1" width="21.1" height="6.8" fill="#d2f0e2" stroke="#5a8a74" stroke-width="0.4" />
<text x="131.95" y="311.2" font-size="6.8" font-weight="bold" fill="#10201a" text-anchor="middle" font-family="Liberation Serif" >400°C</text>
<rect x="168.4" y="303.7" width="24" height="9.6" fill="url(#lab)" stroke="#3a4a40" stroke-width="0.6" />
<rect x="170" y="305.1" width="20.8" height="6.8" fill="#d2f0e2" stroke="#5a8a74" stroke-width="0.4" />
<text x="180.4" y="311.2" font-size="6.8" font-weight="bold" fill="#10201a" text-anchor="middle" font-family="Liberation Serif" >500°C</text>
<text x="83.6" y="323.3" font-size="6.6" font-weight="bold" fill="#1a1a1a" text-anchor="middle" font-family="Liberation Serif">SnO<tspan dy="1.6" font-size="4.6">2</tspan><tspan dy="-1.6">-D3</tspan></text>
<text x="132.0" y="324.3" font-size="6.6" font-weight="bold" fill="#1a1a1a" text-anchor="middle" font-family="Liberation Serif">SnO<tspan dy="1.6" font-size="4.6">2</tspan><tspan dy="-1.6">-D4</tspan></text>
<text x="180.0" y="324.8" font-size="6.6" font-weight="bold" fill="#1a1a1a" text-anchor="middle" font-family="Liberation Serif">SnO<tspan dy="1.6" font-size="4.6">2</tspan><tspan dy="-1.6">-D5</tspan></text>
<text x="23.6" y="321.2" font-size="6.6" font-weight="bold" fill="#1a1a1a" text-anchor="middle" font-family="Liberation Serif">SnO<tspan dy="1.6" font-size="4.6">2</tspan></text>
<text x="8.4" y="207.6" font-size="8.8" fill="#2e2323" font-family="Liberation Sans">H<tspan dy="2.2" font-size="5.8">2</tspan><tspan dy="-2.2">/Ar</tspan></text>
<text x="4.3" y="194.4" font-size="15" font-weight="bold" fill="#231a1a" text-anchor="start" font-family="Liberation Sans" >d</text>
<rect x="252.4" y="204.3" width="179.6" height="23.3" fill="#c8c8e2" stroke="none" stroke-width="1" />
<text x="348.75" y="213.4" font-size="9.2" font-weight="bold" fill="#2b4a7e" text-anchor="middle" font-family="Liberation Sans"  textLength="107" lengthAdjust="spacingAndGlyphs">Heating Temperature (°C)</text>
<text x="260.8" y="226.2" font-size="7.0" font-weight="normal" fill="#3a5a9a" text-anchor="middle" font-family="Liberation Sans" >120</text>
<text x="295.5" y="226.2" font-size="7.0" font-weight="normal" fill="#3a5a9a" text-anchor="middle" font-family="Liberation Sans" >150</text>
<text x="312.6" y="226.2" font-size="7.0" font-weight="normal" fill="#3a5a9a" text-anchor="middle" font-family="Liberation Sans" >180</text>
<text x="329.5" y="226.2" font-size="7.0" font-weight="normal" fill="#3a5a9a" text-anchor="middle" font-family="Liberation Sans" >190</text>
<text x="364.6" y="226.2" font-size="7.0" font-weight="normal" fill="#3a5a9a" text-anchor="middle" font-family="Liberation Sans" >210</text>
<text x="385.5" y="226.2" font-size="7.0" font-weight="normal" fill="#3a5a9a" text-anchor="middle" font-family="Liberation Sans" >230</text>
<text x="398.8" y="226.2" font-size="7.0" font-weight="normal" fill="#e0283a" text-anchor="middle" font-family="Liberation Sans" >250</text>
<text x="411.1" y="226.2" font-size="7.0" font-weight="normal" fill="#3a5a9a" text-anchor="middle" font-family="Liberation Sans" >270</text>
<text x="425.3" y="226.2" font-size="7.0" font-weight="normal" fill="#3a5a9a" text-anchor="middle" font-family="Liberation Sans" >290</text>
<line x1="261.2" y1="227.8" x2="261.2" y2="304.42" stroke="#3050a0" stroke-width="0.9" stroke-dasharray="2.5,1,0.7,1"/>
<line x1="295.8" y1="227.8" x2="295.8" y2="305.84" stroke="#3050a0" stroke-width="0.9" stroke-dasharray="2.5,1,0.7,1"/>
<line x1="313.1" y1="227.8" x2="313.1" y2="304.42" stroke="#3050a0" stroke-width="0.9" stroke-dasharray="2.5,1,0.7,1"/>
<line x1="330.4" y1="227.8" x2="330.4" y2="295.91" stroke="#3050a0" stroke-width="0.9" stroke-dasharray="2.5,1,0.7,1"/>
<line x1="365" y1="227.8" x2="365" y2="281.72" stroke="#3050a0" stroke-width="0.9" stroke-dasharray="2.5,1,0.7,1"/>
<line x1="390.95" y1="227.8" x2="390.95" y2="248.61" stroke="#3050a0" stroke-width="0.9" stroke-dasharray="2.5,1,0.7,1"/>
<line x1="416.9" y1="227.8" x2="416.9" y2="252.39" stroke="#3050a0" stroke-width="0.9" stroke-dasharray="2.5,1,0.7,1"/>
<line x1="425.55" y1="227.8" x2="425.55" y2="262.33" stroke="#3050a0" stroke-width="0.9" stroke-dasharray="2.5,1,0.7,1"/>
<polyline points="261.2,313.1 295.8,313.1 313.1,313.1 330.4,313.1 365,310.74 390.95,308.37 399.6,304.59 416.9,298.91 425.55,305.53" stroke="#6a8ad0" stroke-width="0.8" fill="none" />
<polyline points="261.2,307.42 295.8,308.84 313.1,309.32 330.4,303.64 365,298.91 390.95,289.45 399.6,279.99 416.9,275.26 425.55,289.45" stroke="#333" stroke-width="0.8" fill="none" />
<polyline points="261.2,311.21 295.8,308.84 313.1,307.42 330.4,298.91 365,284.72 390.95,251.61 399.6,231.74 416.9,255.39 425.55,265.33" stroke="#f06070" stroke-width="0.8" fill="none" />
<polyline points="261.2,310.26 295.8,308.84 313.1,312.63 330.4,308.84 365,303.64 390.95,298.91 399.6,291.82 416.9,294.18 425.55,298.91" stroke="#d070c0" stroke-width="0.8" fill="none" />
<circle cx="261.2" cy="313.1" r="2" fill="#2a5ab8" stroke="none" stroke-width="1" />
<circle cx="295.8" cy="313.1" r="2" fill="#2a5ab8" stroke="none" stroke-width="1" />
<circle cx="313.1" cy="313.1" r="2" fill="#2a5ab8" stroke="none" stroke-width="1" />
<circle cx="330.4" cy="313.1" r="2" fill="#2a5ab8" stroke="none" stroke-width="1" />
<circle cx="365" cy="310.74" r="2" fill="#2a5ab8" stroke="none" stroke-width="1" />
<circle cx="390.95" cy="308.37" r="2" fill="#2a5ab8" stroke="none" stroke-width="1" />
<circle cx="399.6" cy="304.59" r="2" fill="#2a5ab8" stroke="none" stroke-width="1" />
<circle cx="416.9" cy="298.91" r="2" fill="#2a5ab8" stroke="none" stroke-width="1" />
<circle cx="425.55" cy="305.53" r="2" fill="#2a5ab8" stroke="none" stroke-width="1" />
<polygon points="261.2,304.78 258.67,309.15 263.73,309.15" stroke="none" stroke-width="1" fill="#151515" />
<polygon points="295.8,306.2 293.27,310.57 298.33,310.57" stroke="none" stroke-width="1" fill="#151515" />
<polygon points="313.1,306.67 310.57,311.04 315.63,311.04" stroke="none" stroke-width="1" fill="#151515" />
<polygon points="330.4,301 327.87,305.37 332.93,305.37" stroke="none" stroke-width="1" fill="#151515" />
<polygon points="365,296.27 362.47,300.64 367.53,300.64" stroke="none" stroke-width="1" fill="#151515" />
<polygon points="390.95,286.81 388.42,291.18 393.48,291.18" stroke="none" stroke-width="1" fill="#151515" />
<polygon points="399.6,277.35 397.07,281.72 402.13,281.72" stroke="none" stroke-width="1" fill="#151515" />
<polygon points="416.9,272.62 414.37,276.99 419.43,276.99" stroke="none" stroke-width="1" fill="#151515" />
<polygon points="425.55,286.81 423.02,291.18 428.08,291.18" stroke="none" stroke-width="1" fill="#151515" />
<rect x="259.1" y="309.11" width="4.2" height="4.2" fill="#e0283a" stroke="none" stroke-width="1" />
<rect x="293.7" y="306.74" width="4.2" height="4.2" fill="#e0283a" stroke="none" stroke-width="1" />
<rect x="311" y="305.32" width="4.2" height="4.2" fill="#e0283a" stroke="none" stroke-width="1" />
<rect x="328.3" y="296.81" width="4.2" height="4.2" fill="#e0283a" stroke="none" stroke-width="1" />
<rect x="362.9" y="282.62" width="4.2" height="4.2" fill="#e0283a" stroke="none" stroke-width="1" />
<rect x="388.85" y="249.51" width="4.2" height="4.2" fill="#e0283a" stroke="none" stroke-width="1" />
<rect x="397.5" y="229.64" width="4.2" height="4.2" fill="#e0283a" stroke="none" stroke-width="1" />
<rect x="414.8" y="253.29" width="4.2" height="4.2" fill="#e0283a" stroke="none" stroke-width="1" />
<rect x="423.45" y="263.23" width="4.2" height="4.2" fill="#e0283a" stroke="none" stroke-width="1" />
<polygon points="261.2,312.91 258.67,308.54 263.73,308.54" stroke="none" stroke-width="1" fill="#c040a8" />
<polygon points="295.8,311.49 293.27,307.12 298.33,307.12" stroke="none" stroke-width="1" fill="#c040a8" />
<polygon points="313.1,315.27 310.57,310.9 315.63,310.9" stroke="none" stroke-width="1" fill="#c040a8" />
<polygon points="330.4,311.49 327.87,307.12 332.93,307.12" stroke="none" stroke-width="1" fill="#c040a8" />
<polygon points="365,306.29 362.47,301.92 367.53,301.92" stroke="none" stroke-width="1" fill="#c040a8" />
<polygon points="390.95,301.56 388.42,297.19 393.48,297.19" stroke="none" stroke-width="1" fill="#c040a8" />
<polygon points="399.6,294.46 397.07,290.09 402.13,290.09" stroke="none" stroke-width="1" fill="#c040a8" />
<polygon points="416.9,296.82 414.37,292.45 419.43,292.45" stroke="none" stroke-width="1" fill="#c040a8" />
<polygon points="425.55,301.56 423.02,297.19 428.08,297.19" stroke="none" stroke-width="1" fill="#c040a8" />
<line x1="390.95" y1="304.87" x2="390.95" y2="311.87" stroke="#666" stroke-width="0.5" />
<line x1="390.95" y1="285.95" x2="390.95" y2="292.95" stroke="#666" stroke-width="0.5" />
<line x1="390.95" y1="295.41" x2="390.95" y2="302.41" stroke="#666" stroke-width="0.5" />
<line x1="399.6" y1="301.09" x2="399.6" y2="308.09" stroke="#666" stroke-width="0.5" />
<line x1="399.6" y1="276.49" x2="399.6" y2="283.49" stroke="#666" stroke-width="0.5" />
<line x1="399.6" y1="288.32" x2="399.6" y2="295.32" stroke="#666" stroke-width="0.5" />
<line x1="416.9" y1="295.41" x2="416.9" y2="302.41" stroke="#666" stroke-width="0.5" />
<line x1="416.9" y1="271.76" x2="416.9" y2="278.76" stroke="#666" stroke-width="0.5" />
<line x1="416.9" y1="290.68" x2="416.9" y2="297.68" stroke="#666" stroke-width="0.5" />
<line x1="425.55" y1="302.03" x2="425.55" y2="309.03" stroke="#666" stroke-width="0.5" />
<line x1="425.55" y1="285.95" x2="425.55" y2="292.95" stroke="#666" stroke-width="0.5" />
<line x1="425.55" y1="295.41" x2="425.55" y2="302.41" stroke="#666" stroke-width="0.5" />
<rect x="252.4" y="189" width="182" height="133.2" fill="none" stroke="#3a3a3a" stroke-width="1.1" />
<line x1="252.4" y1="313.1" x2="249.9" y2="313.1" stroke="#333" stroke-width="0.9" />
<text x="246" y="316.2" font-size="8.7" font-weight="normal" fill="#2e2323" text-anchor="end" font-family="Liberation Sans" >1.0</text>
<line x1="252.4" y1="289.45" x2="249.9" y2="289.45" stroke="#333" stroke-width="0.9" />
<text x="246" y="292.55" font-size="8.7" font-weight="normal" fill="#2e2323" text-anchor="end" font-family="Liberation Sans" >1.5</text>
<line x1="252.4" y1="265.8" x2="249.9" y2="265.8" stroke="#333" stroke-width="0.9" />
<text x="246" y="268.9" font-size="8.7" font-weight="normal" fill="#2e2323" text-anchor="end" font-family="Liberation Sans" >2.0</text>
<line x1="252.4" y1="242.15" x2="249.9" y2="242.15" stroke="#333" stroke-width="0.9" />
<text x="246" y="245.25" font-size="8.7" font-weight="normal" fill="#2e2323" text-anchor="end" font-family="Liberation Sans" >2.5</text>
<line x1="252.4" y1="218.5" x2="249.9" y2="218.5" stroke="#333" stroke-width="0.9" />
<text x="246" y="221.6" font-size="8.7" font-weight="normal" fill="#2e2323" text-anchor="end" font-family="Liberation Sans" >3.0</text>
<line x1="252.4" y1="194.85" x2="249.9" y2="194.85" stroke="#333" stroke-width="0.9" />
<text x="246" y="197.95" font-size="8.7" font-weight="normal" fill="#2e2323" text-anchor="end" font-family="Liberation Sans" >3.5</text>
<line x1="252.4" y1="301.28" x2="250.9" y2="301.28" stroke="#333" stroke-width="0.9" />
<line x1="252.4" y1="277.62" x2="250.9" y2="277.62" stroke="#333" stroke-width="0.9" />
<line x1="252.4" y1="253.98" x2="250.9" y2="253.98" stroke="#333" stroke-width="0.9" />
<line x1="252.4" y1="230.33" x2="250.9" y2="230.33" stroke="#333" stroke-width="0.9" />
<line x1="252.4" y1="206.68" x2="250.9" y2="206.68" stroke="#333" stroke-width="0.9" />
<line x1="261.2" y1="322.2" x2="261.2" y2="324.7" stroke="#333" stroke-width="0.9" />
<text x="261.2" y="336.3" font-size="8.7" font-weight="normal" fill="#2e2323" text-anchor="middle" font-family="Liberation Sans" >1.0</text>
<line x1="295.8" y1="322.2" x2="295.8" y2="324.7" stroke="#333" stroke-width="0.9" />
<text x="295.8" y="336.3" font-size="8.7" font-weight="normal" fill="#2e2323" text-anchor="middle" font-family="Liberation Sans" >1.2</text>
<line x1="330.4" y1="322.2" x2="330.4" y2="324.7" stroke="#333" stroke-width="0.9" />
<text x="330.4" y="336.3" font-size="8.7" font-weight="normal" fill="#2e2323" text-anchor="middle" font-family="Liberation Sans" >1.4</text>
<line x1="365" y1="322.2" x2="365" y2="324.7" stroke="#333" stroke-width="0.9" />
<text x="365" y="336.3" font-size="8.7" font-weight="normal" fill="#2e2323" text-anchor="middle" font-family="Liberation Sans" >1.6</text>
<line x1="399.6" y1="322.2" x2="399.6" y2="324.7" stroke="#333" stroke-width="0.9" />
<text x="399.6" y="336.3" font-size="8.7" font-weight="normal" fill="#2e2323" text-anchor="middle" font-family="Liberation Sans" >1.8</text>
<line x1="434.2" y1="322.2" x2="434.2" y2="324.7" stroke="#333" stroke-width="0.9" />
<text x="434.2" y="336.3" font-size="8.7" font-weight="normal" fill="#2e2323" text-anchor="middle" font-family="Liberation Sans" >2.0</text>
<line x1="278.5" y1="322.2" x2="278.5" y2="323.7" stroke="#333" stroke-width="0.9" />
<line x1="313.1" y1="322.2" x2="313.1" y2="323.7" stroke="#333" stroke-width="0.9" />
<line x1="347.7" y1="322.2" x2="347.7" y2="323.7" stroke="#333" stroke-width="0.9" />
<line x1="382.3" y1="322.2" x2="382.3" y2="323.7" stroke="#333" stroke-width="0.9" />
<line x1="416.9" y1="322.2" x2="416.9" y2="323.7" stroke="#333" stroke-width="0.9" />
<text x="346" y="348.9" font-size="8.8" font-weight="bold" fill="#2e2323" text-anchor="middle" font-family="Liberation Sans"  textLength="80.8" lengthAdjust="spacingAndGlyphs">Heating Voltage (V)</text>
<text x="0" y="0" font-size="8.6" font-weight="bold" fill="#2e2323" text-anchor="middle" font-family="Liberation Sans" transform="translate(223.0,260.9) rotate(-90)" textLength="72.6" lengthAdjust="spacingAndGlyphs">Response (R<tspan dy="2" font-size="5.8">a</tspan><tspan dy="-2">/R</tspan><tspan dy="2" font-size="5.8">g</tspan><tspan dy="-2">)</tspan></text>
<rect x="268" y="248.2" width="60" height="44.4" fill="#ffffff" stroke="none" stroke-width="1" />
<line x1="272" y1="254.8" x2="288.4" y2="254.8" stroke="#98a8d8" stroke-width="0.9" />
<circle cx="280.4" cy="254.8" r="1.7" fill="#2a5ab8" stroke="none" stroke-width="1" />
<text x="291.5" y="257.9" font-size="8.6" fill="#2e2323" font-family="Liberation Sans">SnO<tspan dy="2.2" font-size="5.8">2</tspan><tspan dy="-2.2"></tspan></text>
<line x1="272" y1="265.2" x2="288.4" y2="265.2" stroke="#707070" stroke-width="0.9" />
<polygon points="280.4,263.25 278.53,266.47 282.27,266.47" stroke="none" stroke-width="1" fill="#151515" />
<text x="291.5" y="268.3" font-size="8.6" fill="#2e2323" font-family="Liberation Sans">SnO<tspan dy="2.2" font-size="5.8">2</tspan><tspan dy="-2.2">-D3</tspan></text>
<line x1="272" y1="276.4" x2="288.4" y2="276.4" stroke="#f08080" stroke-width="0.9" />
<rect x="278.7" y="274.7" width="3.4" height="3.4" fill="#e0283a" stroke="none" stroke-width="1" />
<text x="291.5" y="279.5" font-size="8.6" fill="#2e2323" font-family="Liberation Sans">SnO<tspan dy="2.2" font-size="5.8">2</tspan><tspan dy="-2.2">-D4</tspan></text>
<line x1="272" y1="287.3" x2="288.4" y2="287.3" stroke="#d080c0" stroke-width="0.9" />
<polygon points="280.4,289.25 278.53,286.03 282.27,286.03" stroke="none" stroke-width="1" fill="#c040a8" />
<text x="291.5" y="290.4" font-size="8.6" fill="#2e2323" font-family="Liberation Sans">SnO<tspan dy="2.2" font-size="5.8">2</tspan><tspan dy="-2.2">-D5</tspan></text>
<text x="211.5" y="194" font-size="15" font-weight="bold" fill="#231a1a" text-anchor="start" font-family="Liberation Sans" >e</text>
<rect x="534.3" y="187.3" width="61.5" height="136.1" fill="#95ccdc" stroke="none" stroke-width="1" />
<rect x="539.3" y="190.6" width="54.1" height="21.6" fill="#ffffff" stroke="none" stroke-width="1" />
<text x="566.4" y="199.3" font-size="7.2" font-weight="bold" fill="#e0283a" text-anchor="middle" font-family="Liberation Sans" >Repeatability</text>
<text x="566.4" y="207.5" font-size="7.2" font-weight="bold" fill="#e0283a" text-anchor="middle" font-family="Liberation Sans" >measurements</text>
<polyline points="484.6,303.56 484.85,303.13 485.1,303.11 485.35,304.33 485.6,304.64 485.85,303.79 486.1,304.03 486.35,302.78 486.6,303.06 486.85,303.26 487.1,303.36 487.35,303.12 487.6,301.13 487.85,297.1 488.1,295.73 488.35,292.77 488.6,294 488.85,291.78 489.1,293.23 489.35,291.64 489.6,292.36 489.85,292.14 490.1,291.08 490.35,293.91 490.6,297.46 490.85,297.88 491.1,300.41 491.35,302.43 491.6,301.03 491.85,301.58 492.1,303.82 492.35,303.3 492.6,304.1 492.85,303.77 493.1,303.11 493.35,304.21 493.6,302.99 493.85,304.51 494.1,304.24 494.35,302.75 494.6,303.72 494.85,303.68 495.1,303.27 495.35,299.52 495.6,295.21 495.85,293.29 496.1,290 496.35,288.43 496.6,287.79 496.85,288.15 497.1,288.64 497.35,288.49 497.6,287.64 497.85,287.63 498.1,288.9 498.35,288.6 498.6,290.68 498.85,294.81 499.1,297.07 499.35,299.74 499.6,302.12 499.85,301.11 500.1,302.58 500.35,302.74 500.6,303.68 500.85,303.36 501.1,303.56 501.35,302.73 501.6,304.34 501.85,303.33 502.1,304.21 502.35,303.02 502.6,304.56 502.85,304.01 503.1,303.86 503.35,303.18 503.6,304.54 503.85,303.59 504.1,304.18 504.35,304.01 504.6,303.55 504.85,302.43 505.1,303.54 505.35,297.91 505.6,294.65 505.85,289.79 506.1,289.22 506.35,288.49 506.6,286.5 506.85,285.7 507.1,287.56 507.35,286.79 507.6,285.53 507.85,286.47 508.1,286.67 508.35,287.19 508.6,289.79 508.85,293.48 509.1,295.95 509.35,298.11 509.6,300.7 509.85,302.77 510.1,302.7 510.35,302.03 510.6,302.2 510.85,302.83 511.1,303.9 511.35,303.29 511.6,303.45 511.85,303.14 512.1,304.01 512.35,302.43 512.6,302.56 512.85,304.27 513.1,303.98 513.35,302.63 513.6,304.01 513.85,302.46 514.1,303.46 514.35,303.04 514.6,303.02 514.85,304.17 515.1,304 515.35,300.23 515.6,291.58 515.85,286.91 516.1,285.41 516.35,281.94 516.6,281.99 516.85,281.78 517.1,280.95 517.35,279.45 517.6,280.28 517.85,280.05 518.1,279.31 518.35,279.18 518.6,279.63 518.85,280.42 519.1,283.59 519.35,289.58 519.6,294.26 519.85,297.67 520.1,300.13 520.35,301.35 520.6,301.33 520.85,302.29 521.1,303.92 521.35,302.55 521.6,302.25 521.85,302.61 522.1,302.44 522.35,302.46 522.6,303.36 522.85,302.79 523.1,303.76 523.35,304.42 523.6,303.83 523.85,303.93 524.1,302.48 524.35,303.06 524.6,303.4 524.85,297.17 525.1,291.54 525.35,286.46 525.6,283.57 525.85,282.77 526.1,282.2 526.35,281.26 526.6,281.12 526.85,280.07 527.1,281.21 527.35,281.26 527.6,280.7 527.85,279.78 528.1,283.19 528.35,290.14 528.6,293.92 528.85,298.17 529.1,300.87 529.35,301.07 529.6,302.01 529.85,303.18 530.1,302.41 530.35,303.41 530.6,303.8 530.85,303.7 531.1,302.33 531.35,304.56 531.6,303.77 531.85,303.97 532.1,304.17 532.35,303.64 532.6,304.14 532.85,302.52 533.1,303.49 533.35,303.04 533.6,304.28 533.85,303.58 534.1,303.25 534.35,302.7 534.6,304.08 534.85,303.59 535.1,302.67 535.35,302.73 535.6,304.13 535.85,303.41 536.1,295.21 536.35,289.91 536.6,285.53 536.85,283.29 537.1,281.2 537.35,281.35 537.6,280.55 537.85,281.01 538.1,279.93 538.35,280.78 538.6,280.29 538.85,280.58 539.1,280.68 539.35,286.22 539.6,292.19 539.85,295.52 540.1,298.88 540.35,301.13 540.6,300.54 540.85,302.51 541.1,301.5 541.35,302.62 541.6,303.33 541.85,302.35 542.1,302.39 542.35,303.79 542.6,304.29 542.85,303.12 543.1,302.67 543.35,303.22 543.6,302.82 543.85,303.69 544.1,303.22 544.35,304.05 544.6,303.71 544.85,303.78 545.1,303.77 545.35,303.73 545.6,302.78 545.85,295.1 546.1,289.45 546.35,285.96 546.6,282.25 546.85,282.05 547.1,282.39 547.35,280.11 547.6,279.75 547.85,279.7 548.1,280.67 548.35,279.74 548.6,280.7 548.85,281.07 549.1,285.97 549.35,291.73 549.6,296.92 549.85,297.84 550.1,301.46 550.35,301.87 550.6,303.26 550.85,303.36 551.1,303.69 551.35,302.61 551.6,303.71 551.85,304.05 552.1,304.12 552.35,303.86 552.6,302.61 552.85,303.22 553.1,304.4 553.35,303.06 553.6,303.41 553.85,303.61 554.1,303.43 554.35,303.14 554.6,302.8 554.85,303.49 555.1,303.18 555.35,301.36 555.6,292.67 555.85,288.21 556.1,285.09 556.35,283 556.6,281.42 556.85,281.75 557.1,279.84 557.35,280.59 557.6,279.59 557.85,279.89 558.1,279.21 558.35,279.82 558.6,280.39 558.85,288.37 559.1,293.13 559.35,296.24 559.6,298.31 559.85,301.46 560.1,302.61 560.35,303.15 560.6,303.64 560.85,303.99 561.1,304.28 561.35,303.85 561.6,304.24 561.85,302.97 562.1,303.16 562.35,302.37 562.6,302.4 562.85,302.91 563.1,302.44 563.35,304.59 563.6,304.13 563.85,302.5 564.1,303.55 564.35,304.18 564.6,302.9 564.85,303.68 565.1,303.4 565.35,297.89 565.6,291.26 565.85,287.5 566.1,283.79 566.35,281.47 566.6,280.47 566.85,280.43 567.1,279.7 567.35,280.83 567.6,280.85 567.85,279.32 568.1,280.03 568.35,279.84 568.6,284.93 568.85,291.14 569.1,294.98 569.35,297.32 569.6,299.02 569.85,300.45 570.1,302.26 570.35,302.71 570.6,301.95 570.85,301.9 571.1,303.23 571.35,304.01 571.6,303.08 571.85,303.33 572.1,303.76 572.35,304.09 572.6,303.74 572.85,303.22 573.1,304.36 573.35,303.4 573.6,302.44 573.85,302.93 574.1,304.07 574.35,303.69 574.6,304.42 574.85,302.95 575.1,303.19 575.35,304.26 575.6,303.39 575.85,303.28 576.1,303.32 576.35,303.78 576.6,299.72 576.85,292.1 577.1,286.05 577.35,284.84 577.6,282.77 577.85,281.85 578.1,281.9 578.35,281 578.6,281.22 578.85,280.81 579.1,280.63 579.35,280.62 579.6,279.22 579.85,282.55 580.1,289.77 580.35,293.82 580.6,297.6 580.85,299.42 581.1,300.49 581.35,302.73 581.6,301.94 581.85,303.66 582.1,303.58 582.35,302.45 582.6,302.14 582.85,302.95 583.1,304.17 583.35,303.58 583.6,303.96 583.85,302.68 584.1,304.1 584.35,304.2 584.6,303.17 584.85,303.18 585.1,303.29 585.35,303.55 585.6,302.43 585.85,303.6 586.1,302.48 586.35,303.75 586.6,303.58 586.85,303.83 587.1,303 587.35,293.74 587.6,289.37 587.85,285.33 588.1,282.82 588.35,282.1 588.6,280.97 588.85,280.62 589.1,280.12 589.35,280.78 589.6,280.8 589.85,281.39 590.1,279.34 590.35,279.55 590.6,287.07 590.85,291.42 591.1,295.31 591.35,299.53 591.6,299.57 591.85,301.61 592.1,302.56 592.35,303.16 592.6,303.11 592.85,304.15 593.1,304.29 593.35,304.22 593.6,303.84 593.85,304.22 594.1,304.33 594.35,302.7 594.6,303.76 594.85,303.51 595.1,303.26 595.35,302.49 595.6,304.32 595.85,304.13 596.1,302.66 596.35,302.55 596.6,302.49 596.85,302.26 597.1,297.74 597.35,294.57 597.6,290.27 597.85,288.69 598.1,287.78 598.35,286.2 598.6,286.68 598.85,285.5 599.1,284.23 599.35,285.79 599.6,284.39 599.85,285.24 600.1,283.61 600.35,283.52 600.6,283.91 600.85,284.35 601.1,285.28 601.35,284.16 601.6,284.46 601.85,284.35 602.1,285.09 602.35,284.67 602.6,291.68 602.85,295.6 603.1,297.59 603.35,299.21 603.6,301.16 603.85,301.93 604.1,301.73 604.35,303.16 604.6,302.15 604.85,304.33 605.1,302.63 605.35,303.32 605.6,303.14 605.85,302.31 606.1,304.12 606.35,303.69 606.6,302.79 606.85,302.92 607.1,303.44 607.35,302.85 607.6,303.08 607.85,302.64 608.1,303.15 608.35,303.82 608.6,304 608.85,304.47 609.1,304.38 609.35,303.62 609.6,297.53 609.85,296.61 610.1,293.44 610.35,293 610.6,289.94 610.85,290.13 611.1,290.35 611.35,288.4 611.6,288 611.85,287.49 612.1,289.08 612.35,288.53 612.6,287.84 612.85,288.65 613.1,287.94 613.35,287.59 613.6,287.45 613.85,287.26 614.1,287.42 614.35,288.49 614.6,287.39 614.85,289.38 615.1,294.86 615.35,298.41 615.6,299.12 615.85,301.13 616.1,302.67 616.35,302.35 616.6,302.93 616.85,303.4 617.1,303.01 617.35,303.19 617.6,303.28 617.85,302.27 618.1,302.49 618.35,303.93 618.6,302.61 618.85,303.91 619.1,302.47 619.35,304.52 619.6,303.92 619.85,302.49 620.1,303.12 620.35,303.02 620.6,304.19 620.85,304.38 621.1,298.99 621.35,297.83 621.6,295.2 621.85,292.86 622.1,290.69 622.35,290.08 622.6,288.66 622.85,288.67 623.1,289.1 623.35,287.73 623.6,288.92 623.85,289.4 624.1,287.18 624.35,287.28 624.6,287.74 624.85,288.12 625.1,288.74 625.35,288.68 625.6,289.01 625.85,288.94 626.1,288.04 626.35,287.06 626.6,291.37 626.85,296.14 627.1,298.26 627.35,300.39 627.6,300.76 627.85,301.64 628.1,301.46 628.35,302.09 628.6,302.69 628.85,303.03 629.1,304.1 629.35,303.45 629.6,303.55 629.85,304.26 630.1,304.16 630.35,303.68 630.6,304.24 630.85,303.2 631.1,303.89 631.35,302.36 631.6,303.07 631.85,303.46 632.1,303.65 632.35,300.31 632.6,298.24 632.85,294.62 633.1,293.39 633.35,293.02 633.6,292.3 633.85,292.95 634.1,291.64 634.35,292.23 634.6,291.65 634.85,290.89 635.1,291.75 635.35,291.52 635.6,290.31 635.85,290.84 636.1,289.86 636.35,291.54 636.6,291.69 636.85,289.7 637.1,290.45 637.35,290.25 637.6,290.56 637.85,295.88 638.1,296.82 638.35,299.84 638.6,300.13 638.85,302.73 639.1,302.97 639.35,302.69 639.6,303.63 639.85,302.36 640.1,303.86 640.35,304.35 640.6,304.2 640.85,303.97 641.1,302.42 641.35,302.59 641.6,303.09 641.85,303.66 642.1,304.56 642.35,302.72 642.6,304.37 642.85,304.2 643.1,303.65 643.35,302.66 643.6,304.24 643.85,303.39 644.1,299.95 644.35,300.97 644.6,298.5 644.85,299.3 645.1,298.51 645.35,298.42 645.6,297.65 645.85,296.37 646.1,296.43 646.35,297.05 646.6,298.03 646.85,297.78 647.1,297.47 647.35,296.28 647.6,295.98 647.85,298.04 648.1,297.31 648.35,295.85 648.6,297.72 648.85,297.89 649.1,297.45 649.35,297.46 649.6,300.66 649.85,300.75 650.1,302.92 650.35,302.16 650.6,303.63 650.85,302.86 651.1,302.66 651.35,302.44 651.6,303.53 651.85,302.29 652.1,303.67 652.35,302.42 652.6,302.51 652.85,302.32 653.1,304.41 653.35,304.02 653.6,303.04 653.85,302.6 654.1,304.06 654.35,302.87 654.6,303.55 654.85,304.65 655.1,304.47 655.35,304.65 655.6,304.13 655.85,302.49 656.1,303.08 656.35,302.65 656.6,302.53 656.85,303.75 657.1,303.04 657.35,303.14 657.6,303.05 657.85,303.45 658.1,300.3 658.35,301.06 658.6,299.69 658.85,298.62 659.1,298.12 659.35,297.66 659.6,298.65 659.85,298.54 660.1,297.43 660.35,298.94 660.6,296.96 660.85,298.22 661.1,298.01 661.35,298.17 661.6,297.22 661.85,298.47 662.1,298.55 662.35,298.7 662.6,298.55 662.85,297.4 663.1,296.54 663.35,300.12 663.6,300.6 663.85,301.87 664.1,302.64 664.35,303.01 664.6,303.85 664.85,303.31 665.1,303.8 665.35,304.36 665.6,304.24 665.85,302.43 666.1,302.95 666.35,302.35 666.6,302.75 666.85,302.93 667.1,304.13 667.35,304.4 667.6,302.37 667.85,303.07 668.1,302.98 668.35,304.33 668.6,302.82 668.85,303.42" stroke="#b0309a" stroke-width="0.9" fill="none" />
<polyline points="484.6,304.57 484.85,302.95 485.1,303.09 485.35,302.3 485.6,304.12 485.85,304.16 486.1,302.86 486.35,303.07 486.6,304.04 486.85,303 487.1,303.78 487.35,302.75 487.6,302.43 487.85,299.51 488.1,295.68 488.35,295.64 488.6,294.77 488.85,292.42 489.1,292.23 489.35,293.05 489.6,291.58 489.85,290.99 490.1,292.13 490.35,292.22 490.6,298.25 490.85,300.57 491.1,303.16 491.35,304.13 491.6,302.96 491.85,305.21 492.1,304.14 492.35,306 492.6,305.76 492.85,305.13 493.1,305.58 493.35,306.98 493.6,305.44 493.85,305.01 494.1,305.91 494.35,305.82 494.6,303.4 494.85,304.13 495.1,304.8 495.35,301.07 495.6,297.75 495.85,293.19 496.1,291.74 496.35,291.12 496.6,287.89 496.85,288.9 497.1,287.65 497.35,287.79 497.6,285.43 497.85,286.82 498.1,285.46 498.35,286.46 498.6,289.02 498.85,294.52 499.1,298.73 499.35,301.39 499.6,302.93 499.85,304.19 500.1,304.57 500.35,306.51 500.6,305.87 500.85,306.75 501.1,305.11 501.35,304.85 501.6,307.05 501.85,306.58 502.1,304.75 502.35,304.78 502.6,305.96 502.85,303.81 503.1,302.92 503.35,304.14 503.6,304.2 503.85,303.49 504.1,302.42 504.35,304.21 504.6,304.07 504.85,304.36 505.1,303.16 505.35,300.23 505.6,296.31 505.85,292.54 506.1,290.92 506.35,288.21 506.6,284.91 506.85,284.87 507.1,284.84 507.35,282.42 507.6,283.51 507.85,283.43 508.1,283.74 508.35,283.22 508.6,287.24 508.85,294.22 509.1,296.87 509.35,301.34 509.6,303.23 509.85,303.53 510.1,303.57 510.35,305.9 510.6,305.04 510.85,306.36 511.1,305.92 511.35,305.78 511.6,304.66 511.85,304.91 512.1,305.28 512.35,304.04 512.6,305.01 512.85,304.68 513.1,302.87 513.35,303.8 513.6,303.04 513.85,304.18 514.1,302.48 514.35,303.26 514.6,304.22 514.85,302.34 515.1,303.59 515.35,300.57 515.6,292.99 515.85,287.52 516.1,282.79 516.35,278.07 516.6,277 516.85,274.74 517.1,272.76 517.35,271.38 517.6,270.98 517.85,269.25 518.1,270.2 518.35,269.53 518.6,269.09 518.85,269.69 519.1,276.06 519.35,287.7 519.6,293.19 519.85,299.18 520.1,300.59 520.35,303.66 520.6,303.75 520.85,304.57 521.1,305.95 521.35,304.7 521.6,305.59 521.85,305.83 522.1,307.07 522.35,305.85 522.6,305.92 522.85,305.05 523.1,303.47 523.35,303.37 523.6,305.31 523.85,303.44 524.1,302.6 524.35,303.57 524.6,304.71 524.85,295.84 525.1,288.02 525.35,279.69 525.6,274.81 525.85,271.02 526.1,267.78 526.35,267.88 526.6,264.21 526.85,264.25 527.1,263.73 527.35,262.33 527.6,261.21 527.85,262.37 528.1,269.09 528.35,282.12 528.6,291.47 528.85,296.72 529.1,300.74 529.35,301.1 529.6,304.52 529.85,304.31 530.1,305.04 530.35,307.16 530.6,304.62 530.85,306.68 531.1,304.49 531.35,304.42 531.6,304.19 531.85,304 532.1,304.92 532.35,304.51 532.6,304.54 532.85,302.74 533.1,305.06 533.35,304.67 533.6,302.37 533.85,302.73 534.1,302.98 534.35,302.25 534.6,303.45 534.85,302.59 535.1,303.66 535.35,302.41 535.6,304.67 535.85,303.67 536.1,296.94 536.35,290.17 536.6,286.49 536.85,282.24 537.1,278.77 537.35,278.23 537.6,277.28 537.85,276.57 538.1,273.43 538.35,273.8 538.6,273.54 538.85,272.79 539.1,273.59 539.35,281.69 539.6,290.89 539.85,296.57 540.1,298.55 540.35,302.56 540.6,304.54 540.85,303.49 541.1,305.06 541.35,306.97 541.6,305.48 541.85,305.53 542.1,305.57 542.35,305.06 542.6,305.75 542.85,305.97 543.1,304.24 543.35,304.25 543.6,303.76 543.85,304.94 544.1,304.24 544.35,303.24 544.6,303.98 544.85,303.32 545.1,303.63 545.35,302.84 545.6,303.93 545.85,296.27 546.1,289.88 546.35,287.13 546.6,284.35 546.85,280.71 547.1,280.27 547.35,276.94 547.6,277.48 547.85,274.99 548.1,275.4 548.35,275.98 548.6,274.64 548.85,273.95 549.1,284.5 549.35,291.97 549.6,297.6 549.85,299.12 550.1,303.29 550.35,302.97 550.6,306.02 550.85,305.35 551.1,306.96 551.35,307 551.6,305.81 551.85,304.86 552.1,306.28 552.35,305.75 552.6,305.23 552.85,304.55 553.1,304.94 553.35,304.66 553.6,303.08 553.85,303.71 554.1,304.14 554.35,302.78 554.6,302.23 554.85,303.74 555.1,304.84 555.35,302.32 555.6,293.4 555.85,289.83 556.1,285.56 556.35,280.77 556.6,280.21 556.85,276.39 557.1,276.7 557.35,275.22 557.6,273.86 557.85,274.57 558.1,272.32 558.35,272.89 558.6,271.73 558.85,284.46 559.1,293.95 559.35,296.68 559.6,299.71 559.85,303.27 560.1,303.65 560.35,305.61 560.6,305.33 560.85,305.13 561.1,306.34 561.35,305.94 561.6,306.92 561.85,304.72 562.1,305.07 562.35,304.2 562.6,305.91 562.85,303.81 563.1,305.32 563.35,303.85 563.6,304.57 563.85,302.63 564.1,304.7 564.35,303.65 564.6,303.62 564.85,303.83 565.1,304.7 565.35,298.29 565.6,291.08 565.85,287.91 566.1,282.79 566.35,281.53 566.6,279.61 566.85,277.53 567.1,274.92 567.35,274.53 567.6,274.24 567.85,275.33 568.1,273.81 568.35,274.7 568.6,280.31 568.85,289.39 569.1,295.9 569.35,300.14 569.6,301.53 569.85,302.45 570.1,303.18 570.35,303.98 570.6,305.82 570.85,306.79 571.1,304.78 571.35,306.21 571.6,306.27 571.85,304.72 572.1,305.13 572.35,303.74 572.6,304.1 572.85,303.15 573.1,305.06 573.35,302.73 573.6,303.67 573.85,303.15 574.1,304.15 574.35,304.26 574.6,304.09 574.85,304.42 575.1,302.26 575.35,304.54 575.6,304.2 575.85,303.14 576.1,304.3 576.35,304.28 576.6,300.82 576.85,293.96 577.1,289.33 577.35,283.38 577.6,280.6 577.85,279.27 578.1,275.95 578.35,275.56 578.6,275.5 578.85,272.72 579.1,274.15 579.35,272.15 579.6,271.8 579.85,277.13 580.1,286.06 580.35,294.15 580.6,298.26 580.85,299.84 581.1,303.01 581.35,304.81 581.6,306.18 581.85,304.48 582.1,305.99 582.35,305.45 582.6,305.64 582.85,304.58 583.1,304.47 583.35,304.17 583.6,305.02 583.85,303.6 584.1,304.94 584.35,305.19 584.6,303.58 584.85,305.09 585.1,302.42 585.35,304.1 585.6,303.78 585.85,304.11 586.1,304 586.35,303.41 586.6,302.69 586.85,304.82 587.1,303.93 587.35,296.95 587.6,289.53 587.85,286.78 588.1,283.62 588.35,279.9 588.6,279.58 588.85,278.22 589.1,277.15 589.35,276.8 589.6,274.94 589.85,275.62 590.1,274.68 590.35,274.25 590.6,283.74 590.85,291.69 591.1,297.3 591.35,299.15 591.6,301.2 591.85,302.59 592.1,304.14 592.35,305.49 592.6,306.16 592.85,305.02 593.1,306.12 593.35,305.29 593.6,306.06 593.85,305.85 594.1,306.47 594.35,304.21 594.6,305.1 594.85,304.28 595.1,303.43 595.35,302.96 595.6,302.53 595.85,303.2 596.1,304.31 596.35,302.39 596.6,304.74 596.85,302.82 597.1,297.21 597.35,293.88 597.6,291.58 597.85,288.33 598.1,288.1 598.35,286.71 598.6,284.52 598.85,281.55 599.1,282.92 599.35,281.26 599.6,280.02 599.85,280.22 600.1,277.89 600.35,279.52 600.6,279.21 600.85,276.42 601.1,278.83 601.35,278.04 601.6,277.35 601.85,275.92 602.1,277.26 602.35,279.45 602.6,288.52 602.85,295.03 603.1,298.23 603.35,302.88 603.6,303.08 603.85,305.61 604.1,304.12 604.35,306.88 604.6,307.01 604.85,306.24 605.1,305.71 605.35,307.22 605.6,305.28 605.85,306.44 606.1,305.51 606.35,305.96 606.6,303.8 606.85,303.27 607.1,303.23 607.35,304.29 607.6,304.38 607.85,302.37 608.1,302.71 608.35,302.27 608.6,303.75 608.85,302.48 609.1,303.02 609.35,301.95 609.6,299.22 609.85,295.55 610.1,293.87 610.35,292.41 610.6,290.12 610.85,289.84 611.1,286.89 611.35,286.78 611.6,286.33 611.85,283.94 612.1,284.05 612.35,284.11 612.6,282.03 612.85,281.62 613.1,282.71 613.35,282.12 613.6,283.39 613.85,282.24 614.1,280.37 614.35,281.54 614.6,280.12 614.85,285.14 615.1,293.21 615.35,298.09 615.6,301.22 615.85,301.45 616.1,302.21 616.35,303.8 616.6,304.92 616.85,305.99 617.1,306.28 617.35,307.08 617.6,306.33 617.85,306.93 618.1,304.82 618.35,305.26 618.6,305.37 618.85,303.76 619.1,304.96 619.35,303.16 619.6,303.37 619.85,303.46 620.1,303.44 620.35,303.26 620.6,302.48 620.85,302.19 621.1,300.74 621.35,296.83 621.6,296.41 621.85,292.57 622.1,291.02 622.35,290.29 622.6,290.54 622.85,287.44 623.1,287.99 623.35,287.41 623.6,285.14 623.85,287 624.1,285.07 624.35,285.85 624.6,283.81 624.85,285.34 625.1,285.43 625.35,284.22 625.6,284.16 625.85,283.23 626.1,284.41 626.35,284.29 626.6,291.26 626.85,295.99 627.1,300.54 627.35,301.59 627.6,302.38 627.85,303.78 628.1,305.7 628.35,305.61 628.6,307 628.85,306.14 629.1,305.38 629.35,307.34 629.6,305.37 629.85,304.35 630.1,305.77 630.35,305.33 630.6,304.04 630.85,305.2 631.1,304.67 631.35,303.55 631.6,303.69 631.85,304.55 632.1,304.41 632.35,301.17 632.6,298.11 632.85,298.21 633.1,295.46 633.35,294.67 633.6,294.35 633.85,293.13 634.1,291.31 634.35,292.66 634.6,290.95 634.85,290.72 635.1,291.36 635.35,290.24 635.6,290.65 635.85,289.8 636.1,290.64 636.35,289.03 636.6,288.26 636.85,287.97 637.1,287.72 637.35,289.49 637.6,287.94 637.85,295.44 638.1,298.21 638.35,301.27 638.6,302.13 638.85,304.17 639.1,303.46 639.35,305.4 639.6,304.92 639.85,306.87 640.1,305.5 640.35,306.89 640.6,306.21 640.85,306.06 641.1,304.98 641.35,304.89 641.6,305.39 641.85,303.3 642.1,305.46 642.35,304.06 642.6,304.84 642.85,304.78 643.1,304.4 643.35,302.37 643.6,304.84 643.85,302.03 644.1,301.09 644.35,299.28 644.6,298.31 644.85,299.51 645.1,296.68 645.35,298.25 645.6,297.85 645.85,297.14 646.1,295.56 646.35,295.62 646.6,295.08 646.85,296.17 647.1,295.3 647.35,295.57 647.6,293.73 647.85,294.7 648.1,294.26 648.35,294.88 648.6,295.72 648.85,295.73 649.1,295.34 649.35,296.68 649.6,300.92 649.85,301.99 650.1,303.61 650.35,305.08 650.6,305.12 650.85,305.33 651.1,304.58 651.35,305.23 651.6,306.31 651.85,306.71 652.1,306.76 652.35,306.24 652.6,305.48 652.85,303.96 653.1,306.07 653.35,305.43 653.6,304.59 653.85,303.9 654.1,305.07 654.35,305.06 654.6,303.52 654.85,304.91 655.1,302.68 655.35,303.07 655.6,303.6 655.85,302.16 656.1,303.55 656.35,302.29 656.6,304.26 656.85,304.65 657.1,303.73 657.35,303.42 657.6,303.05 657.85,303.73 658.1,301.01 658.35,301.18 658.6,298.6 658.85,298.33 659.1,297.82 659.35,299.32 659.6,298.88 659.85,298.62 660.1,297.22 660.35,298.09 660.6,297.59 660.85,297.66 661.1,294.97 661.35,296.29 661.6,296.74 661.85,296.96 662.1,296.54 662.35,296.95 662.6,295.02 662.85,294.64 663.1,294.9 663.35,299.33 663.6,300.35 663.85,301.29 664.1,303.66 664.35,303.44 664.6,306.17 664.85,305.3 665.1,305.07 665.35,306.19 665.6,307.23 665.85,304.88 666.1,305.21 666.35,306.43 666.6,304.94 666.85,306.15 667.1,304.6 667.35,304.02 667.6,304.04 667.85,304.25 668.1,303.01 668.35,304 668.6,304.83 668.85,304.54" stroke="#111" stroke-width="0.8" fill="none" />
<polyline points="484.6,304.15 484.85,303 485.1,303 485.35,302.55 485.6,304.35 485.85,304.23 486.1,304.46 486.35,304.25 486.6,302.86 486.85,304.5 487.1,303.41 487.35,303.31 487.6,297.8 487.85,293.21 488.1,288.75 488.35,286.69 488.6,286.17 488.85,283.77 489.1,282.76 489.35,279.72 489.6,279.02 489.85,278.35 490.1,277.75 490.35,280.23 490.6,288.28 490.85,294.3 491.1,299.46 491.35,300.35 491.6,303.08 491.85,303.6 492.1,305.01 492.35,305.99 492.6,306.55 492.85,306.55 493.1,306.86 493.35,307.25 493.6,305.08 493.85,304.8 494.1,303.92 494.35,304.36 494.6,304.4 494.85,303.58 495.1,303.43 495.35,294.85 495.6,289.83 495.85,286.07 496.1,282.44 496.35,278.74 496.6,277.22 496.85,274.88 497.1,273.06 497.35,272.5 497.6,272.32 497.85,270.63 498.1,270.75 498.35,270.3 498.6,276.32 498.85,286.46 499.1,294.12 499.35,297.06 499.6,299.26 499.85,302.86 500.1,303.41 500.35,303.84 500.6,306.93 500.85,307.08 501.1,305.46 501.35,305.37 501.6,305.75 501.85,306.79 502.1,305.76 502.35,304.16 502.6,303.75 502.85,303.66 503.1,305.01 503.35,303.03 503.6,304.16 503.85,303.12 504.1,304.61 504.35,302.29 504.6,303.26 504.85,302.92 505.1,302.4 505.35,293.02 505.6,286.53 505.85,281.24 506.1,277.69 506.35,273.35 506.6,271.75 506.85,269.76 507.1,268.43 507.35,265.67 507.6,266.16 507.85,265 508.1,264.74 508.35,262.64 508.6,269.84 508.85,282.49 509.1,292 509.35,296.23 509.6,300.03 509.85,303.1 510.1,305 510.35,303.43 510.6,306.58 510.85,306.55 511.1,306.86 511.35,305.99 511.6,307.26 511.85,305.93 512.1,305.88 512.35,304.25 512.6,306.14 512.85,304.93 513.1,304.21 513.35,302.71 513.6,303.78 513.85,303.77 514.1,303.16 514.35,304.13 514.6,304.81 514.85,303.52 515.1,301.89 515.35,291.09 515.6,283.41 515.85,275.1 516.1,268.96 516.35,266.02 516.6,261.51 516.85,259.26 517.1,257.27 517.35,255.32 517.6,254.09 517.85,252.53 518.1,252.46 518.35,250.75 518.6,251 518.85,248.71 519.1,258.39 519.35,276.76 519.6,285.44 519.85,294.01 520.1,297.82 520.35,300.68 520.6,303.36 520.85,304.89 521.1,305.43 521.35,306.81 521.6,305.13 521.85,307.23 522.1,305.18 522.35,306.58 522.6,306.03 522.85,305.44 523.1,306.06 523.35,305.48 523.6,304.58 523.85,304.14 524.1,302.8 524.35,302.37 524.6,301.17 524.85,283.63 525.1,271.83 525.35,259.73 525.6,252.85 525.85,244.79 526.1,240.55 526.35,237.55 526.6,234.59 526.85,231.31 527.1,227.53 527.35,227.82 527.6,225.6 527.85,224.84 528.1,238.06 528.35,261.25 528.6,278.49 528.85,287.2 529.1,293.9 529.35,297.48 529.6,301.48 529.85,302.3 530.1,304.86 530.35,305.27 530.6,305.56 530.85,305.11 531.1,304.89 531.35,306.8 531.6,306.44 531.85,305.03 532.1,303.93 532.35,304.37 532.6,304.74 532.85,302.73 533.1,304.37 533.35,304.82 533.6,304.84 533.85,304.85 534.1,302.92 534.35,304.59 534.6,302.92 534.85,302.51 535.1,302.15 535.35,302.66 535.6,303.71 535.85,297.18 536.1,283.8 536.35,273.92 536.6,266.95 536.85,259.2 537.1,255.82 537.35,251.17 537.6,246.03 537.85,244.84 538.1,243.32 538.35,240.26 538.6,239.85 538.85,240.01 539.1,239.1 539.35,254.43 539.6,272.8 539.85,283.07 540.1,292.67 540.35,296.09 540.6,299.44 540.85,302.88 541.1,302.83 541.35,304.45 541.6,305.8 541.85,306.7 542.1,306.21 542.35,304.89 542.6,305.63 542.85,306.24 543.1,305.4 543.35,304.78 543.6,305.25 543.85,303.95 544.1,305.21 544.35,302.92 544.6,304.56 544.85,304.69 545.1,303.32 545.35,304.06 545.6,294.1 545.85,283.49 546.1,274.13 546.35,265.88 546.6,261.67 546.85,255.53 547.1,252.05 547.35,249.67 547.6,245.85 547.85,246.5 548.1,242.71 548.35,243.46 548.6,240.62 548.85,241.72 549.1,261.55 549.35,276.53 549.6,285.79 549.85,294.38 550.1,298.21 550.35,300.85 550.6,303.85 550.85,304.41 551.1,306.69 551.35,306.01 551.6,305.39 551.85,306.54 552.1,306.71 552.35,306.9 552.6,304.8 552.85,305.19 553.1,303.53 553.35,303.7 553.6,305.19 553.85,302.79 554.1,302.6 554.35,302.81 554.6,302.7 554.85,303.06 555.1,302.93 555.35,292.14 555.6,281.2 555.85,273.23 556.1,266.49 556.35,259.25 556.6,255.11 556.85,253 557.1,248.57 557.35,246.38 557.6,244.84 557.85,242.69 558.1,241.26 558.35,241.7 558.6,239.79 558.85,264.18 559.1,278.8 559.35,288.78 559.6,293.59 559.85,299.02 560.1,300.38 560.35,303.9 560.6,304.23 560.85,304.37 561.1,305.44 561.35,306.46 561.6,307.23 561.85,305.96 562.1,305.85 562.35,304.42 562.6,304.15 562.85,303.27 563.1,304.44 563.35,304.31 563.6,303.71 563.85,303.07 564.1,304.79 564.35,304.36 564.6,304.51 564.85,304 565.1,301.03 565.35,285.97 565.6,277.48 565.85,267.11 566.1,262.15 566.35,257.06 566.6,250.72 566.85,249.74 567.1,246.98 567.35,244.79 567.6,243.24 567.85,241.01 568.1,240.4 568.35,239.67 568.6,250.92 568.85,269.13 569.1,283.76 569.35,291.58 569.6,296.12 569.85,298.86 570.1,301.88 570.35,303.37 570.6,304.47 570.85,304.86 571.1,305.06 571.35,307.05 571.6,307.23 571.85,305.46 572.1,305.43 572.35,305.07 572.6,304.02 572.85,305.35 573.1,303.64 573.35,304.18 573.6,304.03 573.85,304.4 574.1,304.22 574.35,303.36 574.6,303.39 574.85,302.42 575.1,304.11 575.35,302.92 575.6,304.6 575.85,303.09 576.1,304.42 576.35,302.53 576.6,289.04 576.85,280.46 577.1,270.58 577.35,265.51 577.6,259.96 577.85,256.28 578.1,251.98 578.35,250.21 578.6,246.44 578.85,245.08 579.1,244.15 579.35,242.27 579.6,242.71 579.85,247.69 580.1,268.51 580.35,282.89 580.6,289.14 580.85,296.96 581.1,300.66 581.35,301.28 581.6,302.92 581.85,305.05 582.1,305.83 582.35,306.98 582.6,307.49 582.85,306.01 583.1,306.55 583.35,306.5 583.6,304.1 583.85,306.16 584.1,304.9 584.35,303.57 584.6,303.35 584.85,304.92 585.1,303.07 585.35,303.46 585.6,303.23 585.85,302.34 586.1,302.71 586.35,303.24 586.6,302.77 586.85,303.53 587.1,295.24 587.35,283.22 587.6,274.76 587.85,268.25 588.1,263.51 588.35,256.87 588.6,254.46 588.85,251.33 589.1,249.41 589.35,246.85 589.6,245.81 589.85,243.47 590.1,243.2 590.35,242.55 590.6,260.92 590.85,277.55 591.1,287.39 591.35,293.38 591.6,297.79 591.85,300.62 592.1,302.18 592.35,304.39 592.6,305.25 592.85,306.74 593.1,306.82 593.35,306.29 593.6,305.96 593.85,304.6 594.1,306.59 594.35,305.4 594.6,304 594.85,304.47 595.1,303.16 595.35,304.84 595.6,303.03 595.85,303.85 596.1,303.42 596.35,304.76 596.6,302.29 596.85,294.29 597.1,288.47 597.35,283.73 597.6,279.61 597.85,276.74 598.1,271.55 598.35,269.29 598.6,265.98 598.85,264.07 599.1,262.72 599.35,259.76 599.6,260.33 599.85,256.83 600.1,258.11 600.35,254.77 600.6,254.99 600.85,254.65 601.1,252.71 601.35,253.33 601.6,252.87 601.85,253.69 602.1,251.33 602.35,256.42 602.6,274.92 602.85,286.44 603.1,292.85 603.35,296.21 603.6,299.56 603.85,302.81 604.1,305.44 604.35,304.27 604.6,306.58 604.85,305.47 605.1,306.2 605.35,304.85 605.6,306.84 605.85,304.77 606.1,304.62 606.35,306.17 606.6,304.36 606.85,304.81 607.1,303.49 607.35,302.6 607.6,303.27 607.85,303.65 608.1,303.3 608.35,304.23 608.6,303.61 608.85,304.55 609.1,301.74 609.35,298.17 609.6,292.28 609.85,289.2 610.1,284.66 610.35,283.01 610.6,280.46 610.85,276.55 611.1,274.32 611.35,272.14 611.6,271.23 611.85,269.07 612.1,270.27 612.35,267.97 612.6,267.11 612.85,267.63 613.1,267.09 613.35,266.27 613.6,265.02 613.85,263.89 614.1,263.74 614.35,263.8 614.6,264.87 614.85,266.83 615.1,280.92 615.35,290.57 615.6,295.03 615.85,299.81 616.1,302.18 616.35,303.54 616.6,303.94 616.85,306.51 617.1,306.11 617.35,306.93 617.6,305.8 617.85,305.29 618.1,306.55 618.35,304.99 618.6,305.33 618.85,305.64 619.1,305.15 619.35,304.15 619.6,303.19 619.85,303.57 620.1,305.08 620.35,302.87 620.6,303.36 620.85,300.33 621.1,297.04 621.35,293.22 621.6,289.69 621.85,288.37 622.1,286.6 622.35,282.73 622.6,282.31 622.85,281.93 623.1,278.49 623.35,279.57 623.6,277.96 623.85,276.48 624.1,275.67 624.35,274.44 624.6,275.89 624.85,274.38 625.1,273.15 625.35,273.93 625.6,272.96 625.85,273.38 626.1,272.49 626.35,271.64 626.6,283.16 626.85,290.1 627.1,296.39 627.35,298.39 627.6,301.09 627.85,302.48 628.1,303.6 628.35,305.16 628.6,304.73 628.85,307.18 629.1,306.14 629.35,307.41 629.6,305.82 629.85,305.23 630.1,305.97 630.35,304.17 630.6,304.89 630.85,305.19 631.1,304.95 631.35,303.7 631.6,304.09 631.85,304.9 632.1,300.92 632.35,296.28 632.6,295.21 632.85,292.53 633.1,291.4 633.35,290.79 633.6,287.95 633.85,287.85 634.1,287.06 634.35,284.83 634.6,283.89 634.85,285.03 635.1,281.9 635.35,283.91 635.6,283.08 635.85,282.26 636.1,280.65 636.35,280.52 636.6,280.27 636.85,280.9 637.1,279.4 637.35,281.36 637.6,278.97 637.85,290.52 638.1,295.88 638.35,297.98 638.6,300.45 638.85,302.48 639.1,304.88 639.35,304.11 639.6,305.7 639.85,306.95 640.1,307.45 640.35,305.06 640.6,307.46 640.85,306.77 641.1,306.07 641.35,304.25 641.6,304.05 641.85,303.68 642.1,303.96 642.35,305.4 642.6,303.24 642.85,304.59 643.1,302.44 643.35,302.31 643.6,303.21 643.85,299.13 644.1,298.49 644.35,297.15 644.6,293.58 644.85,293.48 645.1,292.77 645.35,291.09 645.6,291.6 645.85,289.9 646.1,288.66 646.35,287.53 646.6,289.07 646.85,286.56 647.1,288.35 647.35,287.77 647.6,287.15 647.85,287.37 648.1,287.38 648.35,285.67 648.6,286.21 648.85,286.65 649.1,285.65 649.35,291.43 649.6,295.1 649.85,297.76 650.1,301.44 650.35,303.2 650.6,304.45 650.85,305.41 651.1,305.92 651.35,307 651.6,306.92 651.85,305.92 652.1,306.41 652.35,307.31 652.6,306.8 652.85,304.55 653.1,305.5 653.35,303.85 653.6,304.11 653.85,303.82 654.1,304.34 654.35,303.58 654.6,303.92 654.85,303.57 655.1,302.36 655.35,304.6 655.6,304.3 655.85,302.41 656.1,302.34 656.35,302.65 656.6,302.52 656.85,304.58 657.1,302.91 657.35,304.52 657.6,301.53 657.85,301.24 658.1,299.67 658.35,298.44 658.6,298.3 658.85,296.46 659.1,294.91 659.35,295.38 659.6,294.85 659.85,294.56 660.1,294.61 660.35,293.99 660.6,292.17 660.85,291.54 661.1,292.91 661.35,292.94 661.6,292.62 661.85,291.03 662.1,292.53 662.35,292.63 662.6,292.17 662.85,292.7 663.1,292.46 663.35,295.56 663.6,297.99 663.85,299.64 664.1,303.14 664.35,304.27 664.6,304.39 664.85,306.62 665.1,306.99 665.35,306.04 665.6,306.54 665.85,306.89 666.1,306.61 666.35,307.46 666.6,306.5 666.85,306.36 667.1,305.81 667.35,305.91 667.6,303.57 667.85,305.48 668.1,304.19 668.35,304.69 668.6,304.49 668.85,302.91" stroke="#e8202a" stroke-width="0.9" fill="none" />
<polyline points="484.6,303.61 484.85,303.36 485.1,302.51 485.35,303.58 485.6,303.48 485.85,303.3 486.1,304.23 486.35,303.47 486.6,303.2 486.85,302.57 487.1,303.9 487.35,303.15 487.6,303.41 487.85,301.53 488.1,301.62 488.35,302.98 488.6,300.65 488.85,300.57 489.1,301.18 489.35,301.18 489.6,302.16 489.85,302.41 490.1,301.15 490.35,302.24 490.6,302.16 490.85,302.23 491.1,302.9 491.35,302.05 491.6,302.25 491.85,301.45 492.1,302.32 492.35,302.15 492.6,302.57 492.85,302.28 493.1,302.84 493.35,303.33 493.6,301.72 493.85,301.78 494.1,302.2 494.35,302.48 494.6,303.08 494.85,303.01 495.1,302.63 495.35,302.93 495.6,301.12 495.85,301.81 496.1,300.63 496.35,301.57 496.6,300.13 496.85,300.29 497.1,302.18 497.35,301.62 497.6,299.92 497.85,300.89 498.1,299.65 498.35,300.96 498.6,301.8 498.85,300.76 499.1,300.65 499.35,302.04 499.6,302.66 499.85,302.26 500.1,300.94 500.35,301.56 500.6,303.18 500.85,303 501.1,303.44 501.35,303.63 501.6,302 501.85,303.52 502.1,302.7 502.35,303.02 502.6,303.68 502.85,302.47 503.1,303.91 503.35,302.76 503.6,304.03 503.85,303.35 504.1,303.87 504.35,303.68 504.6,301.67 504.85,301.72 505.1,302.59 505.35,300.98 505.6,302.32 505.85,301.69 506.1,300.44 506.35,300.78 506.6,301.9 506.85,299.71 507.1,301.41 507.35,301.21 507.6,299.93 507.85,300.89 508.1,300.91 508.35,301.37 508.6,301.42 508.85,300.56 509.1,301.62 509.35,301.02 509.6,301.77 509.85,301.77 510.1,300.77 510.35,302.03 510.6,301.96 510.85,301.41 511.1,303.12 511.35,303.3 511.6,301.64 511.85,301.93 512.1,303.34 512.35,303.55 512.6,302.33 512.85,301.92 513.1,303.71 513.35,302 513.6,302.2 513.85,302.89 514.1,303.35 514.35,303.89 514.6,303.59 514.85,301.05 515.1,302.39 515.35,301 515.6,301.77 515.85,300.22 516.1,300.54 516.35,301.06 516.6,301.17 516.85,299.76 517.1,301.15 517.35,300.67 517.6,299.8 517.85,299.03 518.1,299.51 518.35,300.22 518.6,298.68 518.85,300.29 519.1,300.85 519.35,300.62 519.6,300.54 519.85,301.73 520.1,301.72 520.35,301.52 520.6,301.26 520.85,302.48 521.1,302.13 521.35,301.06 521.6,300.99 521.85,301.88 522.1,301.92 522.35,302.28 522.6,303.41 522.85,303.74 523.1,303.86 523.35,301.86 523.6,302.41 523.85,301.64 524.1,302.87 524.35,300.59 524.6,300.21 524.85,298.97 525.1,299.35 525.35,297.26 525.6,298.96 525.85,297.47 526.1,296.68 526.35,295.99 526.6,296.1 526.85,295.94 527.1,295.52 527.35,295.05 527.6,296.2 527.85,295.28 528.1,295.01 528.35,295.8 528.6,297.5 528.85,297.22 529.1,297.59 529.35,298.75 529.6,299.06 529.85,300.02 530.1,299.91 530.35,300.17 530.6,301.7 530.85,300.66 531.1,300.07 531.35,300.56 531.6,301.1 531.85,302.07 532.1,301.43 532.35,301.93 532.6,302.39 532.85,301.58 533.1,303.45 533.35,301.99 533.6,303.76 533.85,302.51 534.1,302.86 534.35,303.51 534.6,302.48 534.85,303 535.1,302.45 535.35,301.04 535.6,301.97 535.85,302 536.1,300.85 536.35,299.55 536.6,300.29 536.85,300.04 537.1,298.04 537.35,298.36 537.6,298.64 537.85,297.4 538.1,298.54 538.35,297.6 538.6,298.55 538.85,297.89 539.1,296.92 539.35,296.97 539.6,297.58 539.85,299.21 540.1,299.18 540.35,300.2 540.6,300.97 540.85,300.45 541.1,299.95 541.35,300.19 541.6,300.75 541.85,300.41 542.1,302.17 542.35,302.59 542.6,302.1 542.85,302.65 543.1,302.92 543.35,302.58 543.6,302.19 543.85,302.59 544.1,303.1 544.35,301.96 544.6,301.7 544.85,302.51 545.1,302.73 545.35,302.25 545.6,299.77 545.85,301.25 546.1,299.3 546.35,299.27 546.6,299.57 546.85,298.18 547.1,299.73 547.35,299.25 547.6,298.32 547.85,299.16 548.1,297.14 548.35,298.4 548.6,298.51 548.85,298.63 549.1,297.71 549.35,298.66 549.6,298.71 549.85,299.08 550.1,299.11 550.35,299.11 550.6,300.06 550.85,301.48 551.1,301.09 551.35,302.02 551.6,302.62 551.85,301.74 552.1,301.35 552.35,302.75 552.6,302.68 552.85,302.64 553.1,301.93 553.35,302.45 553.6,302.33 553.85,302.08 554.1,303.01 554.35,302.15 554.6,301.32 554.85,302.57 555.1,300.04 555.35,300.02 555.6,300.96 555.85,299.82 556.1,299.08 556.35,298.11 556.6,299.09 556.85,298.41 557.1,297.48 557.35,297.49 557.6,296.99 557.85,297.97 558.1,297.41 558.35,298.34 558.6,297.04 558.85,297.38 559.1,298.3 559.35,298.59 559.6,300.18 559.85,298.96 560.1,299.12 560.35,299.44 560.6,300.74 560.85,300.41 561.1,301.73 561.35,300.57 561.6,300.88 561.85,302.23 562.1,303.01 562.35,302.31 562.6,302.18 562.85,301.79 563.1,302.55 563.35,303.71 563.6,301.98 563.85,303.79 564.1,302.14 564.35,303.5 564.6,302.42 564.85,300.75 565.1,301.71 565.35,301.21 565.6,299.93 565.85,299.08 566.1,298.48 566.35,298.54 566.6,297.69 566.85,298.52 567.1,297.26 567.35,299.1 567.6,298.63 567.85,297.78 568.1,298.22 568.35,297.09 568.6,297.48 568.85,298.29 569.1,298.03 569.35,299.14 569.6,300.12 569.85,300.32 570.1,299.57 570.35,299.74 570.6,301.62 570.85,300.37 571.1,300.31 571.35,301.55 571.6,301.61 571.85,302.64 572.1,302.01 572.35,302.22 572.6,302.1 572.85,303.56 573.1,301.46 573.35,302.61 573.6,302.96 573.85,302.1 574.1,302.72 574.35,302.95 574.6,302.54 574.85,304.04 575.1,302.99 575.35,303.32 575.6,302.09 575.85,301.42 576.1,302.29 576.35,301.23 576.6,301.53 576.85,300.36 577.1,299.08 577.35,298.53 577.6,299.21 577.85,299.31 578.1,299.36 578.35,298.15 578.6,297.25 578.85,298.94 579.1,297.28 579.35,298.92 579.6,298.41 579.85,298.37 580.1,297.85 580.35,299.19 580.6,299.56 580.85,299.35 581.1,300.92 581.35,299.8 581.6,301.51 581.85,300.88 582.1,301.74 582.35,302.08 582.6,301.51 582.85,301.91 583.1,302.22 583.35,302.28 583.6,302.14 583.85,303.13 584.1,303.13 584.35,302.24 584.6,302.31 584.85,302.65 585.1,301.98 585.35,302.6 585.6,302.09 585.85,303.6 586.1,302.47 586.35,301.87 586.6,300.97 586.85,301.74 587.1,301.21 587.35,299.33 587.6,300.56 587.85,298.38 588.1,298.32 588.35,299.79 588.6,299.3 588.85,297.95 589.1,298.84 589.35,299.05 589.6,297.19 589.85,298.01 590.1,297.04 590.35,298.48 590.6,298.28 590.85,298.14 591.1,300.16 591.35,300.16 591.6,299.42 591.85,299.24 592.1,299.42 592.35,301.69 592.6,301.04 592.85,300.68 593.1,301.49 593.35,301.25 593.6,302.58 593.85,303.01 594.1,303.07 594.35,303.36 594.6,302.28 594.85,302.47 595.1,302.44 595.35,303.44 595.6,303.11 595.85,302.83 596.1,301.14 596.35,300.59 596.6,300.55 596.85,302.32 597.1,302.23 597.35,300.02 597.6,301.02 597.85,300.18 598.1,301.08 598.35,300.65 598.6,300.43 598.85,300.53 599.1,300.05 599.35,301.33 599.6,299.65 599.85,299.25 600.1,300.72 600.35,300.03 600.6,299.31 600.85,300.03 601.1,300.47 601.35,300.5 601.6,299.64 601.85,300.76 602.1,298.68 602.35,298.94 602.6,299.54 602.85,299.51 603.1,300.34 603.35,301.14 603.6,300.93 603.85,301.38 604.1,300.46 604.35,301.06 604.6,302.5 604.85,301.13 605.1,301.65 605.35,301.69 605.6,301.72 605.85,302.77 606.1,301.72 606.35,301.84 606.6,302.34 606.85,302.24 607.1,302.31 607.35,303.2 607.6,302.51 607.85,304.01 608.1,303.09 608.35,302.53 608.6,303.36 608.85,302.33 609.1,301.46 609.35,301.3 609.6,302.03 609.85,300.21 610.1,300.7 610.35,301.32 610.6,300.44 610.85,300.52 611.1,300.49 611.35,300.72 611.6,299.2 611.85,299.94 612.1,299.72 612.35,299.5 612.6,298.92 612.85,301.08 613.1,299.64 613.35,299.3 613.6,300.37 613.85,299.98 614.1,300.75 614.35,300.37 614.6,299.91 614.85,300.61 615.1,300.62 615.35,299.42 615.6,300.55 615.85,300.92 616.1,300.09 616.35,301.24 616.6,300.45 616.85,301.46 617.1,301.22 617.35,303.08 617.6,302 617.85,301.74 618.1,303.52 618.35,301.55 618.6,303.44 618.85,302.79 619.1,303.57 619.35,302.88 619.6,302.4 619.85,303.44 620.1,301.14 620.35,302.14 620.6,301.69 620.85,301.33 621.1,301.7 621.35,301.72 621.6,300.71 621.85,300.79 622.1,301.3 622.35,300.17 622.6,301.04 622.85,301.59 623.1,300.96 623.35,301.34 623.6,300.99 623.85,299.52 624.1,300.3 624.35,299.05 624.6,299.33 624.85,300.9 625.1,298.66 625.35,298.72 625.6,300.7 625.85,298.72 626.1,299.79 626.35,299.64 626.6,298.78 626.85,300.82 627.1,300.48 627.35,299.8 627.6,300.56 627.85,301.38 628.1,300.4 628.35,300.97 628.6,301.63 628.85,302.93 629.1,301.88 629.35,302.4 629.6,303.1 629.85,303.56 630.1,302.54 630.35,303.57 630.6,302.9 630.85,302.19 631.1,302.5 631.35,302.78 631.6,301.88 631.85,302.11 632.1,301.14 632.35,301.59 632.6,300.39 632.85,300.38 633.1,300.79 633.35,301.85 633.6,302.05 633.85,300.16 634.1,300.33 634.35,300.63 634.6,301.19 634.85,301.33 635.1,300.31 635.35,300.54 635.6,300.42 635.85,300.28 636.1,299.96 636.35,301.23 636.6,301.06 636.85,299.32 637.1,299.44 637.35,299.5 637.6,301.42 637.85,301.67 638.1,301.46 638.35,301.34 638.6,301.1 638.85,302.52 639.1,301.68 639.35,302.93 639.6,303.05 639.85,301.81 640.1,302.22 640.35,302.15 640.6,302.85 640.85,302.69 641.1,303.4 641.35,303.16 641.6,302.29 641.85,302.14 642.1,303.97 642.35,303.79 642.6,302.05 642.85,302.34 643.1,301.88 643.35,303.06 643.6,302.46 643.85,302.75 644.1,301.37 644.35,302.31 644.6,301.57 644.85,300.71 645.1,302.19 645.35,301.6 645.6,301.08 645.85,300.62 646.1,301.72 646.35,301.8 646.6,302.39 646.85,300.54 647.1,302.36 647.35,302.31 647.6,301.16 647.85,301.31 648.1,300.81 648.35,301.69 648.6,300.55 648.85,302.16 649.1,301.82 649.35,300.9 649.6,302.46 649.85,302.14 650.1,301.33 650.35,301.56 650.6,302.66 650.85,303.11 651.1,302.73 651.35,301.98 651.6,302.91 651.85,303.57 652.1,302.27 652.35,302.67 652.6,301.92 652.85,301.93 653.1,302.04 653.35,303.2 653.6,302.39 653.85,303.59 654.1,303.59 654.35,303.43 654.6,302.22 654.85,302.33 655.1,303.86 655.35,303.62 655.6,303.63 655.85,303.65 656.1,303.59 656.35,303.53 656.6,303.83 656.85,302.84 657.1,302.17 657.35,302.66 657.6,301.86 657.85,302.4 658.1,303.21 658.35,301.77 658.6,301.41 658.85,302.73 659.1,303.27 659.35,302.05 659.6,301.93 659.85,301.82 660.1,300.84 660.35,301.53 660.6,301.13 660.85,302.82 661.1,301.66 661.35,301.06 661.6,302.67 661.85,302.65 662.1,301.1 662.35,300.69 662.6,302.57 662.85,301.27 663.1,302.39 663.35,301.09 663.6,301.49 663.85,302.59 664.1,302.79 664.35,301.65 664.6,302.34 664.85,301.88 665.1,302.83 665.35,303.05 665.6,301.66 665.85,302.42 666.1,302.9 666.35,302.86 666.6,302.49 666.85,302.56 667.1,302.12 667.35,303.34 667.6,302.41 667.85,302.81 668.1,302.4 668.35,302.54 668.6,302.5 668.85,302.39" stroke="#2c58b8" stroke-width="0.9" fill="none" />
<rect x="484" y="187.3" width="185.3" height="136.1" fill="none" stroke="#2e2e2e" stroke-width="1.2" />
<line x1="484" y1="322.9" x2="481.4" y2="322.9" stroke="#333" stroke-width="0.9" />
<text x="477.4" y="326.2" font-size="9.2" font-weight="normal" fill="#2e2323" text-anchor="end" font-family="Liberation Sans" >0.5</text>
<line x1="484" y1="303.5" x2="481.4" y2="303.5" stroke="#333" stroke-width="0.9" />
<text x="477.4" y="306.8" font-size="9.2" font-weight="normal" fill="#2e2323" text-anchor="end" font-family="Liberation Sans" >1.0</text>
<line x1="484" y1="284.1" x2="481.4" y2="284.1" stroke="#333" stroke-width="0.9" />
<text x="477.4" y="287.4" font-size="9.2" font-weight="normal" fill="#2e2323" text-anchor="end" font-family="Liberation Sans" >1.5</text>
<line x1="484" y1="264.7" x2="481.4" y2="264.7" stroke="#333" stroke-width="0.9" />
<text x="477.4" y="268" font-size="9.2" font-weight="normal" fill="#2e2323" text-anchor="end" font-family="Liberation Sans" >2.0</text>
<line x1="484" y1="245.3" x2="481.4" y2="245.3" stroke="#333" stroke-width="0.9" />
<text x="477.4" y="248.6" font-size="9.2" font-weight="normal" fill="#2e2323" text-anchor="end" font-family="Liberation Sans" >2.5</text>
<line x1="484" y1="225.9" x2="481.4" y2="225.9" stroke="#333" stroke-width="0.9" />
<text x="477.4" y="229.2" font-size="9.2" font-weight="normal" fill="#2e2323" text-anchor="end" font-family="Liberation Sans" >3.0</text>
<line x1="484" y1="206.5" x2="481.4" y2="206.5" stroke="#333" stroke-width="0.9" />
<text x="477.4" y="209.8" font-size="9.2" font-weight="normal" fill="#2e2323" text-anchor="end" font-family="Liberation Sans" >3.5</text>
<line x1="484" y1="187.1" x2="481.4" y2="187.1" stroke="#333" stroke-width="0.9" />
<text x="477.4" y="190.4" font-size="9.2" font-weight="normal" fill="#2e2323" text-anchor="end" font-family="Liberation Sans" >4.0</text>
<line x1="484" y1="313.2" x2="482.5" y2="313.2" stroke="#333" stroke-width="0.9" />
<line x1="484" y1="293.8" x2="482.5" y2="293.8" stroke="#333" stroke-width="0.9" />
<line x1="484" y1="274.4" x2="482.5" y2="274.4" stroke="#333" stroke-width="0.9" />
<line x1="484" y1="255" x2="482.5" y2="255" stroke="#333" stroke-width="0.9" />
<line x1="484" y1="235.6" x2="482.5" y2="235.6" stroke="#333" stroke-width="0.9" />
<line x1="484" y1="216.2" x2="482.5" y2="216.2" stroke="#333" stroke-width="0.9" />
<line x1="484" y1="196.8" x2="482.5" y2="196.8" stroke="#333" stroke-width="0.9" />
<line x1="484.5" y1="323.4" x2="484.5" y2="326" stroke="#333" stroke-width="0.9" />
<text x="0" y="0" font-size="8.8" fill="#2e2323" text-anchor="end" font-family="Liberation Sans" transform="translate(489.8,331) rotate(-45)">0</text>
<line x1="497.68" y1="323.4" x2="497.68" y2="326" stroke="#333" stroke-width="0.9" />
<text x="0" y="0" font-size="8.8" fill="#2e2323" text-anchor="end" font-family="Liberation Sans" transform="translate(502.98,331) rotate(-45)">100</text>
<line x1="510.86" y1="323.4" x2="510.86" y2="326" stroke="#333" stroke-width="0.9" />
<text x="0" y="0" font-size="8.8" fill="#2e2323" text-anchor="end" font-family="Liberation Sans" transform="translate(516.16,331) rotate(-45)">200</text>
<line x1="524.04" y1="323.4" x2="524.04" y2="326" stroke="#333" stroke-width="0.9" />
<text x="0" y="0" font-size="8.8" fill="#2e2323" text-anchor="end" font-family="Liberation Sans" transform="translate(529.34,331) rotate(-45)">300</text>
<line x1="537.22" y1="323.4" x2="537.22" y2="326" stroke="#333" stroke-width="0.9" />
<text x="0" y="0" font-size="8.8" fill="#2e2323" text-anchor="end" font-family="Liberation Sans" transform="translate(542.52,331) rotate(-45)">400</text>
<line x1="550.4" y1="323.4" x2="550.4" y2="326" stroke="#333" stroke-width="0.9" />
<text x="0" y="0" font-size="8.8" fill="#2e2323" text-anchor="end" font-family="Liberation Sans" transform="translate(555.7,331) rotate(-45)">500</text>
<line x1="563.58" y1="323.4" x2="563.58" y2="326" stroke="#333" stroke-width="0.9" />
<text x="0" y="0" font-size="8.8" fill="#2e2323" text-anchor="end" font-family="Liberation Sans" transform="translate(568.88,331) rotate(-45)">600</text>
<line x1="576.76" y1="323.4" x2="576.76" y2="326" stroke="#333" stroke-width="0.9" />
<text x="0" y="0" font-size="8.8" fill="#2e2323" text-anchor="end" font-family="Liberation Sans" transform="translate(582.06,331) rotate(-45)">700</text>
<line x1="589.94" y1="323.4" x2="589.94" y2="326" stroke="#333" stroke-width="0.9" />
<text x="0" y="0" font-size="8.8" fill="#2e2323" text-anchor="end" font-family="Liberation Sans" transform="translate(595.24,331) rotate(-45)">800</text>
<line x1="603.12" y1="323.4" x2="603.12" y2="326" stroke="#333" stroke-width="0.9" />
<text x="0" y="0" font-size="8.8" fill="#2e2323" text-anchor="end" font-family="Liberation Sans" transform="translate(608.42,331) rotate(-45)">900</text>
<line x1="616.3" y1="323.4" x2="616.3" y2="326" stroke="#333" stroke-width="0.9" />
<text x="0" y="0" font-size="8.8" fill="#2e2323" text-anchor="end" font-family="Liberation Sans" transform="translate(621.6,331) rotate(-45)">1000</text>
<line x1="629.48" y1="323.4" x2="629.48" y2="326" stroke="#333" stroke-width="0.9" />
<text x="0" y="0" font-size="8.8" fill="#2e2323" text-anchor="end" font-family="Liberation Sans" transform="translate(634.78,331) rotate(-45)">1100</text>
<line x1="642.66" y1="323.4" x2="642.66" y2="326" stroke="#333" stroke-width="0.9" />
<text x="0" y="0" font-size="8.8" fill="#2e2323" text-anchor="end" font-family="Liberation Sans" transform="translate(647.96,331) rotate(-45)">1200</text>
<line x1="655.84" y1="323.4" x2="655.84" y2="326" stroke="#333" stroke-width="0.9" />
<text x="0" y="0" font-size="8.8" fill="#2e2323" text-anchor="end" font-family="Liberation Sans" transform="translate(661.14,331) rotate(-45)">1300</text>
<line x1="669.02" y1="323.4" x2="669.02" y2="326" stroke="#333" stroke-width="0.9" />
<text x="0" y="0" font-size="8.8" fill="#2e2323" text-anchor="end" font-family="Liberation Sans" transform="translate(674.32,331) rotate(-45)">1400</text>
<line x1="491.09" y1="323.4" x2="491.09" y2="324.9" stroke="#333" stroke-width="0.9" />
<line x1="504.27" y1="323.4" x2="504.27" y2="324.9" stroke="#333" stroke-width="0.9" />
<line x1="517.45" y1="323.4" x2="517.45" y2="324.9" stroke="#333" stroke-width="0.9" />
<line x1="530.63" y1="323.4" x2="530.63" y2="324.9" stroke="#333" stroke-width="0.9" />
<line x1="543.81" y1="323.4" x2="543.81" y2="324.9" stroke="#333" stroke-width="0.9" />
<line x1="556.99" y1="323.4" x2="556.99" y2="324.9" stroke="#333" stroke-width="0.9" />
<line x1="570.17" y1="323.4" x2="570.17" y2="324.9" stroke="#333" stroke-width="0.9" />
<line x1="583.35" y1="323.4" x2="583.35" y2="324.9" stroke="#333" stroke-width="0.9" />
<line x1="596.53" y1="323.4" x2="596.53" y2="324.9" stroke="#333" stroke-width="0.9" />
<line x1="609.71" y1="323.4" x2="609.71" y2="324.9" stroke="#333" stroke-width="0.9" />
<line x1="622.89" y1="323.4" x2="622.89" y2="324.9" stroke="#333" stroke-width="0.9" />
<line x1="636.07" y1="323.4" x2="636.07" y2="324.9" stroke="#333" stroke-width="0.9" />
<line x1="649.25" y1="323.4" x2="649.25" y2="324.9" stroke="#333" stroke-width="0.9" />
<line x1="662.43" y1="323.4" x2="662.43" y2="324.9" stroke="#333" stroke-width="0.9" />
<text x="579" y="354.4" font-size="8.6" font-weight="bold" fill="#2e2323" text-anchor="middle" font-family="Liberation Sans" >Time (s)</text>
<text x="0" y="0" font-size="8.6" font-weight="bold" fill="#2e2323" text-anchor="middle" font-family="Liberation Sans" transform="translate(455.5,260.3) rotate(-90)" textLength="74" lengthAdjust="spacingAndGlyphs">Response (R<tspan dy="2" font-size="5.8">a</tspan><tspan dy="-2">/R</tspan><tspan dy="2" font-size="5.8">g</tspan><tspan dy="-2">)</tspan></text>
<text x="489.1" y="275.5" font-size="8.4" font-weight="normal" fill="#2e2323" text-anchor="middle" font-family="Liberation Sans" >1</text>
<text x="499" y="266.8" font-size="8.4" font-weight="normal" fill="#2e2323" text-anchor="middle" font-family="Liberation Sans" >2</text>
<text x="510.8" y="258.9" font-size="8.4" font-weight="normal" fill="#2e2323" text-anchor="middle" font-family="Liberation Sans" >3</text>
<text x="519" y="246.5" font-size="8.4" font-weight="normal" fill="#2e2323" text-anchor="middle" font-family="Liberation Sans" >6</text>
<text x="528" y="222.1" font-size="8.4" font-weight="normal" fill="#2e2323" text-anchor="middle" font-family="Liberation Sans" >20</text>
<text x="559.8" y="230.2" font-size="8.4" font-weight="normal" fill="#2e2323" text-anchor="middle" font-family="Liberation Sans" >10</text>
<text x="602.9" y="247.8" font-size="8.4" font-weight="normal" fill="#2e2323" text-anchor="middle" font-family="Liberation Sans" >6</text>
<text x="618" y="262.4" font-size="8.4" font-weight="normal" fill="#2e2323" text-anchor="middle" font-family="Liberation Sans" >3</text>
<text x="628.8" y="273.9" font-size="8.4" font-weight="normal" fill="#2e2323" text-anchor="middle" font-family="Liberation Sans" >2</text>
<text x="638.2" y="278.9" font-size="8.4" font-weight="normal" fill="#2e2323" text-anchor="middle" font-family="Liberation Sans" >1</text>
<text x="649.3" y="284.5" font-size="8.4" font-weight="normal" fill="#2e2323" text-anchor="middle" font-family="Liberation Sans" >0.5</text>
<text x="662.1" y="290.5" font-size="8.4" font-weight="normal" fill="#2e2323" text-anchor="middle" font-family="Liberation Sans" >0.1</text>
<line x1="607" y1="191.9" x2="624.2" y2="191.9" stroke="#6a8ad0" stroke-width="1" />
<text x="628.4" y="195.1" font-size="9" fill="#2e2323" font-family="Liberation Sans">SnO<tspan dy="2.3" font-size="6">2</tspan><tspan dy="-2.3"></tspan></text>
<line x1="607" y1="203.4" x2="624.2" y2="203.4" stroke="#222" stroke-width="1" />
<text x="628.4" y="206.6" font-size="9" fill="#2e2323" font-family="Liberation Sans">SnO<tspan dy="2.3" font-size="6">2</tspan><tspan dy="-2.3">-D3</tspan></text>
<line x1="607" y1="214.3" x2="624.2" y2="214.3" stroke="#e8202a" stroke-width="1" />
<text x="628.4" y="217.5" font-size="9" fill="#2e2323" font-family="Liberation Sans">SnO<tspan dy="2.3" font-size="6">2</tspan><tspan dy="-2.3">-D4</tspan></text>
<line x1="607" y1="225.3" x2="624.2" y2="225.3" stroke="#c040a8" stroke-width="1" />
<text x="628.4" y="228.5" font-size="9" fill="#2e2323" font-family="Liberation Sans">SnO<tspan dy="2.3" font-size="6">2</tspan><tspan dy="-2.3">-D5</tspan></text>
<text x="648.5" y="241.8" font-size="8.6" font-weight="normal" fill="#2e2323" text-anchor="middle" font-family="Liberation Sans" >Unit:ppm</text>
<text x="446.6" y="194.2" font-size="15" font-weight="bold" fill="#231a1a" text-anchor="start" font-family="Liberation Sans" >f</text>
<defs>
<radialGradient id="gball" cx="0.35" cy="0.35" r="0.65"><stop offset="0" stop-color="#7ee08a"/><stop offset="0.5" stop-color="#2ea844"/><stop offset="1" stop-color="#1a6a2a"/></radialGradient>
<radialGradient id="rball" cx="0.35" cy="0.35" r="0.65"><stop offset="0" stop-color="#d05060"/><stop offset="0.5" stop-color="#9a1a2a"/><stop offset="1" stop-color="#5a0a14"/></radialGradient>
<radialGradient id="bball" cx="0.35" cy="0.35" r="0.65"><stop offset="0" stop-color="#a07050"/><stop offset="0.5" stop-color="#6a3a22"/><stop offset="1" stop-color="#3a1e10"/></radialGradient>
<pattern id="dots" x="0" y="0" width="4" height="4" patternUnits="userSpaceOnUse"><circle cx="1" cy="1" r="0.45" fill="#ffffff"/><circle cx="3" cy="3.2" r="0.4" fill="#ffffff" fill-opacity="0.8"/></pattern>
</defs>
<circle cx="83.7" cy="398.6" r="2.9" fill="url(#gball)" stroke="none" stroke-width="1" />
<circle cx="90.7" cy="395.9" r="2.9" fill="url(#gball)" stroke="none" stroke-width="1" />
<circle cx="96.8" cy="395.8" r="2.9" fill="url(#gball)" stroke="none" stroke-width="1" />
<circle cx="102.9" cy="397.7" r="2.9" fill="url(#gball)" stroke="none" stroke-width="1" />
<circle cx="79.3" cy="403.6" r="2.9" fill="url(#gball)" stroke="none" stroke-width="1" />
<circle cx="92.4" cy="401.5" r="2.9" fill="url(#gball)" stroke="none" stroke-width="1" />
<circle cx="100.3" cy="401.5" r="2.9" fill="url(#gball)" stroke="none" stroke-width="1" />
<circle cx="107.3" cy="402.9" r="2.9" fill="url(#gball)" stroke="none" stroke-width="1" />
<circle cx="88" cy="406.8" r="2.9" fill="url(#gball)" stroke="none" stroke-width="1" />
<circle cx="95.9" cy="406.8" r="2.9" fill="url(#gball)" stroke="none" stroke-width="1" />
<circle cx="103.4" cy="406.8" r="2.9" fill="url(#gball)" stroke="none" stroke-width="1" />
<circle cx="81.9" cy="410.3" r="2.9" fill="url(#gball)" stroke="none" stroke-width="1" />
<circle cx="92.4" cy="412" r="2.9" fill="url(#gball)" stroke="none" stroke-width="1" />
<circle cx="100.3" cy="412.4" r="2.9" fill="url(#gball)" stroke="none" stroke-width="1" />
<circle cx="127.4" cy="398.9" r="2.9" fill="url(#rball)" stroke="none" stroke-width="1" />
<circle cx="133.9" cy="396.3" r="2.9" fill="url(#rball)" stroke="none" stroke-width="1" />
<circle cx="140.2" cy="395.9" r="2.9" fill="url(#rball)" stroke="none" stroke-width="1" />
<circle cx="146.2" cy="397.7" r="2.9" fill="url(#rball)" stroke="none" stroke-width="1" />
<circle cx="123.1" cy="404.2" r="2.9" fill="url(#rball)" stroke="none" stroke-width="1" />
<circle cx="135.3" cy="401.5" r="2.9" fill="url(#rball)" stroke="none" stroke-width="1" />
<circle cx="143.2" cy="401.9" r="2.9" fill="url(#rball)" stroke="none" stroke-width="1" />
<circle cx="150.6" cy="403.3" r="2.9" fill="url(#rball)" stroke="none" stroke-width="1" />
<circle cx="131" cy="406.8" r="2.9" fill="url(#rball)" stroke="none" stroke-width="1" />
<circle cx="138.8" cy="406.8" r="2.9" fill="url(#rball)" stroke="none" stroke-width="1" />
<circle cx="146.4" cy="407.1" r="2.9" fill="url(#rball)" stroke="none" stroke-width="1" />
<circle cx="125.2" cy="410.3" r="2.9" fill="url(#rball)" stroke="none" stroke-width="1" />
<circle cx="135.7" cy="412" r="2.9" fill="url(#rball)" stroke="none" stroke-width="1" />
<circle cx="143.7" cy="412" r="2.9" fill="url(#rball)" stroke="none" stroke-width="1" />
<circle cx="112" cy="418.6" r="2.3" fill="url(#bball)" stroke="none" stroke-width="1" />
<circle cx="116" cy="418" r="2.3" fill="url(#bball)" stroke="none" stroke-width="1" />
<circle cx="120" cy="418.8" r="2.3" fill="url(#bball)" stroke="none" stroke-width="1" />
<circle cx="111.2" cy="423" r="2.3" fill="url(#bball)" stroke="none" stroke-width="1" />
<circle cx="115.8" cy="421.8" r="2.3" fill="url(#bball)" stroke="none" stroke-width="1" />
<circle cx="120.4" cy="423.6" r="2.3" fill="url(#bball)" stroke="none" stroke-width="1" />
<circle cx="113.8" cy="427" r="2.3" fill="url(#bball)" stroke="none" stroke-width="1" />
<circle cx="118.8" cy="429" r="2.3" fill="url(#bball)" stroke="none" stroke-width="1" />
<text x="115.2" y="404.2" font-size="10" font-weight="bold" fill="#333" text-anchor="middle" font-family="Liberation Sans" >+</text>
<text x="68.3" y="389.3" font-size="7.3" font-weight="bold" fill="#8c1a3c" font-family="Liberation Sans">Zn(NO<tspan dy="1.6" font-size="4.8">3</tspan><tspan dy="-1.6">)</tspan><tspan dy="1.6" font-size="4.8">2</tspan><tspan dy="-1.6">·6H</tspan><tspan dy="1.6" font-size="4.8">2</tspan><tspan dy="-1.6">O</tspan></text>
<text x="137.3" y="391" font-size="7.5" font-weight="bold" fill="#1f8a4a" text-anchor="middle" font-family="Liberation Sans" >NaOH</text>
<text x="117.2" y="437.4" font-size="7.3" font-weight="bold" fill="#a860b8" text-anchor="middle" font-family="Liberation Sans" >HMTA</text>
<text x="107.3" y="447.1" font-size="7.6" font-weight="bold" fill="#8c1a3c" text-anchor="end" font-family="Liberation Sans" >Hydrothermal</text>
<text x="112.6" y="447.1" font-size="7.6" font-weight="bold" fill="#8c1a3c" text-anchor="start" font-family="Liberation Sans"  textLength="39.2" lengthAdjust="spacingAndGlyphs">150°C, 12 h</text>
<line x1="110.3" y1="439.5" x2="110.3" y2="463" stroke="#2b3d8c" stroke-width="1.9" />
<line x1="29.2" y1="449.6" x2="184.6" y2="449.6" stroke="#2b3d8c" stroke-width="1.9" />
<line x1="29.8" y1="449.6" x2="29.8" y2="463" stroke="#2b3d8c" stroke-width="1.9" />
<polygon points="26.5,461.5 33.1,461.5 29.8,467.5" stroke="none" stroke-width="1" fill="#2b3d8c" />
<line x1="110.3" y1="449.6" x2="110.3" y2="463" stroke="#2b3d8c" stroke-width="1.9" />
<polygon points="107,461.5 113.6,461.5 110.3,467.5" stroke="none" stroke-width="1" fill="#2b3d8c" />
<line x1="184.3" y1="449.6" x2="184.3" y2="463" stroke="#2b3d8c" stroke-width="1.9" />
<polygon points="181,461.5 187.6,461.5 184.3,467.5" stroke="none" stroke-width="1" fill="#2b3d8c" />
<text x="33.1" y="459.6" font-size="7.6" font-weight="bold" fill="#e0283a" text-anchor="start" font-family="Liberation Sans"  textLength="33.5" lengthAdjust="spacingAndGlyphs">400°C/4 h</text>
<text x="113.4" y="459.6" font-size="7.6" font-weight="bold" fill="#e0283a" text-anchor="start" font-family="Liberation Sans"  textLength="33.5" lengthAdjust="spacingAndGlyphs">600°C/4 h</text>
<text x="186.5" y="459.6" font-size="7.6" font-weight="bold" fill="#e0283a" text-anchor="start" font-family="Liberation Sans"  textLength="33.5" lengthAdjust="spacingAndGlyphs">800°C/4 h</text>
<polygon points="19.4,467.7 27.1,468.2 67.2,477.7 68.3,478.9 77.8,494.2 55.4,495.3 57.7,498.9 44.8,500.1 22.4,516.6 20.6,507.1 17.7,505.9 1.8,504.2 9.4,489.5 9.4,472.4 19.4,471.8" stroke="none" stroke-width="1" fill="#3f55b0" />
<polygon points="12,488 30,482 55,490 48,498 25,500" stroke="none" stroke-width="1" fill="#7a70b8" fill-opacity="0.45"/>
<clipPath id="f1clip"><polygon points="19.4,467.7 27.1,468.2 67.2,477.7 68.3,478.9 77.8,494.2 55.4,495.3 57.7,498.9 44.8,500.1 22.4,516.6 20.6,507.1 17.7,505.9 1.8,504.2 9.4,489.5 9.4,472.4 19.4,471.8" stroke="none" stroke-width="1" fill="#333" /></clipPath><g clip-path="url(#f1clip)">
<circle cx="25.94" cy="474.54" r="0.65" fill="#ffffff" stroke="none" stroke-width="1" fill-opacity="0.9"/>
<circle cx="4.72" cy="508.06" r="0.45" fill="#ffffff" stroke="none" stroke-width="1" fill-opacity="0.9"/>
<circle cx="29.16" cy="469.9" r="0.65" fill="#ffffff" stroke="none" stroke-width="1" fill-opacity="0.9"/>
<circle cx="17.53" cy="471.3" r="0.55" fill="#ffffff" stroke="none" stroke-width="1" fill-opacity="0.9"/>
<circle cx="6.38" cy="471.54" r="0.55" fill="#ffffff" stroke="none" stroke-width="1" fill-opacity="0.9"/>
<circle cx="5.55" cy="495.27" r="0.45" fill="#ffffff" stroke="none" stroke-width="1" fill-opacity="0.9"/>
<circle cx="49.56" cy="496.15" r="0.45" fill="#ffffff" stroke="none" stroke-width="1" fill-opacity="0.9"/>
<circle cx="45.44" cy="486.83" r="0.45" fill="#ffffff" stroke="none" stroke-width="1" fill-opacity="0.9"/>
<circle cx="4.59" cy="509.92" r="0.55" fill="#ffffff" stroke="none" stroke-width="1" fill-opacity="0.9"/>
<circle cx="33.27" cy="494.03" r="0.65" fill="#ffffff" stroke="none" stroke-width="1" fill-opacity="0.9"/>
<circle cx="24.75" cy="507.81" r="0.45" fill="#ffffff" stroke="none" stroke-width="1" fill-opacity="0.9"/>
<circle cx="8.94" cy="495.56" r="0.45" fill="#ffffff" stroke="none" stroke-width="1" fill-opacity="0.9"/>
<circle cx="29.67" cy="494.39" r="0.45" fill="#ffffff" stroke="none" stroke-width="1" fill-opacity="0.9"/>
<circle cx="44.46" cy="497.95" r="0.55" fill="#ffffff" stroke="none" stroke-width="1" fill-opacity="0.9"/>
<circle cx="53.39" cy="488.38" r="0.55" fill="#ffffff" stroke="none" stroke-width="1" fill-opacity="0.9"/>
<circle cx="36.85" cy="513.17" r="0.55" fill="#ffffff" stroke="none" stroke-width="1" fill-opacity="0.9"/>
<circle cx="24.08" cy="506.72" r="0.65" fill="#ffffff" stroke="none" stroke-width="1" fill-opacity="0.9"/>
<circle cx="61.05" cy="471.09" r="0.55" fill="#ffffff" stroke="none" stroke-width="1" fill-opacity="0.9"/>
<circle cx="41.44" cy="510.76" r="0.65" fill="#ffffff" stroke="none" stroke-width="1" fill-opacity="0.9"/>
<circle cx="35.56" cy="497.45" r="0.45" fill="#ffffff" stroke="none" stroke-width="1" fill-opacity="0.9"/>
<circle cx="10.09" cy="487.91" r="0.55" fill="#ffffff" stroke="none" stroke-width="1" fill-opacity="0.9"/>
<circle cx="12.7" cy="491.45" r="0.45" fill="#ffffff" stroke="none" stroke-width="1" fill-opacity="0.9"/>
<circle cx="75.08" cy="470.88" r="0.65" fill="#ffffff" stroke="none" stroke-width="1" fill-opacity="0.9"/>
<circle cx="45.12" cy="510.77" r="0.55" fill="#ffffff" stroke="none" stroke-width="1" fill-opacity="0.9"/>
<circle cx="27.19" cy="484.51" r="0.55" fill="#ffffff" stroke="none" stroke-width="1" fill-opacity="0.9"/>
<circle cx="45.65" cy="489.81" r="0.45" fill="#ffffff" stroke="none" stroke-width="1" fill-opacity="0.9"/>
<circle cx="73.74" cy="490.7" r="0.65" fill="#ffffff" stroke="none" stroke-width="1" fill-opacity="0.9"/>
<circle cx="6" cy="503.56" r="0.55" fill="#ffffff" stroke="none" stroke-width="1" fill-opacity="0.9"/>
<circle cx="50.83" cy="516.65" r="0.55" fill="#ffffff" stroke="none" stroke-width="1" fill-opacity="0.9"/>
<circle cx="22.91" cy="486.29" r="0.65" fill="#ffffff" stroke="none" stroke-width="1" fill-opacity="0.9"/>
<circle cx="27.72" cy="514.03" r="0.55" fill="#ffffff" stroke="none" stroke-width="1" fill-opacity="0.9"/>
<circle cx="13.94" cy="472.85" r="0.45" fill="#ffffff" stroke="none" stroke-width="1" fill-opacity="0.9"/>
<circle cx="17.8" cy="481.37" r="0.65" fill="#ffffff" stroke="none" stroke-width="1" fill-opacity="0.9"/>
<circle cx="20.07" cy="486.55" r="0.55" fill="#ffffff" stroke="none" stroke-width="1" fill-opacity="0.9"/>
<circle cx="7.2" cy="489.46" r="0.65" fill="#ffffff" stroke="none" stroke-width="1" fill-opacity="0.9"/>
<circle cx="22.39" cy="473.85" r="0.55" fill="#ffffff" stroke="none" stroke-width="1" fill-opacity="0.9"/>
<circle cx="67.53" cy="480.92" r="0.55" fill="#ffffff" stroke="none" stroke-width="1" fill-opacity="0.9"/>
<circle cx="76.96" cy="501.14" r="0.55" fill="#ffffff" stroke="none" stroke-width="1" fill-opacity="0.9"/>
<circle cx="74.75" cy="474.55" r="0.45" fill="#ffffff" stroke="none" stroke-width="1" fill-opacity="0.9"/>
<circle cx="12.65" cy="499.93" r="0.45" fill="#ffffff" stroke="none" stroke-width="1" fill-opacity="0.9"/>
<circle cx="38.34" cy="496.46" r="0.55" fill="#ffffff" stroke="none" stroke-width="1" fill-opacity="0.9"/>
<circle cx="22.71" cy="474.28" r="0.65" fill="#ffffff" stroke="none" stroke-width="1" fill-opacity="0.9"/>
<circle cx="29.43" cy="495.32" r="0.45" fill="#ffffff" stroke="none" stroke-width="1" fill-opacity="0.9"/>
<circle cx="54.17" cy="492.77" r="0.65" fill="#ffffff" stroke="none" stroke-width="1" fill-opacity="0.9"/>
<circle cx="51.43" cy="503.99" r="0.55" fill="#ffffff" stroke="none" stroke-width="1" fill-opacity="0.9"/>
<circle cx="70.26" cy="506" r="0.65" fill="#ffffff" stroke="none" stroke-width="1" fill-opacity="0.9"/>
<circle cx="62.44" cy="486.62" r="0.55" fill="#ffffff" stroke="none" stroke-width="1" fill-opacity="0.9"/>
<circle cx="31.35" cy="491.08" r="0.55" fill="#ffffff" stroke="none" stroke-width="1" fill-opacity="0.9"/>
<circle cx="5.79" cy="470.37" r="0.45" fill="#ffffff" stroke="none" stroke-width="1" fill-opacity="0.9"/>
<circle cx="34.93" cy="472.5" r="0.65" fill="#ffffff" stroke="none" stroke-width="1" fill-opacity="0.9"/>
<circle cx="5.05" cy="467.01" r="0.45" fill="#ffffff" stroke="none" stroke-width="1" fill-opacity="0.9"/>
<circle cx="42.32" cy="514.45" r="0.65" fill="#ffffff" stroke="none" stroke-width="1" fill-opacity="0.9"/>
<circle cx="2.96" cy="510.72" r="0.65" fill="#ffffff" stroke="none" stroke-width="1" fill-opacity="0.9"/>
<circle cx="29.97" cy="498.72" r="0.55" fill="#ffffff" stroke="none" stroke-width="1" fill-opacity="0.9"/>
<circle cx="47.38" cy="490.71" r="0.45" fill="#ffffff" stroke="none" stroke-width="1" fill-opacity="0.9"/>
<circle cx="66.37" cy="516.66" r="0.55" fill="#ffffff" stroke="none" stroke-width="1" fill-opacity="0.9"/>
<circle cx="37.99" cy="482.59" r="0.45" fill="#ffffff" stroke="none" stroke-width="1" fill-opacity="0.9"/>
<circle cx="8.87" cy="484.13" r="0.55" fill="#ffffff" stroke="none" stroke-width="1" fill-opacity="0.9"/>
<circle cx="37.85" cy="501.6" r="0.65" fill="#ffffff" stroke="none" stroke-width="1" fill-opacity="0.9"/>
<circle cx="2.78" cy="514.55" r="0.65" fill="#ffffff" stroke="none" stroke-width="1" fill-opacity="0.9"/>
<circle cx="28.85" cy="501.5" r="0.45" fill="#ffffff" stroke="none" stroke-width="1" fill-opacity="0.9"/>
<circle cx="59.38" cy="481.9" r="0.65" fill="#ffffff" stroke="none" stroke-width="1" fill-opacity="0.9"/>
<circle cx="67.48" cy="501.81" r="0.55" fill="#ffffff" stroke="none" stroke-width="1" fill-opacity="0.9"/>
<circle cx="40.92" cy="512.41" r="0.55" fill="#ffffff" stroke="none" stroke-width="1" fill-opacity="0.9"/>
<circle cx="60.44" cy="493.63" r="0.65" fill="#ffffff" stroke="none" stroke-width="1" fill-opacity="0.9"/>
<circle cx="26.38" cy="478.15" r="0.45" fill="#ffffff" stroke="none" stroke-width="1" fill-opacity="0.9"/>
<circle cx="63.07" cy="507.92" r="0.65" fill="#ffffff" stroke="none" stroke-width="1" fill-opacity="0.9"/>
<circle cx="62.86" cy="477" r="0.55" fill="#ffffff" stroke="none" stroke-width="1" fill-opacity="0.9"/>
<circle cx="28.38" cy="468.45" r="0.45" fill="#ffffff" stroke="none" stroke-width="1" fill-opacity="0.9"/>
<circle cx="61.84" cy="490.61" r="0.45" fill="#ffffff" stroke="none" stroke-width="1" fill-opacity="0.9"/>
<circle cx="54.32" cy="514.83" r="0.55" fill="#ffffff" stroke="none" stroke-width="1" fill-opacity="0.9"/>
<circle cx="63.26" cy="503.16" r="0.55" fill="#ffffff" stroke="none" stroke-width="1" fill-opacity="0.9"/>
<circle cx="74.54" cy="485.23" r="0.45" fill="#ffffff" stroke="none" stroke-width="1" fill-opacity="0.9"/>
<circle cx="8.87" cy="490.5" r="0.55" fill="#ffffff" stroke="none" stroke-width="1" fill-opacity="0.9"/>
<circle cx="16.74" cy="498.2" r="0.65" fill="#ffffff" stroke="none" stroke-width="1" fill-opacity="0.9"/>
<circle cx="65.71" cy="490.97" r="0.65" fill="#ffffff" stroke="none" stroke-width="1" fill-opacity="0.9"/>
<circle cx="27.49" cy="499.16" r="0.65" fill="#ffffff" stroke="none" stroke-width="1" fill-opacity="0.9"/>
<circle cx="10.23" cy="486.43" r="0.65" fill="#ffffff" stroke="none" stroke-width="1" fill-opacity="0.9"/>
<circle cx="58.76" cy="490.9" r="0.45" fill="#ffffff" stroke="none" stroke-width="1" fill-opacity="0.9"/>
<circle cx="34.41" cy="498.79" r="0.45" fill="#ffffff" stroke="none" stroke-width="1" fill-opacity="0.9"/>
<circle cx="62.66" cy="515.58" r="0.55" fill="#ffffff" stroke="none" stroke-width="1" fill-opacity="0.9"/>
<circle cx="36.66" cy="504.17" r="0.45" fill="#ffffff" stroke="none" stroke-width="1" fill-opacity="0.9"/>
<circle cx="56.81" cy="475.5" r="0.45" fill="#ffffff" stroke="none" stroke-width="1" fill-opacity="0.9"/>
<circle cx="3.12" cy="496.54" r="0.55" fill="#ffffff" stroke="none" stroke-width="1" fill-opacity="0.9"/>
<circle cx="63.1" cy="474.31" r="0.65" fill="#ffffff" stroke="none" stroke-width="1" fill-opacity="0.9"/>
<circle cx="76.48" cy="499.86" r="0.55" fill="#ffffff" stroke="none" stroke-width="1" fill-opacity="0.9"/>
<circle cx="13.01" cy="494.41" r="0.45" fill="#ffffff" stroke="none" stroke-width="1" fill-opacity="0.9"/>
<circle cx="2.1" cy="515.54" r="0.65" fill="#ffffff" stroke="none" stroke-width="1" fill-opacity="0.9"/>
<circle cx="8.91" cy="504.47" r="0.45" fill="#ffffff" stroke="none" stroke-width="1" fill-opacity="0.9"/>
<circle cx="34.4" cy="510.59" r="0.45" fill="#ffffff" stroke="none" stroke-width="1" fill-opacity="0.9"/>
<circle cx="3.16" cy="477.64" r="0.65" fill="#ffffff" stroke="none" stroke-width="1" fill-opacity="0.9"/>
<circle cx="19.52" cy="496.32" r="0.55" fill="#ffffff" stroke="none" stroke-width="1" fill-opacity="0.9"/>
<circle cx="42.92" cy="508.71" r="0.45" fill="#ffffff" stroke="none" stroke-width="1" fill-opacity="0.9"/>
<circle cx="71.07" cy="484.69" r="0.55" fill="#ffffff" stroke="none" stroke-width="1" fill-opacity="0.9"/>
<circle cx="52.01" cy="507.75" r="0.65" fill="#ffffff" stroke="none" stroke-width="1" fill-opacity="0.9"/>
<circle cx="33.39" cy="512.89" r="0.65" fill="#ffffff" stroke="none" stroke-width="1" fill-opacity="0.9"/>
<circle cx="11.07" cy="474.59" r="0.65" fill="#ffffff" stroke="none" stroke-width="1" fill-opacity="0.9"/>
<circle cx="2.44" cy="489.01" r="0.45" fill="#ffffff" stroke="none" stroke-width="1" fill-opacity="0.9"/>
<circle cx="47.86" cy="505.8" r="0.45" fill="#ffffff" stroke="none" stroke-width="1" fill-opacity="0.9"/>
<circle cx="14.27" cy="490.67" r="0.65" fill="#ffffff" stroke="none" stroke-width="1" fill-opacity="0.9"/>
<circle cx="10.27" cy="470.09" r="0.65" fill="#ffffff" stroke="none" stroke-width="1" fill-opacity="0.9"/>
<circle cx="40.91" cy="494.77" r="0.45" fill="#ffffff" stroke="none" stroke-width="1" fill-opacity="0.9"/>
<circle cx="69.01" cy="469.84" r="0.45" fill="#ffffff" stroke="none" stroke-width="1" fill-opacity="0.9"/>
<circle cx="22.32" cy="505.61" r="0.65" fill="#ffffff" stroke="none" stroke-width="1" fill-opacity="0.9"/>
<circle cx="35.82" cy="468.39" r="0.45" fill="#ffffff" stroke="none" stroke-width="1" fill-opacity="0.9"/>
<circle cx="35.13" cy="497.63" r="0.65" fill="#ffffff" stroke="none" stroke-width="1" fill-opacity="0.9"/>
<circle cx="47.67" cy="476.97" r="0.55" fill="#ffffff" stroke="none" stroke-width="1" fill-opacity="0.9"/>
<circle cx="35.83" cy="493.66" r="0.55" fill="#ffffff" stroke="none" stroke-width="1" fill-opacity="0.9"/>
<circle cx="40.1" cy="479.38" r="0.65" fill="#ffffff" stroke="none" stroke-width="1" fill-opacity="0.9"/>
<circle cx="68.49" cy="514.11" r="0.55" fill="#ffffff" stroke="none" stroke-width="1" fill-opacity="0.9"/>
<circle cx="72.05" cy="511.64" r="0.45" fill="#ffffff" stroke="none" stroke-width="1" fill-opacity="0.9"/>
<circle cx="65.68" cy="473.86" r="0.45" fill="#ffffff" stroke="none" stroke-width="1" fill-opacity="0.9"/>
<circle cx="31.21" cy="482.8" r="0.65" fill="#ffffff" stroke="none" stroke-width="1" fill-opacity="0.9"/>
<circle cx="19.53" cy="470.66" r="0.65" fill="#ffffff" stroke="none" stroke-width="1" fill-opacity="0.9"/>
<circle cx="24.31" cy="473.12" r="0.45" fill="#ffffff" stroke="none" stroke-width="1" fill-opacity="0.9"/>
<circle cx="73.34" cy="499.17" r="0.55" fill="#ffffff" stroke="none" stroke-width="1" fill-opacity="0.9"/>
<circle cx="12.01" cy="511.14" r="0.55" fill="#ffffff" stroke="none" stroke-width="1" fill-opacity="0.9"/>
<circle cx="17.91" cy="514.63" r="0.55" fill="#ffffff" stroke="none" stroke-width="1" fill-opacity="0.9"/>
<circle cx="69.14" cy="475.14" r="0.65" fill="#ffffff" stroke="none" stroke-width="1" fill-opacity="0.9"/>
<circle cx="65.1" cy="475.07" r="0.55" fill="#ffffff" stroke="none" stroke-width="1" fill-opacity="0.9"/>
<circle cx="77.54" cy="487.19" r="0.55" fill="#ffffff" stroke="none" stroke-width="1" fill-opacity="0.9"/>
<circle cx="16.07" cy="482.93" r="0.65" fill="#ffffff" stroke="none" stroke-width="1" fill-opacity="0.9"/>
<circle cx="29.18" cy="483.9" r="0.55" fill="#ffffff" stroke="none" stroke-width="1" fill-opacity="0.9"/>
<circle cx="34.92" cy="467.9" r="0.55" fill="#ffffff" stroke="none" stroke-width="1" fill-opacity="0.9"/>
<circle cx="40.84" cy="481.77" r="0.45" fill="#ffffff" stroke="none" stroke-width="1" fill-opacity="0.9"/>
<circle cx="9.69" cy="512.93" r="0.45" fill="#ffffff" stroke="none" stroke-width="1" fill-opacity="0.9"/>
<circle cx="75.82" cy="472.24" r="0.55" fill="#ffffff" stroke="none" stroke-width="1" fill-opacity="0.9"/>
<circle cx="21.94" cy="512.29" r="0.45" fill="#ffffff" stroke="none" stroke-width="1" fill-opacity="0.9"/>
<circle cx="21.82" cy="473.48" r="0.55" fill="#ffffff" stroke="none" stroke-width="1" fill-opacity="0.9"/>
<circle cx="66.42" cy="500.8" r="0.55" fill="#ffffff" stroke="none" stroke-width="1" fill-opacity="0.9"/>
<circle cx="32.26" cy="493.83" r="0.65" fill="#ffffff" stroke="none" stroke-width="1" fill-opacity="0.9"/>
<circle cx="44.94" cy="502.02" r="0.45" fill="#ffffff" stroke="none" stroke-width="1" fill-opacity="0.9"/>
<circle cx="22.49" cy="506.98" r="0.45" fill="#ffffff" stroke="none" stroke-width="1" fill-opacity="0.9"/>
<circle cx="33.75" cy="470.62" r="0.45" fill="#ffffff" stroke="none" stroke-width="1" fill-opacity="0.9"/>
<circle cx="49.85" cy="507.08" r="0.45" fill="#ffffff" stroke="none" stroke-width="1" fill-opacity="0.9"/>
<circle cx="47.83" cy="478.12" r="0.55" fill="#ffffff" stroke="none" stroke-width="1" fill-opacity="0.9"/>
<circle cx="67.43" cy="489.69" r="0.55" fill="#ffffff" stroke="none" stroke-width="1" fill-opacity="0.9"/>
<circle cx="77.56" cy="487.89" r="0.55" fill="#ffffff" stroke="none" stroke-width="1" fill-opacity="0.9"/>
<circle cx="48.87" cy="469.16" r="0.65" fill="#ffffff" stroke="none" stroke-width="1" fill-opacity="0.9"/>
<circle cx="19.36" cy="472.47" r="0.45" fill="#ffffff" stroke="none" stroke-width="1" fill-opacity="0.9"/>
<circle cx="21.17" cy="476.06" r="0.55" fill="#ffffff" stroke="none" stroke-width="1" fill-opacity="0.9"/>
<circle cx="49.41" cy="493.55" r="0.45" fill="#ffffff" stroke="none" stroke-width="1" fill-opacity="0.9"/>
<circle cx="23.33" cy="492" r="0.45" fill="#ffffff" stroke="none" stroke-width="1" fill-opacity="0.9"/>
<circle cx="21.83" cy="507.18" r="0.55" fill="#ffffff" stroke="none" stroke-width="1" fill-opacity="0.9"/>
<circle cx="3.85" cy="467.92" r="0.65" fill="#ffffff" stroke="none" stroke-width="1" fill-opacity="0.9"/>
<circle cx="43.43" cy="476.47" r="0.55" fill="#ffffff" stroke="none" stroke-width="1" fill-opacity="0.9"/>
<circle cx="19.92" cy="489.35" r="0.65" fill="#ffffff" stroke="none" stroke-width="1" fill-opacity="0.9"/>
<circle cx="64.06" cy="488.61" r="0.55" fill="#ffffff" stroke="none" stroke-width="1" fill-opacity="0.9"/>
<circle cx="43.03" cy="511.44" r="0.65" fill="#ffffff" stroke="none" stroke-width="1" fill-opacity="0.9"/>
<circle cx="24.7" cy="477.76" r="0.45" fill="#ffffff" stroke="none" stroke-width="1" fill-opacity="0.9"/>
<circle cx="27.39" cy="508.61" r="0.65" fill="#ffffff" stroke="none" stroke-width="1" fill-opacity="0.9"/>
<circle cx="57.12" cy="473.99" r="0.55" fill="#ffffff" stroke="none" stroke-width="1" fill-opacity="0.9"/>
<circle cx="76.6" cy="508.85" r="0.45" fill="#ffffff" stroke="none" stroke-width="1" fill-opacity="0.9"/>
<circle cx="6.45" cy="504.04" r="0.55" fill="#ffffff" stroke="none" stroke-width="1" fill-opacity="0.9"/>
<circle cx="34.17" cy="469.77" r="0.65" fill="#ffffff" stroke="none" stroke-width="1" fill-opacity="0.9"/>
<circle cx="65.78" cy="510.53" r="0.65" fill="#ffffff" stroke="none" stroke-width="1" fill-opacity="0.9"/>
<circle cx="75.76" cy="496.94" r="0.65" fill="#ffffff" stroke="none" stroke-width="1" fill-opacity="0.9"/>
<circle cx="23.57" cy="489.97" r="0.45" fill="#ffffff" stroke="none" stroke-width="1" fill-opacity="0.9"/>
<circle cx="21.72" cy="467.18" r="0.55" fill="#ffffff" stroke="none" stroke-width="1" fill-opacity="0.9"/>
<circle cx="75.06" cy="515.63" r="0.65" fill="#ffffff" stroke="none" stroke-width="1" fill-opacity="0.9"/>
<circle cx="25.91" cy="468.72" r="0.55" fill="#ffffff" stroke="none" stroke-width="1" fill-opacity="0.9"/>
<circle cx="17.78" cy="476.15" r="0.55" fill="#ffffff" stroke="none" stroke-width="1" fill-opacity="0.9"/>
<circle cx="30.39" cy="490.73" r="0.65" fill="#ffffff" stroke="none" stroke-width="1" fill-opacity="0.9"/>
<circle cx="51.51" cy="479.41" r="0.45" fill="#ffffff" stroke="none" stroke-width="1" fill-opacity="0.9"/>
<circle cx="8" cy="507.85" r="0.45" fill="#ffffff" stroke="none" stroke-width="1" fill-opacity="0.9"/>
<circle cx="31.76" cy="469.08" r="0.45" fill="#ffffff" stroke="none" stroke-width="1" fill-opacity="0.9"/>
<circle cx="24.07" cy="498.48" r="0.45" fill="#ffffff" stroke="none" stroke-width="1" fill-opacity="0.9"/>
<circle cx="46.09" cy="493.46" r="0.45" fill="#ffffff" stroke="none" stroke-width="1" fill-opacity="0.9"/>
<circle cx="51.63" cy="502.8" r="0.65" fill="#ffffff" stroke="none" stroke-width="1" fill-opacity="0.9"/>
<circle cx="30.99" cy="483.31" r="0.55" fill="#ffffff" stroke="none" stroke-width="1" fill-opacity="0.9"/>
<circle cx="12.51" cy="503.21" r="0.65" fill="#ffffff" stroke="none" stroke-width="1" fill-opacity="0.9"/>
<circle cx="12.15" cy="508.24" r="0.65" fill="#ffffff" stroke="none" stroke-width="1" fill-opacity="0.9"/>
<circle cx="69.68" cy="498.37" r="0.65" fill="#ffffff" stroke="none" stroke-width="1" fill-opacity="0.9"/>
<circle cx="54.98" cy="492.28" r="0.65" fill="#ffffff" stroke="none" stroke-width="1" fill-opacity="0.9"/>
<circle cx="58.97" cy="495.42" r="0.45" fill="#ffffff" stroke="none" stroke-width="1" fill-opacity="0.9"/>
<circle cx="64.63" cy="496.2" r="0.65" fill="#ffffff" stroke="none" stroke-width="1" fill-opacity="0.9"/>
<circle cx="53.58" cy="501.67" r="0.45" fill="#ffffff" stroke="none" stroke-width="1" fill-opacity="0.9"/>
<circle cx="7.55" cy="469.09" r="0.65" fill="#ffffff" stroke="none" stroke-width="1" fill-opacity="0.9"/>
<circle cx="28.77" cy="472.25" r="0.55" fill="#ffffff" stroke="none" stroke-width="1" fill-opacity="0.9"/>
<circle cx="44.01" cy="498.39" r="0.65" fill="#ffffff" stroke="none" stroke-width="1" fill-opacity="0.9"/>
<circle cx="41.92" cy="479.23" r="0.55" fill="#ffffff" stroke="none" stroke-width="1" fill-opacity="0.9"/>
<circle cx="1.26" cy="506.88" r="0.65" fill="#ffffff" stroke="none" stroke-width="1" fill-opacity="0.9"/>
<circle cx="72.8" cy="511.89" r="0.45" fill="#ffffff" stroke="none" stroke-width="1" fill-opacity="0.9"/>
<circle cx="51.77" cy="470.3" r="0.65" fill="#ffffff" stroke="none" stroke-width="1" fill-opacity="0.9"/>
<circle cx="37.49" cy="507.46" r="0.55" fill="#ffffff" stroke="none" stroke-width="1" fill-opacity="0.9"/>
<circle cx="19.08" cy="504.82" r="0.45" fill="#ffffff" stroke="none" stroke-width="1" fill-opacity="0.9"/>
<circle cx="57.97" cy="515.79" r="0.55" fill="#ffffff" stroke="none" stroke-width="1" fill-opacity="0.9"/>
<circle cx="66.11" cy="470.84" r="0.65" fill="#ffffff" stroke="none" stroke-width="1" fill-opacity="0.9"/>
<circle cx="23.12" cy="469.34" r="0.65" fill="#ffffff" stroke="none" stroke-width="1" fill-opacity="0.9"/>
<circle cx="50.49" cy="470.87" r="0.45" fill="#ffffff" stroke="none" stroke-width="1" fill-opacity="0.9"/>
<circle cx="26.55" cy="499.58" r="0.65" fill="#ffffff" stroke="none" stroke-width="1" fill-opacity="0.9"/>
<circle cx="24.44" cy="495.39" r="0.45" fill="#ffffff" stroke="none" stroke-width="1" fill-opacity="0.9"/>
<circle cx="38.15" cy="491.29" r="0.65" fill="#ffffff" stroke="none" stroke-width="1" fill-opacity="0.9"/>
<circle cx="8.66" cy="477.88" r="0.55" fill="#ffffff" stroke="none" stroke-width="1" fill-opacity="0.9"/>
<circle cx="23.4" cy="492.83" r="0.55" fill="#ffffff" stroke="none" stroke-width="1" fill-opacity="0.9"/>
<circle cx="36.87" cy="505.36" r="0.65" fill="#ffffff" stroke="none" stroke-width="1" fill-opacity="0.9"/>
<circle cx="16.34" cy="515.91" r="0.55" fill="#ffffff" stroke="none" stroke-width="1" fill-opacity="0.9"/>
<circle cx="2.35" cy="489.95" r="0.65" fill="#ffffff" stroke="none" stroke-width="1" fill-opacity="0.9"/>
<circle cx="75.54" cy="489.47" r="0.55" fill="#ffffff" stroke="none" stroke-width="1" fill-opacity="0.9"/>
<circle cx="30.79" cy="512.83" r="0.45" fill="#ffffff" stroke="none" stroke-width="1" fill-opacity="0.9"/>
<circle cx="6.75" cy="471.52" r="0.65" fill="#ffffff" stroke="none" stroke-width="1" fill-opacity="0.9"/>
<circle cx="41.35" cy="514.64" r="0.45" fill="#ffffff" stroke="none" stroke-width="1" fill-opacity="0.9"/>
<circle cx="47.46" cy="498.58" r="0.55" fill="#ffffff" stroke="none" stroke-width="1" fill-opacity="0.9"/>
<circle cx="69.29" cy="502.17" r="0.45" fill="#ffffff" stroke="none" stroke-width="1" fill-opacity="0.9"/>
<circle cx="39.34" cy="510.81" r="0.55" fill="#ffffff" stroke="none" stroke-width="1" fill-opacity="0.9"/>
<circle cx="2.91" cy="467.18" r="0.55" fill="#ffffff" stroke="none" stroke-width="1" fill-opacity="0.9"/>
<circle cx="53.48" cy="487.27" r="0.65" fill="#ffffff" stroke="none" stroke-width="1" fill-opacity="0.9"/>
<circle cx="11.83" cy="484.2" r="0.55" fill="#ffffff" stroke="none" stroke-width="1" fill-opacity="0.9"/>
<circle cx="10.31" cy="483.57" r="0.55" fill="#ffffff" stroke="none" stroke-width="1" fill-opacity="0.9"/>
<circle cx="58.81" cy="508.96" r="0.45" fill="#ffffff" stroke="none" stroke-width="1" fill-opacity="0.9"/>
<circle cx="73.37" cy="476.79" r="0.45" fill="#ffffff" stroke="none" stroke-width="1" fill-opacity="0.9"/>
<circle cx="70.42" cy="481.49" r="0.55" fill="#ffffff" stroke="none" stroke-width="1" fill-opacity="0.9"/>
<circle cx="6" cy="486.51" r="0.65" fill="#ffffff" stroke="none" stroke-width="1" fill-opacity="0.9"/>
<circle cx="6.88" cy="513.27" r="0.55" fill="#ffffff" stroke="none" stroke-width="1" fill-opacity="0.9"/>
<circle cx="66.78" cy="481.03" r="0.45" fill="#ffffff" stroke="none" stroke-width="1" fill-opacity="0.9"/>
<circle cx="65.27" cy="481.28" r="0.45" fill="#ffffff" stroke="none" stroke-width="1" fill-opacity="0.9"/>
<circle cx="20.2" cy="480.29" r="0.65" fill="#ffffff" stroke="none" stroke-width="1" fill-opacity="0.9"/>
<circle cx="25.3" cy="505.66" r="0.55" fill="#ffffff" stroke="none" stroke-width="1" fill-opacity="0.9"/>
<circle cx="69.09" cy="507.6" r="0.65" fill="#ffffff" stroke="none" stroke-width="1" fill-opacity="0.9"/>
<circle cx="31.8" cy="510.79" r="0.65" fill="#ffffff" stroke="none" stroke-width="1" fill-opacity="0.9"/>
<circle cx="43.29" cy="502.98" r="0.45" fill="#ffffff" stroke="none" stroke-width="1" fill-opacity="0.9"/>
<circle cx="72.88" cy="487.54" r="0.65" fill="#ffffff" stroke="none" stroke-width="1" fill-opacity="0.9"/>
<circle cx="58.96" cy="499.22" r="0.55" fill="#ffffff" stroke="none" stroke-width="1" fill-opacity="0.9"/>
<circle cx="38.39" cy="512.6" r="0.65" fill="#ffffff" stroke="none" stroke-width="1" fill-opacity="0.9"/>
<circle cx="10.8" cy="490.61" r="0.55" fill="#ffffff" stroke="none" stroke-width="1" fill-opacity="0.9"/>
<circle cx="22.69" cy="479.79" r="0.65" fill="#ffffff" stroke="none" stroke-width="1" fill-opacity="0.9"/>
<circle cx="76.17" cy="480.01" r="0.65" fill="#ffffff" stroke="none" stroke-width="1" fill-opacity="0.9"/>
<circle cx="19.38" cy="491.16" r="0.65" fill="#ffffff" stroke="none" stroke-width="1" fill-opacity="0.9"/>
<circle cx="31.37" cy="475.37" r="0.45" fill="#ffffff" stroke="none" stroke-width="1" fill-opacity="0.9"/>
<circle cx="6.79" cy="492.03" r="0.55" fill="#ffffff" stroke="none" stroke-width="1" fill-opacity="0.9"/>
</g>
<polygon points="76.8,487.7 93.9,480.6 104.5,480 115.1,497.7 109.2,500.6 98.6,493" stroke="none" stroke-width="1" fill="#5660b0" fill-opacity="0.9"/>
<polygon points="87.4,475.1 133.3,465.3 132.7,473 110.3,500.1 94.4,478.9" stroke="none" stroke-width="1" fill="#4252aa" fill-opacity="0.9"/>
<polygon points="121,471.2 145.1,467.7 146.9,487.1 150.4,496.5 129.2,515.4 119.8,498.9" stroke="none" stroke-width="1" fill="#4a58ae" fill-opacity="0.9"/>
<polygon points="96.2,477.7 125.7,471.8 136.3,491.8 133.9,504.8 116.2,496.5" stroke="none" stroke-width="1" fill="#3a4ea6" fill-opacity="0.9"/>
<polygon points="119.8,497.7 150.4,496.5 129.2,515.4" stroke="none" stroke-width="1" fill="#5e66b2" fill-opacity="0.9"/>
<clipPath id="f2clip"><polygon points="121,471.2 145.1,467.7 146.9,487.1 150.4,496.5 129.2,515.4 119.8,498.9" stroke="none" stroke-width="1" fill="#333" /></clipPath>
<g clip-path="url(#f2clip)">
<circle cx="132.99" cy="503.6" r="0.45" fill="#ffffff" stroke="none" stroke-width="1" fill-opacity="0.85"/>
<circle cx="130.78" cy="494.08" r="0.45" fill="#ffffff" stroke="none" stroke-width="1" fill-opacity="0.85"/>
<circle cx="129.87" cy="477.16" r="0.45" fill="#ffffff" stroke="none" stroke-width="1" fill-opacity="0.85"/>
<circle cx="149.98" cy="475.75" r="0.45" fill="#ffffff" stroke="none" stroke-width="1" fill-opacity="0.85"/>
<circle cx="142.12" cy="484.99" r="0.45" fill="#ffffff" stroke="none" stroke-width="1" fill-opacity="0.85"/>
<circle cx="137.97" cy="486.31" r="0.45" fill="#ffffff" stroke="none" stroke-width="1" fill-opacity="0.85"/>
<circle cx="132.23" cy="498.73" r="0.45" fill="#ffffff" stroke="none" stroke-width="1" fill-opacity="0.85"/>
<circle cx="129.97" cy="476.66" r="0.45" fill="#ffffff" stroke="none" stroke-width="1" fill-opacity="0.85"/>
<circle cx="128.44" cy="477.87" r="0.45" fill="#ffffff" stroke="none" stroke-width="1" fill-opacity="0.85"/>
<circle cx="136.97" cy="501.38" r="0.45" fill="#ffffff" stroke="none" stroke-width="1" fill-opacity="0.85"/>
<circle cx="136.34" cy="472.21" r="0.45" fill="#ffffff" stroke="none" stroke-width="1" fill-opacity="0.85"/>
<circle cx="133.68" cy="504.69" r="0.45" fill="#ffffff" stroke="none" stroke-width="1" fill-opacity="0.85"/>
<circle cx="129.39" cy="490.95" r="0.45" fill="#ffffff" stroke="none" stroke-width="1" fill-opacity="0.85"/>
<circle cx="136.3" cy="492.45" r="0.45" fill="#ffffff" stroke="none" stroke-width="1" fill-opacity="0.85"/>
<circle cx="135.45" cy="493.58" r="0.45" fill="#ffffff" stroke="none" stroke-width="1" fill-opacity="0.85"/>
<circle cx="138.95" cy="492.04" r="0.45" fill="#ffffff" stroke="none" stroke-width="1" fill-opacity="0.85"/>
<circle cx="147.83" cy="489.52" r="0.45" fill="#ffffff" stroke="none" stroke-width="1" fill-opacity="0.85"/>
<circle cx="131.13" cy="470.38" r="0.45" fill="#ffffff" stroke="none" stroke-width="1" fill-opacity="0.85"/>
<circle cx="148.81" cy="486.08" r="0.45" fill="#ffffff" stroke="none" stroke-width="1" fill-opacity="0.85"/>
<circle cx="132.26" cy="503" r="0.45" fill="#ffffff" stroke="none" stroke-width="1" fill-opacity="0.85"/>
<circle cx="140.74" cy="494.97" r="0.45" fill="#ffffff" stroke="none" stroke-width="1" fill-opacity="0.85"/>
<circle cx="147.38" cy="478.57" r="0.45" fill="#ffffff" stroke="none" stroke-width="1" fill-opacity="0.85"/>
<circle cx="135.85" cy="500.49" r="0.45" fill="#ffffff" stroke="none" stroke-width="1" fill-opacity="0.85"/>
<circle cx="130.97" cy="496.28" r="0.45" fill="#ffffff" stroke="none" stroke-width="1" fill-opacity="0.85"/>
<circle cx="130.15" cy="493.54" r="0.45" fill="#ffffff" stroke="none" stroke-width="1" fill-opacity="0.85"/>
</g>
<polygon points="149.7,481.5 183.9,476.2 194.5,490.3 161.5,509.2 160.3,492.7" stroke="none" stroke-width="1" fill="#6470b6" fill-opacity="0.82"/>
<polygon points="168.6,465 200.4,469.7 196.8,493.9 168.6,473.9" stroke="none" stroke-width="1" fill="#5060b0" fill-opacity="0.82"/>
<polygon points="183.9,473.9 218,470.3 215.7,490.3 194.5,491.5" stroke="none" stroke-width="1" fill="#5664b2" fill-opacity="0.82"/>
<polygon points="168.6,492.7 218.6,486.2 169.7,513.3" stroke="none" stroke-width="1" fill="#4a58ae" fill-opacity="0.82"/>
<polygon points="172.1,477.4 198,472.7 211,485.6 194.5,492.7 179.2,490.3" stroke="none" stroke-width="1" fill="#3a4ea6" fill-opacity="0.82"/>
<text x="4" y="377.4" font-size="15" font-weight="bold" fill="#231a1a" text-anchor="start" font-family="Liberation Sans" >g</text>
<polyline points="270.32,504.45 279.35,501.27 297.4,497.02 333.5,483.22 369.6,460.93 405.7,419.53 441.8,386.62" stroke="#2b55b5" stroke-width="1.7" fill="none" />
<circle cx="270.32" cy="504.45" r="3.6" fill="#2b55b5" stroke="none" stroke-width="1" />
<circle cx="270.02" cy="503.95" r="1" fill="#ffffff" stroke="none" stroke-width="1" fill-opacity="0.55"/>
<circle cx="279.35" cy="501.27" r="3.6" fill="#2b55b5" stroke="none" stroke-width="1" />
<circle cx="279.05" cy="500.77" r="1" fill="#ffffff" stroke="none" stroke-width="1" fill-opacity="0.55"/>
<circle cx="297.4" cy="497.02" r="3.6" fill="#2b55b5" stroke="none" stroke-width="1" />
<circle cx="297.1" cy="496.52" r="1" fill="#ffffff" stroke="none" stroke-width="1" fill-opacity="0.55"/>
<circle cx="333.5" cy="483.22" r="3.6" fill="#2b55b5" stroke="none" stroke-width="1" />
<circle cx="333.2" cy="482.72" r="1" fill="#ffffff" stroke="none" stroke-width="1" fill-opacity="0.55"/>
<circle cx="369.6" cy="460.93" r="3.6" fill="#2b55b5" stroke="none" stroke-width="1" />
<circle cx="369.3" cy="460.43" r="1" fill="#ffffff" stroke="none" stroke-width="1" fill-opacity="0.55"/>
<circle cx="405.7" cy="419.53" r="3.6" fill="#2b55b5" stroke="none" stroke-width="1" />
<circle cx="405.4" cy="419.03" r="1" fill="#ffffff" stroke="none" stroke-width="1" fill-opacity="0.55"/>
<circle cx="441.8" cy="386.62" r="3.6" fill="#2b55b5" stroke="none" stroke-width="1" />
<circle cx="441.5" cy="386.12" r="1" fill="#ffffff" stroke="none" stroke-width="1" fill-opacity="0.55"/>
<polyline points="270.32,505.52 279.35,503.39 297.4,500.21 333.5,495.96 369.6,491.71 405.7,488.53 441.8,485.34" stroke="#e8283a" stroke-width="1.7" fill="none" />
<circle cx="270.32" cy="505.52" r="3.6" fill="#e8283a" stroke="none" stroke-width="1" />
<circle cx="270.02" cy="505.02" r="1" fill="#ffffff" stroke="none" stroke-width="1" fill-opacity="0.55"/>
<circle cx="279.35" cy="503.39" r="3.6" fill="#e8283a" stroke="none" stroke-width="1" />
<circle cx="279.05" cy="502.89" r="1" fill="#ffffff" stroke="none" stroke-width="1" fill-opacity="0.55"/>
<circle cx="297.4" cy="500.21" r="3.6" fill="#e8283a" stroke="none" stroke-width="1" />
<circle cx="297.1" cy="499.71" r="1" fill="#ffffff" stroke="none" stroke-width="1" fill-opacity="0.55"/>
<circle cx="333.5" cy="495.96" r="3.6" fill="#e8283a" stroke="none" stroke-width="1" />
<circle cx="333.2" cy="495.46" r="1" fill="#ffffff" stroke="none" stroke-width="1" fill-opacity="0.55"/>
<circle cx="369.6" cy="491.71" r="3.6" fill="#e8283a" stroke="none" stroke-width="1" />
<circle cx="369.3" cy="491.21" r="1" fill="#ffffff" stroke="none" stroke-width="1" fill-opacity="0.55"/>
<circle cx="405.7" cy="488.53" r="3.6" fill="#e8283a" stroke="none" stroke-width="1" />
<circle cx="405.4" cy="488.03" r="1" fill="#ffffff" stroke="none" stroke-width="1" fill-opacity="0.55"/>
<circle cx="441.8" cy="485.34" r="3.6" fill="#e8283a" stroke="none" stroke-width="1" />
<circle cx="441.5" cy="484.84" r="1" fill="#ffffff" stroke="none" stroke-width="1" fill-opacity="0.55"/>
<polyline points="270.32,507.64 279.35,507.64 297.4,506.58 333.5,504.45 369.6,503.39 405.7,502.33 441.8,502.33" stroke="#1f8a3a" stroke-width="1.7" fill="none" />
<circle cx="270.32" cy="507.64" r="3.6" fill="#1f8a3a" stroke="none" stroke-width="1" />
<circle cx="270.02" cy="507.14" r="1" fill="#ffffff" stroke="none" stroke-width="1" fill-opacity="0.55"/>
<circle cx="279.35" cy="507.64" r="3.6" fill="#1f8a3a" stroke="none" stroke-width="1" />
<circle cx="279.05" cy="507.14" r="1" fill="#ffffff" stroke="none" stroke-width="1" fill-opacity="0.55"/>
<circle cx="297.4" cy="506.58" r="3.6" fill="#1f8a3a" stroke="none" stroke-width="1" />
<circle cx="297.1" cy="506.08" r="1" fill="#ffffff" stroke="none" stroke-width="1" fill-opacity="0.55"/>
<circle cx="333.5" cy="504.45" r="3.6" fill="#1f8a3a" stroke="none" stroke-width="1" />
<circle cx="333.2" cy="503.95" r="1" fill="#ffffff" stroke="none" stroke-width="1" fill-opacity="0.55"/>
<circle cx="369.6" cy="503.39" r="3.6" fill="#1f8a3a" stroke="none" stroke-width="1" />
<circle cx="369.3" cy="502.89" r="1" fill="#ffffff" stroke="none" stroke-width="1" fill-opacity="0.55"/>
<circle cx="405.7" cy="502.33" r="3.6" fill="#1f8a3a" stroke="none" stroke-width="1" />
<circle cx="405.4" cy="501.83" r="1" fill="#ffffff" stroke="none" stroke-width="1" fill-opacity="0.55"/>
<circle cx="441.8" cy="502.33" r="3.6" fill="#1f8a3a" stroke="none" stroke-width="1" />
<circle cx="441.5" cy="501.83" r="1" fill="#ffffff" stroke="none" stroke-width="1" fill-opacity="0.55"/>
<line x1="261.3" y1="375.8" x2="447.2" y2="375.8" stroke="#2e2e2e" stroke-width="1.4" />
<line x1="447.2" y1="375.8" x2="447.2" y2="513.4" stroke="#2e2e2e" stroke-width="1.4" />
<line x1="261.3" y1="375.8" x2="261.3" y2="513.4" stroke="#2e2e2e" stroke-width="1.6" />
<line x1="261.3" y1="513.4" x2="447.2" y2="513.4" stroke="#2e2e2e" stroke-width="1.6" />
<line x1="258.5" y1="508.7" x2="261.3" y2="508.7" stroke="#333" stroke-width="1.1" />
<text x="253.3" y="511.5" font-size="8.4" font-weight="bold" fill="#2e2323" text-anchor="end" font-family="Liberation Sans" >0</text>
<line x1="258.5" y1="482.16" x2="261.3" y2="482.16" stroke="#333" stroke-width="1.1" />
<text x="253.3" y="484.96" font-size="8.4" font-weight="bold" fill="#2e2323" text-anchor="end" font-family="Liberation Sans" >25</text>
<line x1="258.5" y1="455.62" x2="261.3" y2="455.62" stroke="#333" stroke-width="1.1" />
<text x="253.3" y="458.42" font-size="8.4" font-weight="bold" fill="#2e2323" text-anchor="end" font-family="Liberation Sans" >50</text>
<line x1="258.5" y1="429.08" x2="261.3" y2="429.08" stroke="#333" stroke-width="1.1" />
<text x="253.3" y="431.88" font-size="8.4" font-weight="bold" fill="#2e2323" text-anchor="end" font-family="Liberation Sans" >75</text>
<line x1="258.5" y1="402.54" x2="261.3" y2="402.54" stroke="#333" stroke-width="1.1" />
<text x="253.3" y="405.34" font-size="8.4" font-weight="bold" fill="#2e2323" text-anchor="end" font-family="Liberation Sans" >100</text>
<line x1="258.5" y1="376" x2="261.3" y2="376" stroke="#333" stroke-width="1.1" />
<text x="253.3" y="378.8" font-size="8.4" font-weight="bold" fill="#2e2323" text-anchor="end" font-family="Liberation Sans" >125</text>
<line x1="261.3" y1="513.4" x2="261.3" y2="516.4" stroke="#333" stroke-width="1.1" />
<text x="261.3" y="526.8" font-size="8.4" font-weight="bold" fill="#2e2323" text-anchor="middle" font-family="Liberation Sans" >0</text>
<line x1="279.35" y1="513.4" x2="279.35" y2="516.4" stroke="#333" stroke-width="1.1" />
<text x="279.35" y="526.8" font-size="8.4" font-weight="bold" fill="#2e2323" text-anchor="middle" font-family="Liberation Sans" >10</text>
<line x1="297.4" y1="513.4" x2="297.4" y2="516.4" stroke="#333" stroke-width="1.1" />
<text x="297.4" y="526.8" font-size="8.4" font-weight="bold" fill="#2e2323" text-anchor="middle" font-family="Liberation Sans" >20</text>
<line x1="315.45" y1="513.4" x2="315.45" y2="516.4" stroke="#333" stroke-width="1.1" />
<text x="315.45" y="526.8" font-size="8.4" font-weight="bold" fill="#2e2323" text-anchor="middle" font-family="Liberation Sans" >30</text>
<line x1="333.5" y1="513.4" x2="333.5" y2="516.4" stroke="#333" stroke-width="1.1" />
<text x="333.5" y="526.8" font-size="8.4" font-weight="bold" fill="#2e2323" text-anchor="middle" font-family="Liberation Sans" >40</text>
<line x1="351.55" y1="513.4" x2="351.55" y2="516.4" stroke="#333" stroke-width="1.1" />
<text x="351.55" y="526.8" font-size="8.4" font-weight="bold" fill="#2e2323" text-anchor="middle" font-family="Liberation Sans" >50</text>
<line x1="369.6" y1="513.4" x2="369.6" y2="516.4" stroke="#333" stroke-width="1.1" />
<text x="369.6" y="526.8" font-size="8.4" font-weight="bold" fill="#2e2323" text-anchor="middle" font-family="Liberation Sans" >60</text>
<line x1="387.65" y1="513.4" x2="387.65" y2="516.4" stroke="#333" stroke-width="1.1" />
<text x="387.65" y="526.8" font-size="8.4" font-weight="bold" fill="#2e2323" text-anchor="middle" font-family="Liberation Sans" >70</text>
<line x1="405.7" y1="513.4" x2="405.7" y2="516.4" stroke="#333" stroke-width="1.1" />
<text x="405.7" y="526.8" font-size="8.4" font-weight="bold" fill="#2e2323" text-anchor="middle" font-family="Liberation Sans" >80</text>
<line x1="423.75" y1="513.4" x2="423.75" y2="516.4" stroke="#333" stroke-width="1.1" />
<text x="423.75" y="526.8" font-size="8.4" font-weight="bold" fill="#2e2323" text-anchor="middle" font-family="Liberation Sans" >90</text>
<line x1="441.8" y1="513.4" x2="441.8" y2="516.4" stroke="#333" stroke-width="1.1" />
<text x="441.8" y="526.8" font-size="8.4" font-weight="bold" fill="#2e2323" text-anchor="middle" font-family="Liberation Sans" >100</text>
<text x="354.1" y="541.4" textLength="99.4" lengthAdjust="spacingAndGlyphs" font-size="8.8" font-weight="bold" fill="#2e2323" text-anchor="middle" font-family="Liberation Sans">H<tspan dy="2" font-size="5.5">2</tspan><tspan dy="-2"> Concentration (ppm)</tspan></text>
<text x="0" y="0" font-size="8.9" font-weight="bold" fill="#2e2323" text-anchor="middle" dominant-baseline="central" font-family="Liberation Sans" transform="translate(229.6,444.25) rotate(-90)" textLength="75.7" lengthAdjust="spacingAndGlyphs">Sensor Response</text>
<line x1="332.3" y1="386" x2="348.5" y2="386" stroke="#2b55b5" stroke-width="1.9" />
<circle cx="340.5" cy="386" r="3" fill="#2b55b5" stroke="none" stroke-width="1" />
<circle cx="340.1" cy="385.4" r="0.9" fill="#fff" stroke="none" stroke-width="1" fill-opacity="0.7"/>
<text x="353.8" y="389.2" font-size="8.8" font-weight="bold" fill="#2b55b5" text-anchor="start" font-family="Liberation Sans" >ZnO@400</text>
<line x1="332.3" y1="398" x2="348.5" y2="398" stroke="#e8283a" stroke-width="1.9" />
<circle cx="340.5" cy="398" r="3" fill="#e8283a" stroke="none" stroke-width="1" />
<circle cx="340.1" cy="397.4" r="0.9" fill="#fff" stroke="none" stroke-width="1" fill-opacity="0.7"/>
<text x="353.8" y="401.2" font-size="8.8" font-weight="bold" fill="#e8283a" text-anchor="start" font-family="Liberation Sans" >ZnO@600</text>
<line x1="332.3" y1="409.7" x2="348.5" y2="409.7" stroke="#1f8a3a" stroke-width="1.9" />
<circle cx="340.5" cy="409.7" r="3" fill="#1f8a3a" stroke="none" stroke-width="1" />
<circle cx="340.1" cy="409.1" r="0.9" fill="#fff" stroke="none" stroke-width="1" fill-opacity="0.7"/>
<text x="353.8" y="412.9" font-size="8.8" font-weight="bold" fill="#1f8a3a" text-anchor="start" font-family="Liberation Sans" >ZnO@800</text>
<text x="211.8" y="377.6" font-size="15" font-weight="bold" fill="#231a1a" text-anchor="start" font-family="Liberation Sans" >h</text>
<rect x="531.24" y="376.7" width="20.95" height="137.6" fill="#52b6cf" stroke="none" stroke-width="1" />
<rect x="552.19" y="376.7" width="61.22" height="137.6" fill="#5aae4a" stroke="none" stroke-width="1" />
<line x1="531.24" y1="376.7" x2="531.24" y2="514.3" stroke="#2a6a5a" stroke-width="1" stroke-dasharray="3,2"/>
<line x1="613.42" y1="376.7" x2="613.42" y2="514.3" stroke="#8a8a8a" stroke-width="1.4" stroke-dasharray="3,2"/>
<line x1="531.24" y1="469.4" x2="568.22" y2="469.4" stroke="#222" stroke-width="0.9" stroke-dasharray="2.5,1.5"/>
<polyline points="497,415.46 498.78,415.46 500.56,415.46 502.34,415.46 504.12,415.46 505.9,415.46 507.68,415.46 509.46,415.46 511.24,415.46 513.02,415.46 514.8,415.46 516.59,415.46 518.37,415.46 520.15,415.46 521.93,415.46 523.71,415.46 525.49,415.46 527.27,415.46 529.05,415.46 530.83,415.46 531.24,413.54 533.02,428.34 535.35,444.78 537.68,453.82 540.42,458.2 545.21,462.31 549.32,464.23 554.52,465.33 559.32,465.88 564.11,466.29 568.9,466.56 573.7,466.7 578.49,466.84 583.28,466.97 588.08,466.97 592.87,466.97 597.67,467.11 602.46,467.25 607.25,467.25 611.36,467.25 613.42,466.7 618.48,440.39 620.54,413.54 622.32,412.72 624.1,412.72 625.88,412.72 627.66,412.72 629.44,412.72 631.22,412.72 633,412.72 634.78,412.72 636.56,412.72 638.34,412.72 640.12,412.72 641.9,412.72 643.68,412.72 645.46,412.72 647.25,412.72 649.03,412.72 650.81,412.72 652.59,412.72 654.37,412.72 656.15,412.72 657.93,412.72 659.71,412.72 661.49,412.72 663.27,412.72 665.05,412.72 666.83,412.72" stroke="#2b55b5" stroke-width="1.8" fill="none" />
<circle cx="497" cy="415.46" r="2.3" fill="#fff" stroke="#2b55b5" stroke-width="1" />
<circle cx="498.78" cy="415.46" r="2.3" fill="#fff" stroke="#2b55b5" stroke-width="1" />
<circle cx="500.56" cy="415.46" r="2.3" fill="#fff" stroke="#2b55b5" stroke-width="1" />
<circle cx="502.34" cy="415.46" r="2.3" fill="#fff" stroke="#2b55b5" stroke-width="1" />
<circle cx="504.12" cy="415.46" r="2.3" fill="#fff" stroke="#2b55b5" stroke-width="1" />
<circle cx="505.9" cy="415.46" r="2.3" fill="#fff" stroke="#2b55b5" stroke-width="1" />
<circle cx="507.68" cy="415.46" r="2.3" fill="#fff" stroke="#2b55b5" stroke-width="1" />
<circle cx="509.46" cy="415.46" r="2.3" fill="#fff" stroke="#2b55b5" stroke-width="1" />
<circle cx="511.24" cy="415.46" r="2.3" fill="#fff" stroke="#2b55b5" stroke-width="1" />
<circle cx="513.02" cy="415.46" r="2.3" fill="#fff" stroke="#2b55b5" stroke-width="1" />
<circle cx="514.8" cy="415.46" r="2.3" fill="#fff" stroke="#2b55b5" stroke-width="1" />
<circle cx="516.59" cy="415.46" r="2.3" fill="#fff" stroke="#2b55b5" stroke-width="1" />
<circle cx="518.37" cy="415.46" r="2.3" fill="#fff" stroke="#2b55b5" stroke-width="1" />
<circle cx="520.15" cy="415.46" r="2.3" fill="#fff" stroke="#2b55b5" stroke-width="1" />
<circle cx="521.93" cy="415.46" r="2.3" fill="#fff" stroke="#2b55b5" stroke-width="1" />
<circle cx="523.71" cy="415.46" r="2.3" fill="#fff" stroke="#2b55b5" stroke-width="1" />
<circle cx="525.49" cy="415.46" r="2.3" fill="#fff" stroke="#2b55b5" stroke-width="1" />
<circle cx="527.27" cy="415.46" r="2.3" fill="#fff" stroke="#2b55b5" stroke-width="1" />
<circle cx="529.05" cy="415.46" r="2.3" fill="#fff" stroke="#2b55b5" stroke-width="1" />
<circle cx="530.83" cy="415.46" r="2.3" fill="#fff" stroke="#2b55b5" stroke-width="1" />
<circle cx="622.32" cy="412.72" r="2.3" fill="#fff" stroke="#2b55b5" stroke-width="1" />
<circle cx="624.1" cy="412.72" r="2.3" fill="#fff" stroke="#2b55b5" stroke-width="1" />
<circle cx="625.88" cy="412.72" r="2.3" fill="#fff" stroke="#2b55b5" stroke-width="1" />
<circle cx="627.66" cy="412.72" r="2.3" fill="#fff" stroke="#2b55b5" stroke-width="1" />
<circle cx="629.44" cy="412.72" r="2.3" fill="#fff" stroke="#2b55b5" stroke-width="1" />
<circle cx="631.22" cy="412.72" r="2.3" fill="#fff" stroke="#2b55b5" stroke-width="1" />
<circle cx="633" cy="412.72" r="2.3" fill="#fff" stroke="#2b55b5" stroke-width="1" />
<circle cx="634.78" cy="412.72" r="2.3" fill="#fff" stroke="#2b55b5" stroke-width="1" />
<circle cx="636.56" cy="412.72" r="2.3" fill="#fff" stroke="#2b55b5" stroke-width="1" />
<circle cx="638.34" cy="412.72" r="2.3" fill="#fff" stroke="#2b55b5" stroke-width="1" />
<circle cx="640.12" cy="412.72" r="2.3" fill="#fff" stroke="#2b55b5" stroke-width="1" />
<circle cx="641.9" cy="412.72" r="2.3" fill="#fff" stroke="#2b55b5" stroke-width="1" />
<circle cx="643.68" cy="412.72" r="2.3" fill="#fff" stroke="#2b55b5" stroke-width="1" />
<circle cx="645.46" cy="412.72" r="2.3" fill="#fff" stroke="#2b55b5" stroke-width="1" />
<circle cx="647.25" cy="412.72" r="2.3" fill="#fff" stroke="#2b55b5" stroke-width="1" />
<circle cx="649.03" cy="412.72" r="2.3" fill="#fff" stroke="#2b55b5" stroke-width="1" />
<circle cx="650.81" cy="412.72" r="2.3" fill="#fff" stroke="#2b55b5" stroke-width="1" />
<circle cx="652.59" cy="412.72" r="2.3" fill="#fff" stroke="#2b55b5" stroke-width="1" />
<circle cx="654.37" cy="412.72" r="2.3" fill="#fff" stroke="#2b55b5" stroke-width="1" />
<circle cx="656.15" cy="412.72" r="2.3" fill="#fff" stroke="#2b55b5" stroke-width="1" />
<circle cx="657.93" cy="412.72" r="2.3" fill="#fff" stroke="#2b55b5" stroke-width="1" />
<circle cx="659.71" cy="412.72" r="2.3" fill="#fff" stroke="#2b55b5" stroke-width="1" />
<circle cx="661.49" cy="412.72" r="2.3" fill="#fff" stroke="#2b55b5" stroke-width="1" />
<circle cx="663.27" cy="412.72" r="2.3" fill="#fff" stroke="#2b55b5" stroke-width="1" />
<circle cx="665.05" cy="412.72" r="2.3" fill="#fff" stroke="#2b55b5" stroke-width="1" />
<circle cx="666.83" cy="412.72" r="2.3" fill="#fff" stroke="#2b55b5" stroke-width="1" />
<circle cx="531.24" cy="413.54" r="3" fill="#fff" stroke="#2b55b5" stroke-width="1.1" />
<circle cx="533.02" cy="428.34" r="3" fill="#fff" stroke="#2b55b5" stroke-width="1.1" />
<circle cx="535.35" cy="444.78" r="3" fill="#fff" stroke="#2b55b5" stroke-width="1.1" />
<circle cx="537.68" cy="453.82" r="3" fill="#fff" stroke="#2b55b5" stroke-width="1.1" />
<circle cx="540.42" cy="458.2" r="3" fill="#fff" stroke="#2b55b5" stroke-width="1.1" />
<circle cx="545.21" cy="462.31" r="3" fill="#fff" stroke="#2b55b5" stroke-width="1.1" />
<circle cx="549.32" cy="464.23" r="3" fill="#fff" stroke="#2b55b5" stroke-width="1.1" />
<circle cx="554.52" cy="465.33" r="3" fill="#fff" stroke="#2b55b5" stroke-width="1.1" />
<circle cx="559.32" cy="465.88" r="3" fill="#fff" stroke="#2b55b5" stroke-width="1.1" />
<circle cx="564.11" cy="466.29" r="3" fill="#fff" stroke="#2b55b5" stroke-width="1.1" />
<circle cx="568.9" cy="466.56" r="3" fill="#fff" stroke="#2b55b5" stroke-width="1.1" />
<circle cx="573.7" cy="466.7" r="3" fill="#fff" stroke="#2b55b5" stroke-width="1.1" />
<circle cx="578.49" cy="466.84" r="3" fill="#fff" stroke="#2b55b5" stroke-width="1.1" />
<circle cx="583.28" cy="466.97" r="3" fill="#fff" stroke="#2b55b5" stroke-width="1.1" />
<circle cx="588.08" cy="466.97" r="3" fill="#fff" stroke="#2b55b5" stroke-width="1.1" />
<circle cx="592.87" cy="466.97" r="3" fill="#fff" stroke="#2b55b5" stroke-width="1.1" />
<circle cx="597.67" cy="467.11" r="3" fill="#fff" stroke="#2b55b5" stroke-width="1.1" />
<circle cx="602.46" cy="467.25" r="3" fill="#fff" stroke="#2b55b5" stroke-width="1.1" />
<circle cx="607.25" cy="467.25" r="3" fill="#fff" stroke="#2b55b5" stroke-width="1.1" />
<circle cx="611.36" cy="467.25" r="3" fill="#fff" stroke="#2b55b5" stroke-width="1.1" />
<circle cx="613.42" cy="466.7" r="3" fill="#fff" stroke="#2b55b5" stroke-width="1.1" />
<circle cx="618.48" cy="440.39" r="3" fill="#fff" stroke="#2b55b5" stroke-width="1.1" />
<circle cx="620.54" cy="413.54" r="3" fill="#fff" stroke="#2b55b5" stroke-width="1.1" />
<rect x="497" y="376.7" width="171.2" height="137.6" fill="none" stroke="#2a2a2a" stroke-width="1.4" />
<line x1="494.2" y1="514.1" x2="497" y2="514.1" stroke="#333" stroke-width="1.1" />
<text x="490.3" y="517" font-size="8.4" font-weight="bold" fill="#2e2323" text-anchor="end" font-family="Liberation Sans" >0</text>
<line x1="494.2" y1="486.7" x2="497" y2="486.7" stroke="#333" stroke-width="1.1" />
<text x="490.3" y="489.6" font-size="8.4" font-weight="bold" fill="#2e2323" text-anchor="end" font-family="Liberation Sans" >10</text>
<line x1="494.2" y1="459.3" x2="497" y2="459.3" stroke="#333" stroke-width="1.1" />
<text x="490.3" y="462.2" font-size="8.4" font-weight="bold" fill="#2e2323" text-anchor="end" font-family="Liberation Sans" >20</text>
<line x1="494.2" y1="431.9" x2="497" y2="431.9" stroke="#333" stroke-width="1.1" />
<text x="490.3" y="434.8" font-size="8.4" font-weight="bold" fill="#2e2323" text-anchor="end" font-family="Liberation Sans" >30</text>
<line x1="494.2" y1="404.5" x2="497" y2="404.5" stroke="#333" stroke-width="1.1" />
<text x="490.3" y="407.4" font-size="8.4" font-weight="bold" fill="#2e2323" text-anchor="end" font-family="Liberation Sans" >40</text>
<line x1="494.2" y1="377.1" x2="497" y2="377.1" stroke="#333" stroke-width="1.1" />
<text x="490.3" y="380" font-size="8.4" font-weight="bold" fill="#2e2323" text-anchor="end" font-family="Liberation Sans" >50</text>
<line x1="497" y1="514.3" x2="497" y2="517.3" stroke="#333" stroke-width="1.1" />
<text x="497" y="528.2" font-size="8.4" font-weight="bold" fill="#2e2323" text-anchor="middle" font-family="Liberation Sans" >75</text>
<line x1="531.24" y1="514.3" x2="531.24" y2="517.3" stroke="#333" stroke-width="1.1" />
<text x="531.24" y="528.2" font-size="8.4" font-weight="bold" fill="#2e2323" text-anchor="middle" font-family="Liberation Sans" >100</text>
<line x1="565.48" y1="514.3" x2="565.48" y2="517.3" stroke="#333" stroke-width="1.1" />
<text x="565.48" y="528.2" font-size="8.4" font-weight="bold" fill="#2e2323" text-anchor="middle" font-family="Liberation Sans" >125</text>
<line x1="599.72" y1="514.3" x2="599.72" y2="517.3" stroke="#333" stroke-width="1.1" />
<text x="599.72" y="528.2" font-size="8.4" font-weight="bold" fill="#2e2323" text-anchor="middle" font-family="Liberation Sans" >150</text>
<line x1="633.96" y1="514.3" x2="633.96" y2="517.3" stroke="#333" stroke-width="1.1" />
<text x="633.96" y="528.2" font-size="8.4" font-weight="bold" fill="#2e2323" text-anchor="middle" font-family="Liberation Sans" >175</text>
<line x1="668.2" y1="514.3" x2="668.2" y2="517.3" stroke="#333" stroke-width="1.1" />
<text x="668.2" y="528.2" font-size="8.4" font-weight="bold" fill="#2e2323" text-anchor="middle" font-family="Liberation Sans" >200</text>
<text x="582.6" y="541.6" font-size="8.8" font-weight="bold" fill="#2e2323" text-anchor="middle" font-family="Liberation Sans"  textLength="44.4" lengthAdjust="spacingAndGlyphs">Time (sec)</text>
<text x="0" y="0" font-size="8.9" font-weight="bold" fill="#2e2323" text-anchor="middle" dominant-baseline="central" font-family="Liberation Sans" transform="translate(467.6,453.3) rotate(-90)" textLength="72" lengthAdjust="spacingAndGlyphs">Resistance (MΩ)</text>
<text x="0" y="0" font-size="9.0" font-weight="bold" fill="#d8283a" text-anchor="middle" dominant-baseline="central" font-family="Liberation Sans" transform="translate(537.3,391.6) rotate(-90)" textLength="27" lengthAdjust="spacingAndGlyphs">Gas In</text>
<text x="0" y="0" font-size="9.0" font-weight="bold" fill="#d8283a" text-anchor="middle" dominant-baseline="central" font-family="Liberation Sans" transform="translate(620.2,494.3) rotate(-90)">Gas Out</text>
<text x="582.8" y="489.4" font-size="8.6" font-weight="bold" fill="#222" text-anchor="middle" font-family="Liberation Sans" >Steady-state</text>
<text x="582.8" y="500.4" font-size="8.6" font-weight="bold" fill="#222" text-anchor="middle" font-family="Liberation Sans" >response</text>
<text x="541" y="490" font-size="4.1" font-weight="bold" fill="#222" text-anchor="middle" font-family="Liberation Sans" >Transient</text>
<text x="541" y="496" font-size="4.1" font-weight="bold" fill="#222" text-anchor="middle" font-family="Liberation Sans" >response</text>
<text x="0" y="0" font-size="9" font-weight="bold" fill="#e0288a" text-anchor="middle" dominant-baseline="central" font-family="Liberation Sans" transform="translate(516.2,473.5) rotate(-90)">T<tspan dy="2" font-size="6">response</tspan><tspan dy="-2"> = 9 sec</tspan></text>
<text x="0" y="0" font-size="9" font-weight="bold" fill="#e0288a" text-anchor="middle" dominant-baseline="central" font-family="Liberation Sans" transform="translate(643.0,471.5) rotate(-90)">T<tspan dy="2" font-size="6">Recovery</tspan><tspan dy="-2"> = 6 sec</tspan></text>
<line x1="602.7" y1="386.8" x2="618.4" y2="386.8" stroke="#2b55b5" stroke-width="1.9" />
<circle cx="610.9" cy="386.8" r="2.9" fill="#fff" stroke="#2b55b5" stroke-width="1.1" />
<text x="623.7" y="390" font-size="8.8" font-weight="bold" fill="#2b55b5" text-anchor="start" font-family="Liberation Sans" >ZnO@400</text>
<text x="618.4" y="402.4" font-size="8.6" font-weight="bold" fill="#222" text-anchor="start" font-family="Liberation Sans" >@100 ppm</text>
<text x="462.3" y="377.6" font-size="15" font-weight="bold" fill="#231a1a" text-anchor="start" font-family="Liberation Sans" >i</text>
<line x1="1.44" y1="176.9" x2="683.2" y2="176.9" stroke="#1f7a4a" stroke-width="1.9" stroke-dasharray="3.7,3.156"/>
<line x1="1.44" y1="358.1" x2="683.2" y2="358.1" stroke="#1f7a4a" stroke-width="1.9" stroke-dasharray="3.7,3.156"/>
<rect x="0" y="0" width="685" height="1.1" fill="#1c0c0a" stroke="none" stroke-width="1" />
<rect x="0" y="0" width="1.5" height="552" fill="#1c0c0a" stroke="none" stroke-width="1" />
<rect x="683.2" y="0" width="1.8" height="552" fill="#1c0c0a" stroke="none" stroke-width="1" />
</svg></body></html>
